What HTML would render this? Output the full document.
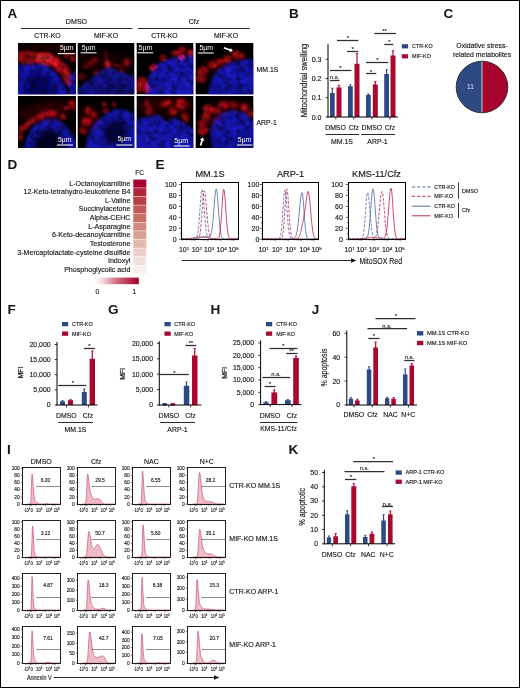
<!DOCTYPE html>
<html lang="en"><head><meta charset="utf-8"><title>Figure</title>
<style>html,body{margin:0;padding:0;background:#fff}svg{display:block}text{font-family:'Liberation Sans', sans-serif}.k{stroke:#161314;stroke-width:.13px}</style>
</head><body>
<svg width="520" height="688" viewBox="0 0 520 688" fill="#161314">
<defs>
<filter id="b1" x="-50%" y="-50%" width="200%" height="200%"><feGaussianBlur stdDeviation="1.0"/></filter>
<filter id="b2" x="-50%" y="-50%" width="200%" height="200%"><feGaussianBlur stdDeviation="1.7"/></filter>
<filter id="b3" x="-50%" y="-50%" width="200%" height="200%"><feGaussianBlur stdDeviation="3.2"/></filter>
<filter id="noise0" x="0" y="0" width="100%" height="100%"><feTurbulence type="fractalNoise" baseFrequency="0.17" numOctaves="2" seed="4"/><feColorMatrix type="matrix" values="0 0 0 0 0  0 0 0 0 0  0 0 0 0 0  0 0 0 1.0 -0.3"/></filter>
<filter id="noise1" x="0" y="0" width="100%" height="100%"><feTurbulence type="fractalNoise" baseFrequency="0.17" numOctaves="2" seed="11"/><feColorMatrix type="matrix" values="0 0 0 0 0  0 0 0 0 0  0 0 0 0 0  0 0 0 1.0 -0.3"/></filter>
</defs>
<rect x="0" y="0" width="520" height="688" fill="#fff"/>
<text transform="translate(7.4 18.1) scale(1.13 1)" x="0" y="0" font-size="12" font-weight="bold">A</text>
<text x="76.5" y="23.54" font-size="7.1" text-anchor="middle" class="k">DMSO</text>
<text x="194" y="23.54" font-size="7.1" text-anchor="middle" class="k">Cfz</text>
<line x1="21" y1="28.5" x2="132.5" y2="28.5" stroke="#2a2a2a" stroke-width="1"/>
<line x1="138" y1="28.5" x2="249.5" y2="28.5" stroke="#2a2a2a" stroke-width="1"/>
<text x="47.5" y="37.67" font-size="6.9" text-anchor="middle" class="k">CTR-KO</text>
<text x="106" y="37.67" font-size="6.9" text-anchor="middle" class="k">MIF-KO</text>
<text x="164.5" y="37.67" font-size="6.9" text-anchor="middle" class="k">CTR-KO</text>
<text x="226" y="37.67" font-size="6.9" text-anchor="middle" class="k">MIF-KO</text>
<text x="256.5" y="71.97" font-size="6.9" class="k">MM.1S</text>
<text x="256.5" y="124.97" font-size="6.9" class="k">ARP-1</text>
<g transform="translate(18 43)" clip-path="url(#clip1)">
<clipPath id="clip1"><rect x="0" y="0" width="58" height="51.5"/></clipPath>
<rect x="0" y="0" width="58" height="51.5" fill="#000"/>
<path d="M-3 22.5 C8 20.5 20 20 28 22 C36 25.5 43.5 36 48.5 47 L52 58 L-3 58Z" fill="#1515ba" opacity="1" filter="url(#b2)"/>
<path d="M50 35 C53 30 57 28 62 27 L62 56 L52 56 C52 48 49 41 50 35Z" fill="#1515ba" opacity="0.9" filter="url(#b2)"/>
<path d="M8 34 C14 27 24 27 31 33 C36 40 38 48 38 58 L6 58Z" fill="#06065a" opacity="0.75" filter="url(#b3)"/>
<ellipse cx="10" cy="14.5" rx="14" ry="6.6" transform="rotate(3 10 14.5)" fill="#c80c18" opacity="0.8" filter="url(#b2)" style="mix-blend-mode:screen"/>
<ellipse cx="30" cy="16.5" rx="13" ry="6.6" transform="rotate(12 30 16.5)" fill="#c80c18" opacity="0.95" filter="url(#b2)" style="mix-blend-mode:screen"/>
<ellipse cx="43.5" cy="25" rx="11" ry="5.6" transform="rotate(40 43.5 25)" fill="#c80c18" opacity="0.9" filter="url(#b2)" style="mix-blend-mode:screen"/>
<ellipse cx="49" cy="35" rx="8.25" ry="4.11" transform="rotate(64 49 35)" fill="#c80c18" opacity="0.8" filter="url(#b2)" style="mix-blend-mode:screen"/>
<ellipse cx="27" cy="14.5" rx="8.25" ry="4.11" transform="rotate(10 27 14.5)" fill="#ff2222" opacity="0.9" filter="url(#b1)" style="mix-blend-mode:screen"/>
<ellipse cx="53" cy="14" rx="8.25" ry="4.11" transform="rotate(20 53 14)" fill="#c80c18" opacity="0.6" filter="url(#b2)" style="mix-blend-mode:screen"/>
<ellipse cx="29" cy="5.5" rx="30" ry="3" transform="rotate(0 29 5.5)" fill="#900" opacity="0.3" filter="url(#b3)" style="mix-blend-mode:screen"/>
<rect x="0" y="0" width="58" height="51.5" filter="url(#noise1)"/>

<line x1="39.9" y1="10.6" x2="56.9" y2="10.6" stroke="#f2f2f2" stroke-width="1.1"/>
<text x="48.7" y="7.03" font-size="6.5" text-anchor="middle" textLength="13.6" lengthAdjust="spacingAndGlyphs" fill="#fff">5µm</text>
</g>
<g transform="translate(77.5 43)" clip-path="url(#clip2)">
<clipPath id="clip2"><rect x="0" y="0" width="57" height="51.5"/></clipPath>
<rect x="0" y="0" width="57" height="51.5" fill="#000"/>
<path d="M-3 47 C8 41 18 30 30 23.5 C40 27 50 32 60 33 L60 58 L-3 58Z" fill="#1212a4" opacity="0.9" filter="url(#b2)"/>
<path d="M16 58 C22 47 30 42 40 42 C50 44 56 48 60 53 L60 58Z" fill="#08085c" opacity="0.5" filter="url(#b3)"/>
<ellipse cx="16.5" cy="18" rx="5.26" ry="2.73" transform="rotate(-30 16.5 18)" fill="#c80c18" opacity="0.6" filter="url(#b2)" style="mix-blend-mode:screen"/>
<ellipse cx="30" cy="21.2" rx="3.19" ry="2.96" transform="rotate(0 30 21.2)" fill="#f01c1c" opacity="0.95" filter="url(#b1)" style="mix-blend-mode:screen"/>
<ellipse cx="28.4" cy="13.5" rx="1.58" ry="6.52" transform="rotate(-8 28.4 13.5)" fill="#c80c18" opacity="0.55" filter="url(#b1)" style="mix-blend-mode:screen"/>
<ellipse cx="40" cy="22.5" rx="9" ry="1.2" transform="rotate(6 40 22.5)" fill="#c80c18" opacity="0.55" filter="url(#b1)" style="mix-blend-mode:screen"/>
<ellipse cx="49.5" cy="19.5" rx="3.42" ry="3.65" transform="rotate(0 49.5 19.5)" fill="#c80c18" opacity="0.65" filter="url(#b2)" style="mix-blend-mode:screen"/>
<ellipse cx="45" cy="27" rx="4.11" ry="2.04" transform="rotate(0 45 27)" fill="#c80c18" opacity="0.55" filter="url(#b2)" style="mix-blend-mode:screen"/>
<ellipse cx="4" cy="33.5" rx="5.26" ry="3.42" transform="rotate(0 4 33.5)" fill="#c80c18" opacity="0.5" filter="url(#b2)" style="mix-blend-mode:screen"/>
<ellipse cx="18.5" cy="29.5" rx="4.11" ry="2.27" transform="rotate(0 18.5 29.5)" fill="#c80c18" opacity="0.5" filter="url(#b2)" style="mix-blend-mode:screen"/>
<ellipse cx="10" cy="23" rx="4.8" ry="2.5" transform="rotate(-20 10 23)" fill="#c80c18" opacity="0.4" filter="url(#b2)" style="mix-blend-mode:screen"/>
<ellipse cx="28" cy="19" rx="34" ry="7" transform="rotate(0 28 19)" fill="#a00" opacity="0.2" filter="url(#b3)" style="mix-blend-mode:screen"/>
<rect x="0" y="0" width="57" height="51.5" filter="url(#noise0)"/>

<line x1="3.1" y1="9.8" x2="19" y2="9.8" stroke="#f2f2f2" stroke-width="1.1"/>
<text x="11.1" y="7.03" font-size="6.5" text-anchor="middle" textLength="13.6" lengthAdjust="spacingAndGlyphs" fill="#fff">5µm</text>
</g>
<g transform="translate(136.5 43)" clip-path="url(#clip3)">
<clipPath id="clip3"><rect x="0" y="0" width="57" height="51.5"/></clipPath>
<rect x="0" y="0" width="57" height="51.5" fill="#000"/>
<path d="M11 58 C8 45 10 33 19 23 C26 17 36 14 47 13 L62 11 L62 58Z" fill="#1515ba" opacity="1" filter="url(#b2)"/>
<path d="M24 58 C22 46 28 32 40 28 C50 26 56 30 62 32 L62 58Z" fill="#2020f0" opacity="0.35" filter="url(#b3)"/>
<ellipse cx="39" cy="10" rx="4.34" ry="2.96" transform="rotate(0 39 10)" fill="#c80c18" opacity="0.95" filter="url(#b1)" style="mix-blend-mode:screen"/>
<ellipse cx="46" cy="7.6" rx="4.11" ry="3.65" transform="rotate(30 46 7.6)" fill="#c80c18" opacity="0.95" filter="url(#b1)" style="mix-blend-mode:screen"/>
<ellipse cx="54.6" cy="10" rx="3.65" ry="3.65" transform="rotate(0 54.6 10)" fill="#c80c18" opacity="0.9" filter="url(#b1)" style="mix-blend-mode:screen"/>
<ellipse cx="45" cy="14.2" rx="4.11" ry="2.96" transform="rotate(0 45 14.2)" fill="#c80c18" opacity="0.95" filter="url(#b1)" style="mix-blend-mode:screen"/>
<ellipse cx="26.6" cy="15" rx="3.65" ry="3.19" transform="rotate(0 26.6 15)" fill="#c80c18" opacity="0.9" filter="url(#b1)" style="mix-blend-mode:screen"/>
<ellipse cx="16.6" cy="24.5" rx="4.34" ry="3.19" transform="rotate(-35 16.6 24.5)" fill="#c80c18" opacity="0.95" filter="url(#b1)" style="mix-blend-mode:screen"/>
<ellipse cx="5.5" cy="39" rx="6.52" ry="4.8" transform="rotate(20 5.5 39)" fill="#c80c18" opacity="0.9" filter="url(#b2)" style="mix-blend-mode:screen"/>
<ellipse cx="10" cy="46" rx="4.22" ry="4.22" transform="rotate(0 10 46)" fill="#c80c18" opacity="0.9" filter="url(#b2)" style="mix-blend-mode:screen"/>
<ellipse cx="3" cy="45" rx="3.65" ry="3.65" transform="rotate(0 3 45)" fill="#c80c18" opacity="0.8" filter="url(#b2)" style="mix-blend-mode:screen"/>
<rect x="0" y="0" width="57" height="51.5" filter="url(#noise1)"/>

<line x1="0.9" y1="9.8" x2="16.7" y2="9.8" stroke="#f2f2f2" stroke-width="1.1"/>
<text x="8.9" y="7.03" font-size="6.5" text-anchor="middle" textLength="13.6" lengthAdjust="spacingAndGlyphs" fill="#fff">5µm</text>
</g>
<g transform="translate(195.5 43)" clip-path="url(#clip4)">
<clipPath id="clip4"><rect x="0" y="0" width="58" height="51.5"/></clipPath>
<rect x="0" y="0" width="58" height="51.5" fill="#000"/>
<path d="M13 58 C12 45 15 33.5 24 25.5 C31 19.5 41 16.5 62 15.5 L62 58Z" fill="#1515ba" opacity="0.95" filter="url(#b2)"/>
<path d="M26 30 C30 24 38 24 40 30 C40 36 30 38 26 30Z" fill="#2020f0" opacity="0.55" filter="url(#b2)"/>
<path d="M44 36 C46 30 54 28 57 33 C58 40 48 44 44 36Z" fill="#2020f0" opacity="0.55" filter="url(#b2)"/>
<ellipse cx="42.5" cy="12" rx="6.41" ry="4.34" transform="rotate(20 42.5 12)" fill="#c80c18" opacity="0.95" filter="url(#b2)" style="mix-blend-mode:screen"/>
<ellipse cx="31.8" cy="16" rx="4.34" ry="3.65" transform="rotate(0 31.8 16)" fill="#c80c18" opacity="0.85" filter="url(#b1)" style="mix-blend-mode:screen"/>
<ellipse cx="24.4" cy="18.8" rx="4.11" ry="3.42" transform="rotate(0 24.4 18.8)" fill="#c80c18" opacity="0.85" filter="url(#b1)" style="mix-blend-mode:screen"/>
<ellipse cx="17.6" cy="21.6" rx="4.34" ry="3.65" transform="rotate(0 17.6 21.6)" fill="#c80c18" opacity="0.85" filter="url(#b1)" style="mix-blend-mode:screen"/>
<ellipse cx="7" cy="28.4" rx="5.95" ry="4.34" transform="rotate(-20 7 28.4)" fill="#c80c18" opacity="0.8" filter="url(#b2)" style="mix-blend-mode:screen"/>
<ellipse cx="5.6" cy="35.4" rx="5.49" ry="4.34" transform="rotate(0 5.6 35.4)" fill="#c80c18" opacity="0.8" filter="url(#b2)" style="mix-blend-mode:screen"/>
<ellipse cx="20" cy="22" rx="18" ry="5" transform="rotate(-22 20 22)" fill="#c00" opacity="0.3" filter="url(#b3)" style="mix-blend-mode:screen"/>
<rect x="0" y="0" width="58" height="51.5" filter="url(#noise0)"/>
<g transform="translate(28.4 4.8) rotate(20)"><path d="M0 -0.8 L6.5 -0.8 L6.5 -2.2 L9.6 0 L6.5 2.2 L6.5 0.8 L0 0.8Z" fill="#fff"/></g>
<line x1="2.3" y1="10" x2="18.2" y2="10" stroke="#f2f2f2" stroke-width="1.1"/>
<text x="10.8" y="7.03" font-size="6.5" text-anchor="middle" textLength="13.6" lengthAdjust="spacingAndGlyphs" fill="#fff">5µm</text>
</g>
<g transform="translate(18 96)" clip-path="url(#clip5)">
<clipPath id="clip5"><rect x="0" y="0" width="58" height="52"/></clipPath>
<rect x="0" y="0" width="58" height="52" fill="#000"/>
<path d="M6 58 C7 43 12 31 22 25.5 C30 21 38 22 45 27 C52 33 56 41 60 49 L60 58Z" fill="#1515ba" opacity="1" filter="url(#b2)"/>
<path d="M13 64 C15 45 22 33.5 31 32.5 C41 33.5 48 45 50 64Z" fill="#00001c" opacity="0.92" filter="url(#b3)"/>
<ellipse cx="31" cy="17" rx="8.82" ry="3.42" transform="rotate(0 31 17)" fill="#c80c18" opacity="0.9" filter="url(#b2)" style="mix-blend-mode:screen"/>
<ellipse cx="14" cy="25" rx="5.38" ry="2.96" transform="rotate(-35 14 25)" fill="#c80c18" opacity="0.85" filter="url(#b2)" style="mix-blend-mode:screen"/>
<ellipse cx="8" cy="30" rx="4.11" ry="2.96" transform="rotate(-40 8 30)" fill="#c80c18" opacity="0.8" filter="url(#b2)" style="mix-blend-mode:screen"/>
<ellipse cx="2.6" cy="33.5" rx="3.19" ry="4.11" transform="rotate(0 2.6 33.5)" fill="#c80c18" opacity="0.8" filter="url(#b2)" style="mix-blend-mode:screen"/>
<ellipse cx="2" cy="41" rx="2.96" ry="4.11" transform="rotate(0 2 41)" fill="#c80c18" opacity="0.7" filter="url(#b2)" style="mix-blend-mode:screen"/>
<ellipse cx="54.6" cy="6.8" rx="4.8" ry="2.5" transform="rotate(10 54.6 6.8)" fill="#c80c18" opacity="0.8" filter="url(#b1)" style="mix-blend-mode:screen"/>
<ellipse cx="49" cy="11.4" rx="3.19" ry="2.27" transform="rotate(0 49 11.4)" fill="#c80c18" opacity="0.8" filter="url(#b1)" style="mix-blend-mode:screen"/>
<ellipse cx="55.6" cy="11.4" rx="3.19" ry="2.04" transform="rotate(0 55.6 11.4)" fill="#c80c18" opacity="0.7" filter="url(#b1)" style="mix-blend-mode:screen"/>
<ellipse cx="44.6" cy="21" rx="3.65" ry="2.96" transform="rotate(30 44.6 21)" fill="#c80c18" opacity="0.75" filter="url(#b2)" style="mix-blend-mode:screen"/>
<ellipse cx="22" cy="21" rx="4.8" ry="2.96" transform="rotate(-20 22 21)" fill="#c80c18" opacity="0.8" filter="url(#b2)" style="mix-blend-mode:screen"/>
<ellipse cx="28" cy="15" rx="30" ry="9" transform="rotate(-8 28 15)" fill="#a00" opacity="0.3" filter="url(#b3)" style="mix-blend-mode:screen"/>
<rect x="0" y="0" width="58" height="52" filter="url(#noise1)"/>

<line x1="38.8" y1="49" x2="54.9" y2="49" stroke="#f2f2f2" stroke-width="1.1"/>
<text x="46.8" y="46.43" font-size="6.5" text-anchor="middle" textLength="13.6" lengthAdjust="spacingAndGlyphs" fill="#fff">5µm</text>
</g>
<g transform="translate(77.5 96)" clip-path="url(#clip6)">
<clipPath id="clip6"><rect x="0" y="0" width="57" height="52"/></clipPath>
<rect x="0" y="0" width="57" height="52" fill="#000"/>
<path d="M7 58 C9 43 12 33 18 26.6 C24 21 30 17 38 13.3 C44 12 52 15 60 20 L60 58Z" fill="#1515ba" opacity="1" filter="url(#b2)"/>
<path d="M26 41 C26 28 35 21.5 43 24 C52 28 52 40 45 46.5 C36 51 28 48 26 41Z" fill="#00002a" opacity="0.85" filter="url(#b3)"/>
<ellipse cx="11" cy="14.5" rx="2.96" ry="3.65" transform="rotate(0 11 14.5)" fill="#c80c18" opacity="0.8" filter="url(#b1)" style="mix-blend-mode:screen"/>
<ellipse cx="16.7" cy="19" rx="3.19" ry="3.19" transform="rotate(0 16.7 19)" fill="#c80c18" opacity="0.8" filter="url(#b1)" style="mix-blend-mode:screen"/>
<ellipse cx="9" cy="25.6" rx="5.26" ry="4.34" transform="rotate(0 9 25.6)" fill="#c80c18" opacity="0.9" filter="url(#b2)" style="mix-blend-mode:screen"/>
<ellipse cx="5.6" cy="34.6" rx="4.34" ry="3.19" transform="rotate(30 5.6 34.6)" fill="#c80c18" opacity="0.85" filter="url(#b2)" style="mix-blend-mode:screen"/>
<ellipse cx="26.8" cy="8.4" rx="2.5" ry="2.5" transform="rotate(0 26.8 8.4)" fill="#c80c18" opacity="0.8" filter="url(#b1)" style="mix-blend-mode:screen"/>
<ellipse cx="28" cy="14.5" rx="3.19" ry="2.5" transform="rotate(0 28 14.5)" fill="#c80c18" opacity="0.85" filter="url(#b1)" style="mix-blend-mode:screen"/>
<ellipse cx="36.2" cy="8.4" rx="2.5" ry="2.5" transform="rotate(0 36.2 8.4)" fill="#c80c18" opacity="0.75" filter="url(#b1)" style="mix-blend-mode:screen"/>
<ellipse cx="12" cy="22" rx="10" ry="12" transform="rotate(0 12 22)" fill="#a00" opacity="0.3" filter="url(#b3)" style="mix-blend-mode:screen"/>
<rect x="0" y="0" width="57" height="52" filter="url(#noise0)"/>

<line x1="38.8" y1="49" x2="54.9" y2="49" stroke="#f2f2f2" stroke-width="1.1"/>
<text x="46.8" y="45.03" font-size="6.5" text-anchor="middle" textLength="13.6" lengthAdjust="spacingAndGlyphs" fill="#fff">5µm</text>
</g>
<g transform="translate(136.5 96)" clip-path="url(#clip7)">
<clipPath id="clip7"><rect x="0" y="0" width="57" height="52"/></clipPath>
<rect x="0" y="0" width="57" height="52" fill="#000"/>
<path d="M-3 25 C4 22 14 20 22 19 C25 21 27 24 29 25 C33 24 36 22 39 22.5 C44 24 52 30 61 35 L61 58 L-3 58Z" fill="#1515ba" opacity="1" filter="url(#b2)"/>
<path d="M4 42 C10 34 20 32 30 36 C40 38 50 42 58 48 L58 58 L4 58Z" fill="#2020f0" opacity="0.3" filter="url(#b3)"/>
<ellipse cx="10.6" cy="7.2" rx="3.19" ry="3.65" transform="rotate(0 10.6 7.2)" fill="#c80c18" opacity="0.6" filter="url(#b2)" style="mix-blend-mode:screen"/>
<ellipse cx="12.3" cy="15" rx="4.11" ry="3.65" transform="rotate(0 12.3 15)" fill="#c80c18" opacity="0.85" filter="url(#b2)" style="mix-blend-mode:screen"/>
<ellipse cx="29.5" cy="7.2" rx="5.95" ry="2.96" transform="rotate(-15 29.5 7.2)" fill="#c80c18" opacity="0.85" filter="url(#b2)" style="mix-blend-mode:screen"/>
<ellipse cx="44.6" cy="7.8" rx="5.95" ry="5.26" transform="rotate(0 44.6 7.8)" fill="#c80c18" opacity="0.9" filter="url(#b2)" style="mix-blend-mode:screen"/>
<ellipse cx="36.8" cy="15" rx="4.34" ry="4.34" transform="rotate(0 36.8 15)" fill="#c80c18" opacity="0.85" filter="url(#b2)" style="mix-blend-mode:screen"/>
<ellipse cx="49" cy="21" rx="3.19" ry="5.49" transform="rotate(-15 49 21)" fill="#c80c18" opacity="0.8" filter="url(#b2)" style="mix-blend-mode:screen"/>
<ellipse cx="30" cy="10" rx="30" ry="9" transform="rotate(0 30 10)" fill="#a00" opacity="0.28" filter="url(#b3)" style="mix-blend-mode:screen"/>
<rect x="0" y="0" width="57" height="52" filter="url(#noise1)"/>

<line x1="37.3" y1="50" x2="53" y2="50" stroke="#f2f2f2" stroke-width="1.1"/>
<text x="44.6" y="46.63" font-size="6.5" text-anchor="middle" textLength="13.6" lengthAdjust="spacingAndGlyphs" fill="#fff">5µm</text>
</g>
<g transform="translate(195.5 96)" clip-path="url(#clip8)">
<clipPath id="clip8"><rect x="0" y="0" width="58" height="52"/></clipPath>
<rect x="0" y="0" width="58" height="52" fill="#000"/>
<path d="M37.5 14.6 C51 14.6 62 25 62 39 C62 53 51 63 37.5 63 C24 63 14.5 53 14.5 39 C14.5 25 24 14.6 37.5 14.6Z" fill="#1515ba" opacity="0.95" filter="url(#b2)"/>
<path d="M30 30 C34 24 44 24 46 32 C46 40 34 42 30 30Z" fill="#2020f0" opacity="0.45" filter="url(#b3)"/>
<ellipse cx="13" cy="13" rx="5.26" ry="4.8" transform="rotate(0 13 13)" fill="#c80c18" opacity="0.95" filter="url(#b2)" style="mix-blend-mode:screen"/>
<ellipse cx="21" cy="14.8" rx="3.65" ry="3.19" transform="rotate(0 21 14.8)" fill="#c80c18" opacity="0.85" filter="url(#b2)" style="mix-blend-mode:screen"/>
<ellipse cx="28.4" cy="9" rx="5.49" ry="3.65" transform="rotate(-10 28.4 9)" fill="#c80c18" opacity="0.85" filter="url(#b2)" style="mix-blend-mode:screen"/>
<ellipse cx="37.5" cy="8.5" rx="5.49" ry="2.96" transform="rotate(0 37.5 8.5)" fill="#c80c18" opacity="0.7" filter="url(#b2)" style="mix-blend-mode:screen"/>
<ellipse cx="48.8" cy="11.4" rx="4.34" ry="3.65" transform="rotate(20 48.8 11.4)" fill="#c80c18" opacity="0.85" filter="url(#b2)" style="mix-blend-mode:screen"/>
<ellipse cx="55.6" cy="17" rx="3.65" ry="4.34" transform="rotate(30 55.6 17)" fill="#c80c18" opacity="0.8" filter="url(#b2)" style="mix-blend-mode:screen"/>
<ellipse cx="10.2" cy="20.4" rx="4.34" ry="3.65" transform="rotate(0 10.2 20.4)" fill="#c80c18" opacity="0.8" filter="url(#b2)" style="mix-blend-mode:screen"/>
<ellipse cx="6.8" cy="27.4" rx="4.34" ry="3.65" transform="rotate(0 6.8 27.4)" fill="#c80c18" opacity="0.8" filter="url(#b2)" style="mix-blend-mode:screen"/>
<ellipse cx="7.4" cy="34.6" rx="5.49" ry="4.34" transform="rotate(0 7.4 34.6)" fill="#c80c18" opacity="1" filter="url(#b2)" style="mix-blend-mode:screen"/>
<ellipse cx="20" cy="20" rx="16" ry="6" transform="rotate(-45 20 20)" fill="#c00" opacity="0.3" filter="url(#b3)" style="mix-blend-mode:screen"/>
<ellipse cx="40" cy="10" rx="18" ry="4" transform="rotate(8 40 10)" fill="#c00" opacity="0.3" filter="url(#b3)" style="mix-blend-mode:screen"/>
<rect x="0" y="0" width="58" height="52" filter="url(#noise0)"/>
<g transform="translate(5.1 49.6) rotate(-74)"><path d="M0 -0.9 L5.5 -0.9 L5.5 -2.4 L8.6 0 L5.5 2.4 L5.5 0.9 L0 0.9Z" fill="#fff"/></g>
<line x1="41.4" y1="49" x2="56.8" y2="49" stroke="#f2f2f2" stroke-width="1.1"/>
<text x="49" y="45.73" font-size="6.5" text-anchor="middle" textLength="13.6" lengthAdjust="spacingAndGlyphs" fill="#fff">5µm</text>
</g>
<text transform="translate(288.9 18.1) scale(1.13 1)" x="0" y="0" font-size="12" font-weight="bold">B</text>
<line x1="332.35" y1="88" x2="332.35" y2="93.5" stroke="#2c4b86" stroke-width="1.2"/>
<line x1="331.15" y1="88.2" x2="333.55" y2="88.2" stroke="#2c4b86" stroke-width="0.8"/>
<rect x="330" y="93" width="4.7" height="24" fill="#2c4b86"/>
<line x1="339" y1="85" x2="339" y2="88" stroke="#a9092f" stroke-width="1.2"/>
<line x1="337.8" y1="85.2" x2="340.2" y2="85.2" stroke="#a9092f" stroke-width="0.8"/>
<rect x="336.5" y="87.5" width="5" height="29.5" fill="#a9092f"/>
<line x1="350.4" y1="84.5" x2="350.4" y2="86.7" stroke="#2c4b86" stroke-width="1.2"/>
<line x1="349.2" y1="84.7" x2="351.6" y2="84.7" stroke="#2c4b86" stroke-width="0.8"/>
<rect x="348" y="86.2" width="4.8" height="30.8" fill="#2c4b86"/>
<line x1="357" y1="53.2" x2="357" y2="64.3" stroke="#a9092f" stroke-width="1.2"/>
<line x1="355.8" y1="53.4" x2="358.2" y2="53.4" stroke="#a9092f" stroke-width="0.8"/>
<rect x="354.5" y="63.8" width="5" height="53.2" fill="#a9092f"/>
<line x1="368.4" y1="93.8" x2="368.4" y2="95.5" stroke="#2c4b86" stroke-width="1.2"/>
<line x1="367.2" y1="94" x2="369.6" y2="94" stroke="#2c4b86" stroke-width="0.8"/>
<rect x="366" y="95" width="4.8" height="22" fill="#2c4b86"/>
<line x1="375.3" y1="81.2" x2="375.3" y2="85" stroke="#a9092f" stroke-width="1.2"/>
<line x1="374.1" y1="81.4" x2="376.5" y2="81.4" stroke="#a9092f" stroke-width="0.8"/>
<rect x="372.8" y="84.5" width="5" height="32.5" fill="#a9092f"/>
<line x1="386.6" y1="69.5" x2="386.6" y2="74.5" stroke="#2c4b86" stroke-width="1.2"/>
<line x1="385.4" y1="69.7" x2="387.8" y2="69.7" stroke="#2c4b86" stroke-width="0.8"/>
<rect x="384.2" y="74" width="4.8" height="43" fill="#2c4b86"/>
<line x1="393" y1="50.5" x2="393" y2="56" stroke="#a9092f" stroke-width="1.2"/>
<line x1="391.8" y1="50.7" x2="394.2" y2="50.7" stroke="#a9092f" stroke-width="0.8"/>
<rect x="390.5" y="55.5" width="5" height="61.5" fill="#a9092f"/>
<line x1="328" y1="43.8" x2="328" y2="117.5" stroke="#000" stroke-width="1"/>
<line x1="327.5" y1="117" x2="398" y2="117" stroke="#000" stroke-width="1"/>
<line x1="325.7" y1="117" x2="328" y2="117" stroke="#000" stroke-width="0.8"/>
<text x="321.5" y="119.54" font-size="7.1" text-anchor="end" class="k">0.0</text>
<line x1="325.7" y1="97.75" x2="328" y2="97.75" stroke="#000" stroke-width="0.8"/>
<text x="321.5" y="100.29" font-size="7.1" text-anchor="end" class="k">0.1</text>
<line x1="325.7" y1="78.5" x2="328" y2="78.5" stroke="#000" stroke-width="0.8"/>
<text x="321.5" y="81.04" font-size="7.1" text-anchor="end" class="k">0.2</text>
<line x1="325.7" y1="59.25" x2="328" y2="59.25" stroke="#000" stroke-width="0.8"/>
<text x="321.5" y="61.79" font-size="7.1" text-anchor="end" class="k">0.3</text>
<line x1="335.8" y1="117" x2="335.8" y2="119.4" stroke="#000" stroke-width="0.8"/>
<line x1="353.8" y1="117" x2="353.8" y2="119.4" stroke="#000" stroke-width="0.8"/>
<line x1="371.9" y1="117" x2="371.9" y2="119.4" stroke="#000" stroke-width="0.8"/>
<line x1="389.9" y1="117" x2="389.9" y2="119.4" stroke="#000" stroke-width="0.8"/>
<text transform="translate(303.3 80.5) rotate(-90)" x="0" y="3.22" font-size="9" text-anchor="middle" class="k" textLength="73.5" lengthAdjust="spacingAndGlyphs">Mitochondrial swelling</text>
<text x="335.5" y="129.97" font-size="6.9" text-anchor="middle" class="k">DMSO</text>
<text x="353.8" y="129.97" font-size="6.9" text-anchor="middle" class="k">Cfz</text>
<text x="371.8" y="129.97" font-size="6.9" text-anchor="middle" class="k">DMSO</text>
<text x="390" y="129.97" font-size="6.9" text-anchor="middle" class="k">Cfz</text>
<line x1="325.5" y1="134.5" x2="359.3" y2="134.5" stroke="#2a2a2a" stroke-width="1"/>
<line x1="361.3" y1="134.5" x2="395" y2="134.5" stroke="#2a2a2a" stroke-width="1"/>
<text x="342" y="143.97" font-size="6.9" text-anchor="middle" class="k">MM.1S</text>
<text x="377.5" y="143.97" font-size="6.9" text-anchor="middle" class="k">ARP-1</text>
<line x1="330" y1="80.5" x2="339.5" y2="80.5" stroke="#2e2e2e" stroke-width="1.25"/>
<text x="334.6" y="79.28" font-size="5.8" text-anchor="middle" class="k">n.s.</text>
<line x1="330" y1="70.5" x2="351.3" y2="70.5" stroke="#2e2e2e" stroke-width="1.25"/>
<text x="340.5" y="69.88" font-size="5.8" text-anchor="middle" stroke="#161314" stroke-width="0.12">*</text>
<line x1="347" y1="51.5" x2="358.3" y2="51.5" stroke="#2e2e2e" stroke-width="1.25"/>
<text x="352.6" y="51.08" font-size="5.8" text-anchor="middle" stroke="#161314" stroke-width="0.12">*</text>
<line x1="337" y1="40.5" x2="358.3" y2="40.5" stroke="#2e2e2e" stroke-width="1.25"/>
<text x="348" y="40.08" font-size="5.8" text-anchor="middle" stroke="#161314" stroke-width="0.12">*</text>
<line x1="366" y1="73.5" x2="376.3" y2="73.5" stroke="#2e2e2e" stroke-width="1.25"/>
<text x="371" y="73.68" font-size="5.8" text-anchor="middle" stroke="#161314" stroke-width="0.12">*</text>
<line x1="366" y1="62.5" x2="388.3" y2="62.5" stroke="#2e2e2e" stroke-width="1.25"/>
<text x="377.5" y="62.48" font-size="5.8" text-anchor="middle" stroke="#161314" stroke-width="0.12">*</text>
<line x1="374.3" y1="33.5" x2="396" y2="33.5" stroke="#2e2e2e" stroke-width="1.25"/>
<text x="384.6" y="32.88" font-size="5.8" text-anchor="middle" stroke="#161314" stroke-width="0.12">**</text>
<line x1="384.2" y1="44.5" x2="393.3" y2="44.5" stroke="#2e2e2e" stroke-width="1.25"/>
<text x="389.5" y="44.28" font-size="5.8" text-anchor="middle" stroke="#161314" stroke-width="0.12">*</text>
<rect x="401.8" y="44.2" width="6.2" height="4.2" fill="#2c4b86"/>
<rect x="401.8" y="54.2" width="6.2" height="4.2" fill="#a9092f"/>
<text x="412" y="48.23" font-size="5.4" class="k">CTR-KO</text>
<text x="412" y="58.23" font-size="5.4" class="k">MIF-KO</text>
<text transform="translate(443.4 18.1) scale(1.13 1)" x="0" y="0" font-size="12" font-weight="bold">C</text>
<text x="482" y="48.27" font-size="6.9" text-anchor="middle" class="k">Oxidative stress-</text>
<text x="482" y="56.67" font-size="6.9" text-anchor="middle" class="k">related metabolites</text>
<path d="M482 61.2 A25.8 25.8 0 0 0 482 112.8 Z" fill="#2d4a82"/>
<path d="M482 61.2 A25.8 25.8 0 0 1 482 112.8 Z" fill="#a6032d"/>
<line x1="482" y1="61.2" x2="482" y2="112.8" stroke="#d9d9e0" stroke-width="0.9"/>
<circle cx="482" cy="87" r="25.8" fill="none" stroke="#1a1a1a" stroke-width="0.8"/>
<text x="470.4" y="89.29" font-size="6.4" text-anchor="middle" fill="#e8e8f0">11</text>
<text x="493" y="89.29" font-size="6.4" text-anchor="middle" fill="#86223a">11</text>
<text transform="translate(7.4 169.1) scale(1.13 1)" x="0" y="0" font-size="12" font-weight="bold">D</text>
<rect x="133.3" y="179.55" width="13" height="8.1" fill="#a7032e"/>
<text x="130.4" y="185.54" font-size="7.1" text-anchor="end" class="k">L-Octanoylcarnitine</text>
<rect x="133.3" y="188.15" width="13" height="8.1" fill="#b1243a"/>
<text x="130.4" y="194.17" font-size="7.1" text-anchor="end" class="k">12-Keto-tetrahydro-leukotriene B4</text>
<rect x="133.3" y="196.75" width="13" height="8.1" fill="#b83f44"/>
<text x="130.4" y="202.79" font-size="7.1" text-anchor="end" class="k">L-Valine</text>
<rect x="133.3" y="205.35" width="13" height="8.1" fill="#c15a58"/>
<text x="130.4" y="211.42" font-size="7.1" text-anchor="end" class="k">Succinylacetone</text>
<rect x="133.3" y="213.95" width="13" height="8.1" fill="#c87068"/>
<text x="130.4" y="220.04" font-size="7.1" text-anchor="end" class="k">Alpha-CEHC</text>
<rect x="133.3" y="222.55" width="13" height="8.1" fill="#d08a80"/>
<text x="130.4" y="228.67" font-size="7.1" text-anchor="end" class="k">L-Asparagine</text>
<rect x="133.3" y="231.15" width="13" height="8.1" fill="#d8a196"/>
<text x="130.4" y="237.29" font-size="7.1" text-anchor="end" class="k">6-Keto-decanoylcarnitine</text>
<rect x="133.3" y="239.75" width="13" height="8.1" fill="#e1b9b0"/>
<text x="130.4" y="245.92" font-size="7.1" text-anchor="end" class="k">Testosterone</text>
<rect x="133.3" y="248.35" width="13" height="8.1" fill="#ead0c9"/>
<text x="130.4" y="254.54" font-size="7.1" text-anchor="end" class="k">3-Mercaptolactate-cysteine disulfide</text>
<rect x="133.3" y="256.95" width="13" height="8.1" fill="#f1e2de"/>
<text x="130.4" y="263.17" font-size="7.1" text-anchor="end" class="k">Indoxyl</text>
<rect x="133.3" y="265.55" width="13" height="8.1" fill="#f7efec"/>
<text x="130.4" y="271.79" font-size="7.1" text-anchor="end" class="k">Phosphoglycolic acid</text>
<text x="139.6" y="174.53" font-size="6.5" text-anchor="middle" class="k">FC</text>
<linearGradient id="gfc" x1="0" x2="1" y1="0" y2="0"><stop offset="0" stop-color="#fffafa"/><stop offset="0.15" stop-color="#f6e3e6"/><stop offset="0.5" stop-color="#cf6d83"/><stop offset="1" stop-color="#a3002c"/></linearGradient>
<rect x="94.6" y="277.6" width="44.2" height="6.6" fill="url(#gfc)"/>
<text x="97.5" y="293.63" font-size="6.8" text-anchor="middle" class="k">0</text>
<text x="134.3" y="293.63" font-size="6.8" text-anchor="middle" class="k">1</text>
<text transform="translate(155.6 169.1) scale(1.13 1)" x="0" y="0" font-size="12" font-weight="bold">E</text>
<text x="210" y="176.89" font-size="9.2" text-anchor="middle" class="k">MM.1S</text>
<g clip-path="url(#cE181)"><clipPath id="cE181"><rect x="181.5" y="182.5" width="57" height="57"/></clipPath>
<path d="M181.5 238.81 L181.9 239.14 L182.3 239.14 L182.7 239.14 L183.1 239.14 L183.5 238.81 L183.9 239.14 L184.3 239.14 L184.7 239.14 L185.1 239.14 L185.5 238.81 L185.9 239.14 L186.3 239.14 L186.7 239.14 L187.1 239.14 L187.5 238.81 L187.9 239.14 L188.3 239.14 L188.7 239.14 L189.1 239.14 L189.5 238.81 L189.9 239.14 L190.3 239.14 L190.7 239.14 L191.1 239.14 L191.5 238.81 L191.9 239.14 L192.3 239.14 L192.7 239.14 L193.1 239.14 L193.5 238.81 L193.9 239.13 L194.3 239.11 L194.7 239.08 L195.1 239.01 L195.5 238.56 L195.9 238.66 L196.3 238.28 L196.7 237.65 L197.1 236.66 L197.5 234.85 L197.9 233.05 L198.3 230.14 L198.7 226.37 L199.1 221.73 L199.5 216 L199.9 210.43 L200.3 204.42 L200.7 198.81 L201.1 194.12 L201.5 190.52 L201.9 189.38 L202.3 189.78 L202.7 191.78 L203.1 195.17 L203.5 199.32 L203.9 204.83 L204.3 210.29 L204.7 215.68 L205.1 220.68 L205.5 224.76 L205.9 228.79 L206.3 231.76 L206.7 234.05 L207.1 235.75 L207.5 236.62 L207.9 237.77 L208.3 238.31 L208.7 238.66 L209.1 238.87 L209.5 238.66 L209.9 239.06 L210.3 239.1 L210.7 239.12 L211.1 239.13 L211.5 238.81 L211.9 239.14 L212.3 239.14 L212.7 239.14 L213.1 239.14 L213.5 238.81 L213.9 239.14 L214.3 239.14 L214.7 239.14 L215.1 239.14 L215.5 238.81 L215.9 239.14 L216.3 239.14 L216.7 239.14 L217.1 239.14 L217.5 238.81 L217.9 239.14 L218.3 239.14 L218.7 239.14 L219.1 239.14 L219.5 238.81 L219.9 239.14 L220.3 239.14 L220.7 239.14 L221.1 239.14 L221.5 238.81 L221.9 239.14 L222.3 239.14 L222.7 239.14 L223.1 239.14 L223.5 238.81 L223.9 239.14 L224.3 239.14 L224.7 239.14 L225.1 239.14 L225.5 238.81 L225.9 239.14 L226.3 239.14 L226.7 239.14 L227.1 239.14 L227.5 238.81 L227.9 239.14 L228.3 239.14 L228.7 239.14 L229.1 239.14 L229.5 238.81 L229.9 239.14 L230.3 239.14 L230.7 239.14 L231.1 239.14 L231.5 238.81 L231.9 239.14 L232.3 239.14 L232.7 239.14 L233.1 239.14 L233.5 238.81 L233.9 239.14 L234.3 239.14 L234.7 239.14 L235.1 239.14 L235.5 238.81 L235.9 239.14 L236.3 239.14 L236.7 239.14 L237.1 239.14 L237.5 238.81 L237.9 239.14 L238.3 239.14" fill="none" stroke="#3f5f9c" stroke-width="0.75" stroke-dasharray="2.9 1.5"/>
<path d="M181.5 238.81 L181.9 239.14 L182.3 239.14 L182.7 239.14 L183.1 239.14 L183.5 238.81 L183.9 239.14 L184.3 239.14 L184.7 239.14 L185.1 239.14 L185.5 238.81 L185.9 239.14 L186.3 239.14 L186.7 239.14 L187.1 239.14 L187.5 238.81 L187.9 239.14 L188.3 239.14 L188.7 239.14 L189.1 239.14 L189.5 238.81 L189.9 239.14 L190.3 239.14 L190.7 239.14 L191.1 239.14 L191.5 238.81 L191.9 239.14 L192.3 239.14 L192.7 239.14 L193.1 239.14 L193.5 238.81 L193.9 239.14 L194.3 239.14 L194.7 239.14 L195.1 239.14 L195.5 238.81 L195.9 239.13 L196.3 239.12 L196.7 239.1 L197.1 239.05 L197.5 238.64 L197.9 238.8 L198.3 238.52 L198.7 238.04 L199.1 237.27 L199.5 235.77 L199.9 234.36 L200.3 231.94 L200.7 228.72 L201.1 224.65 L201.5 219.44 L201.9 214.27 L202.3 208.46 L202.7 202.77 L203.1 197.72 L203.5 193.49 L203.9 191.5 L204.3 191 L204.7 191.99 L205.1 194.23 L205.5 197.21 L205.9 201.65 L206.3 206.28 L206.7 211.13 L207.1 215.92 L207.5 220.09 L207.9 224.46 L208.3 227.94 L208.7 230.83 L209.1 233.15 L209.5 234.61 L209.9 236.27 L210.3 237.23 L210.7 237.91 L211.1 238.37 L211.5 238.34 L211.9 238.86 L212.3 238.98 L212.7 239.05 L213.1 239.09 L213.5 238.79 L213.9 239.13 L214.3 239.13 L214.7 239.14 L215.1 239.14 L215.5 238.81 L215.9 239.14 L216.3 239.14 L216.7 239.14 L217.1 239.14 L217.5 238.81 L217.9 239.14 L218.3 239.14 L218.7 239.14 L219.1 239.14 L219.5 238.81 L219.9 239.14 L220.3 239.14 L220.7 239.14 L221.1 239.14 L221.5 238.81 L221.9 239.14 L222.3 239.14 L222.7 239.14 L223.1 239.14 L223.5 238.81 L223.9 239.14 L224.3 239.14 L224.7 239.14 L225.1 239.14 L225.5 238.81 L225.9 239.14 L226.3 239.14 L226.7 239.14 L227.1 239.14 L227.5 238.81 L227.9 239.14 L228.3 239.14 L228.7 239.14 L229.1 239.14 L229.5 238.81 L229.9 239.14 L230.3 239.14 L230.7 239.14 L231.1 239.14 L231.5 238.81 L231.9 239.14 L232.3 239.14 L232.7 239.14 L233.1 239.14 L233.5 238.81 L233.9 239.14 L234.3 239.14 L234.7 239.14 L235.1 239.14 L235.5 238.81 L235.9 239.14 L236.3 239.14 L236.7 239.14 L237.1 239.14 L237.5 238.81 L237.9 239.14 L238.3 239.14" fill="none" stroke="#b5123a" stroke-width="0.75" stroke-dasharray="2.9 1.5"/>
<path d="M181.5 238.81 L181.9 239.14 L182.3 239.14 L182.7 239.14 L183.1 239.14 L183.5 238.81 L183.9 239.14 L184.3 239.14 L184.7 239.14 L185.1 239.14 L185.5 238.81 L185.9 239.13 L186.3 239.13 L186.7 239.13 L187.1 239.13 L187.5 238.79 L187.9 239.12 L188.3 239.11 L188.7 239.11 L189.1 239.1 L189.5 238.76 L189.9 239.08 L190.3 239.07 L190.7 239.06 L191.1 239.04 L191.5 238.69 L191.9 239 L192.3 238.98 L192.7 238.95 L193.1 238.92 L193.5 238.56 L193.9 238.85 L194.3 238.81 L194.7 238.77 L195.1 238.72 L195.5 238.34 L195.9 238.61 L196.3 238.55 L196.7 238.48 L197.1 238.41 L197.5 238.01 L197.9 238.26 L198.3 238.18 L198.7 238.1 L199.1 238.01 L199.5 237.59 L199.9 237.83 L200.3 237.75 L200.7 237.66 L201.1 237.57 L201.5 237.16 L201.9 237.41 L202.3 237.33 L202.7 237.26 L203.1 237.19 L203.5 236.8 L203.9 237.08 L204.3 237.04 L204.7 237 L205.1 236.97 L205.5 236.63 L205.9 236.95 L206.3 236.95 L206.7 236.96 L207.1 236.97 L207.5 236.66 L207.9 236.99 L208.3 236.99 L208.7 236.95 L209.1 236.85 L209.5 236.33 L209.9 236.33 L210.3 235.79 L210.7 234.96 L211.1 233.75 L211.5 231.73 L211.9 229.8 L212.3 226.9 L212.7 223.33 L213.1 219.13 L213.5 214.06 L213.9 209.31 L214.3 204.16 L214.7 199.26 L215.1 194.96 L215.5 191.29 L215.9 189.5 L216.3 188.82 L216.7 189.77 L217.1 192.41 L217.5 196.15 L217.9 201.56 L218.3 207.22 L218.7 212.98 L219.1 218.46 L219.5 223.03 L219.9 227.53 L220.3 230.89 L220.7 233.48 L221.1 235.39 L221.5 236.41 L221.9 237.65 L222.3 238.24 L222.7 238.62 L223.1 238.84 L223.5 238.64 L223.9 239.04 L224.3 239.08 L224.7 239.11 L225.1 239.12 L225.5 238.8 L225.9 239.13 L226.3 239.13 L226.7 239.13 L227.1 239.14 L227.5 238.81 L227.9 239.14 L228.3 239.14 L228.7 239.14 L229.1 239.14 L229.5 238.81 L229.9 239.14 L230.3 239.14 L230.7 239.14 L231.1 239.14 L231.5 238.81 L231.9 239.14 L232.3 239.14 L232.7 239.14 L233.1 239.14 L233.5 238.81 L233.9 239.14 L234.3 239.14 L234.7 239.14 L235.1 239.14 L235.5 238.81 L235.9 239.14 L236.3 239.14 L236.7 239.14 L237.1 239.14 L237.5 238.81 L237.9 239.14 L238.3 239.14" fill="none" stroke="#3f5f9c" stroke-width="0.75"/>
<path d="M181.5 238.79 L181.9 239.12 L182.3 239.11 L182.7 239.11 L183.1 239.1 L183.5 238.76 L183.9 239.08 L184.3 239.07 L184.7 239.06 L185.1 239.04 L185.5 238.69 L185.9 239 L186.3 238.98 L186.7 238.95 L187.1 238.92 L187.5 238.56 L187.9 238.85 L188.3 238.81 L188.7 238.77 L189.1 238.72 L189.5 238.34 L189.9 238.61 L190.3 238.55 L190.7 238.48 L191.1 238.41 L191.5 238.01 L191.9 238.26 L192.3 238.18 L192.7 238.1 L193.1 238.01 L193.5 237.59 L193.9 237.83 L194.3 237.75 L194.7 237.66 L195.1 237.57 L195.5 237.16 L195.9 237.41 L196.3 237.33 L196.7 237.26 L197.1 237.19 L197.5 236.8 L197.9 237.08 L198.3 237.04 L198.7 237 L199.1 236.97 L199.5 236.63 L199.9 236.95 L200.3 236.95 L200.7 236.96 L201.1 236.97 L201.5 236.66 L201.9 237.01 L202.3 237.04 L202.7 237.07 L203.1 237.11 L203.5 236.82 L203.9 237.2 L204.3 237.25 L204.7 237.3 L205.1 237.35 L205.5 237.08 L205.9 237.47 L206.3 237.53 L206.7 237.6 L207.1 237.66 L207.5 237.4 L207.9 237.8 L208.3 237.86 L208.7 237.93 L209.1 237.99 L209.5 237.73 L209.9 238.12 L210.3 238.18 L210.7 238.25 L211.1 238.3 L211.5 238.03 L211.9 238.42 L212.3 238.47 L212.7 238.52 L213.1 238.57 L213.5 238.28 L213.9 238.66 L214.3 238.7 L214.7 238.74 L215.1 238.77 L215.5 238.47 L215.9 238.83 L216.3 238.85 L216.7 238.85 L217.1 238.82 L217.5 238.41 L217.9 238.56 L218.3 238.23 L218.7 237.64 L219.1 236.68 L219.5 234.85 L219.9 232.98 L220.3 229.92 L220.7 225.9 L221.1 220.92 L221.5 214.81 L221.9 208.87 L222.3 202.61 L222.7 196.97 L223.1 192.55 L223.5 189.58 L223.9 189.35 L224.3 190.83 L224.7 194.1 L225.1 198.79 L225.5 204.08 L225.9 210.42 L226.3 216.32 L226.7 221.72 L227.1 226.36 L227.5 229.81 L227.9 233.04 L228.3 235.17 L228.7 236.66 L229.1 237.65 L229.5 237.95 L229.9 238.66 L230.3 238.89 L230.7 239.01 L231.1 239.08 L231.5 238.78 L231.9 239.13 L232.3 239.13 L232.7 239.14 L233.1 239.14 L233.5 238.81 L233.9 239.14 L234.3 239.14 L234.7 239.14 L235.1 239.14 L235.5 238.81 L235.9 239.14 L236.3 239.14 L236.7 239.14 L237.1 239.14 L237.5 238.81 L237.9 239.14 L238.3 239.14" fill="none" stroke="#b5123a" stroke-width="0.75"/>
</g>
<rect x="181.5" y="182.5" width="57" height="57" fill="none" stroke="#000" stroke-width="1"/>
<line x1="178.9" y1="239.25" x2="181.5" y2="239.25" stroke="#111" stroke-width="0.7"/>
<text x="176.6" y="241.76" font-size="7" text-anchor="end" class="k">0</text>
<line x1="178.9" y1="228.3" x2="181.5" y2="228.3" stroke="#111" stroke-width="0.7"/>
<text x="176.6" y="230.81" font-size="7" text-anchor="end" class="k">20</text>
<line x1="178.9" y1="217.35" x2="181.5" y2="217.35" stroke="#111" stroke-width="0.7"/>
<text x="176.6" y="219.86" font-size="7" text-anchor="end" class="k">40</text>
<line x1="178.9" y1="206.4" x2="181.5" y2="206.4" stroke="#111" stroke-width="0.7"/>
<text x="176.6" y="208.91" font-size="7" text-anchor="end" class="k">60</text>
<line x1="178.9" y1="195.45" x2="181.5" y2="195.45" stroke="#111" stroke-width="0.7"/>
<text x="176.6" y="197.96" font-size="7" text-anchor="end" class="k">80</text>
<line x1="178.9" y1="184.5" x2="181.5" y2="184.5" stroke="#111" stroke-width="0.7"/>
<text x="176.6" y="187.01" font-size="7" text-anchor="end" class="k">100</text>
<line x1="179.9" y1="233.78" x2="181.5" y2="233.78" stroke="#111" stroke-width="0.6"/>
<line x1="179.9" y1="222.82" x2="181.5" y2="222.82" stroke="#111" stroke-width="0.6"/>
<line x1="179.9" y1="211.88" x2="181.5" y2="211.88" stroke="#111" stroke-width="0.6"/>
<line x1="179.9" y1="200.93" x2="181.5" y2="200.93" stroke="#111" stroke-width="0.6"/>
<line x1="179.9" y1="189.97" x2="181.5" y2="189.97" stroke="#111" stroke-width="0.6"/>
<line x1="180.4" y1="236.51" x2="181.5" y2="236.51" stroke="#111" stroke-width="0.35"/>
<line x1="180.4" y1="231.04" x2="181.5" y2="231.04" stroke="#111" stroke-width="0.35"/>
<line x1="180.4" y1="225.56" x2="181.5" y2="225.56" stroke="#111" stroke-width="0.35"/>
<line x1="180.4" y1="220.09" x2="181.5" y2="220.09" stroke="#111" stroke-width="0.35"/>
<line x1="180.4" y1="214.61" x2="181.5" y2="214.61" stroke="#111" stroke-width="0.35"/>
<line x1="180.4" y1="209.14" x2="181.5" y2="209.14" stroke="#111" stroke-width="0.35"/>
<line x1="180.4" y1="203.66" x2="181.5" y2="203.66" stroke="#111" stroke-width="0.35"/>
<line x1="180.4" y1="198.19" x2="181.5" y2="198.19" stroke="#111" stroke-width="0.35"/>
<line x1="180.4" y1="192.71" x2="181.5" y2="192.71" stroke="#111" stroke-width="0.35"/>
<line x1="180.4" y1="187.24" x2="181.5" y2="187.24" stroke="#111" stroke-width="0.35"/>
<text x="184" y="252.11" font-size="7" text-anchor="middle" class="k">10<tspan font-size="4.4" dy="-2.6">1</tspan></text>
<text x="196.8" y="252.11" font-size="7" text-anchor="middle" class="k">10<tspan font-size="4.4" dy="-2.6">2</tspan></text>
<text x="209" y="252.11" font-size="7" text-anchor="middle" class="k">10<tspan font-size="4.4" dy="-2.6">3</tspan></text>
<text x="221.5" y="252.11" font-size="7" text-anchor="middle" class="k">10<tspan font-size="4.4" dy="-2.6">4</tspan></text>
<text x="233.3" y="252.11" font-size="7" text-anchor="middle" class="k">10<tspan font-size="4.4" dy="-2.6">5</tspan></text>
<line x1="182" y1="239.5" x2="182" y2="241.3" stroke="#161314" stroke-width="0.35"/>
<line x1="185.92" y1="239.5" x2="185.92" y2="240.5" stroke="#161314" stroke-width="0.35"/>
<line x1="188.21" y1="239.5" x2="188.21" y2="240.5" stroke="#161314" stroke-width="0.35"/>
<line x1="189.84" y1="239.5" x2="189.84" y2="240.5" stroke="#161314" stroke-width="0.35"/>
<line x1="191.1" y1="239.5" x2="191.1" y2="240.5" stroke="#161314" stroke-width="0.35"/>
<line x1="192.13" y1="239.5" x2="192.13" y2="240.5" stroke="#161314" stroke-width="0.35"/>
<line x1="193.01" y1="239.5" x2="193.01" y2="240.5" stroke="#161314" stroke-width="0.35"/>
<line x1="193.76" y1="239.5" x2="193.76" y2="240.5" stroke="#161314" stroke-width="0.35"/>
<line x1="194.43" y1="239.5" x2="194.43" y2="240.5" stroke="#161314" stroke-width="0.35"/>
<line x1="195.02" y1="239.5" x2="195.02" y2="241.3" stroke="#161314" stroke-width="0.35"/>
<line x1="198.94" y1="239.5" x2="198.94" y2="240.5" stroke="#161314" stroke-width="0.35"/>
<line x1="201.24" y1="239.5" x2="201.24" y2="240.5" stroke="#161314" stroke-width="0.35"/>
<line x1="202.86" y1="239.5" x2="202.86" y2="240.5" stroke="#161314" stroke-width="0.35"/>
<line x1="204.13" y1="239.5" x2="204.13" y2="240.5" stroke="#161314" stroke-width="0.35"/>
<line x1="205.16" y1="239.5" x2="205.16" y2="240.5" stroke="#161314" stroke-width="0.35"/>
<line x1="206.03" y1="239.5" x2="206.03" y2="240.5" stroke="#161314" stroke-width="0.35"/>
<line x1="206.78" y1="239.5" x2="206.78" y2="240.5" stroke="#161314" stroke-width="0.35"/>
<line x1="207.45" y1="239.5" x2="207.45" y2="240.5" stroke="#161314" stroke-width="0.35"/>
<line x1="208.05" y1="239.5" x2="208.05" y2="241.3" stroke="#161314" stroke-width="0.35"/>
<line x1="211.97" y1="239.5" x2="211.97" y2="240.5" stroke="#161314" stroke-width="0.35"/>
<line x1="214.26" y1="239.5" x2="214.26" y2="240.5" stroke="#161314" stroke-width="0.35"/>
<line x1="215.89" y1="239.5" x2="215.89" y2="240.5" stroke="#161314" stroke-width="0.35"/>
<line x1="217.15" y1="239.5" x2="217.15" y2="240.5" stroke="#161314" stroke-width="0.35"/>
<line x1="218.18" y1="239.5" x2="218.18" y2="240.5" stroke="#161314" stroke-width="0.35"/>
<line x1="219.05" y1="239.5" x2="219.05" y2="240.5" stroke="#161314" stroke-width="0.35"/>
<line x1="219.81" y1="239.5" x2="219.81" y2="240.5" stroke="#161314" stroke-width="0.35"/>
<line x1="220.47" y1="239.5" x2="220.47" y2="240.5" stroke="#161314" stroke-width="0.35"/>
<line x1="221.07" y1="239.5" x2="221.07" y2="241.3" stroke="#161314" stroke-width="0.35"/>
<line x1="224.99" y1="239.5" x2="224.99" y2="240.5" stroke="#161314" stroke-width="0.35"/>
<line x1="227.28" y1="239.5" x2="227.28" y2="240.5" stroke="#161314" stroke-width="0.35"/>
<line x1="228.91" y1="239.5" x2="228.91" y2="240.5" stroke="#161314" stroke-width="0.35"/>
<line x1="230.17" y1="239.5" x2="230.17" y2="240.5" stroke="#161314" stroke-width="0.35"/>
<line x1="231.2" y1="239.5" x2="231.2" y2="240.5" stroke="#161314" stroke-width="0.35"/>
<line x1="232.08" y1="239.5" x2="232.08" y2="240.5" stroke="#161314" stroke-width="0.35"/>
<line x1="232.83" y1="239.5" x2="232.83" y2="240.5" stroke="#161314" stroke-width="0.35"/>
<line x1="233.5" y1="239.5" x2="233.5" y2="240.5" stroke="#161314" stroke-width="0.35"/>
<line x1="234.09" y1="239.5" x2="234.09" y2="241.3" stroke="#161314" stroke-width="0.35"/>
<line x1="238.01" y1="239.5" x2="238.01" y2="240.5" stroke="#161314" stroke-width="0.35"/>
<text x="290.5" y="176.89" font-size="9.2" text-anchor="middle" class="k">ARP-1</text>
<g clip-path="url(#cE262)"><clipPath id="cE262"><rect x="262.5" y="182.5" width="56" height="57"/></clipPath>
<path d="M262.5 238.81 L262.9 239.14 L263.3 239.14 L263.7 239.14 L264.1 239.14 L264.5 238.81 L264.9 239.14 L265.3 239.14 L265.7 239.14 L266.1 239.14 L266.5 238.81 L266.9 239.14 L267.3 239.14 L267.7 239.14 L268.1 239.14 L268.5 238.81 L268.9 239.14 L269.3 239.14 L269.7 239.14 L270.1 239.14 L270.5 238.81 L270.9 239.14 L271.3 239.14 L271.7 239.14 L272.1 239.14 L272.5 238.81 L272.9 239.14 L273.3 239.14 L273.7 239.14 L274.1 239.14 L274.5 238.81 L274.9 239.14 L275.3 239.14 L275.7 239.14 L276.1 239.14 L276.5 238.81 L276.9 239.13 L277.3 239.11 L277.7 239.08 L278.1 239.01 L278.5 238.56 L278.9 238.67 L279.3 238.29 L279.7 237.67 L280.1 236.69 L280.5 234.89 L280.9 233.11 L281.3 230.24 L281.7 226.51 L282.1 221.92 L282.5 216.25 L282.9 210.75 L283.3 204.81 L283.7 199.25 L284.1 194.61 L284.5 191.05 L284.9 189.93 L285.3 190.42 L285.7 192.79 L286.1 196.78 L286.5 201.62 L286.9 207.76 L287.3 213.7 L287.7 219.33 L288.1 224.32 L288.5 228.16 L288.9 231.78 L289.3 234.26 L289.7 236.03 L290.1 237.23 L290.5 237.69 L290.9 238.51 L291.3 238.8 L291.7 238.96 L292.1 239.05 L292.5 238.77 L292.9 239.12 L293.3 239.13 L293.7 239.14 L294.1 239.14 L294.5 238.81 L294.9 239.14 L295.3 239.14 L295.7 239.14 L296.1 239.14 L296.5 238.81 L296.9 239.14 L297.3 239.14 L297.7 239.14 L298.1 239.14 L298.5 238.81 L298.9 239.14 L299.3 239.14 L299.7 239.14 L300.1 239.14 L300.5 238.81 L300.9 239.14 L301.3 239.14 L301.7 239.14 L302.1 239.14 L302.5 238.81 L302.9 239.14 L303.3 239.14 L303.7 239.14 L304.1 239.14 L304.5 238.81 L304.9 239.14 L305.3 239.14 L305.7 239.14 L306.1 239.14 L306.5 238.81 L306.9 239.14 L307.3 239.14 L307.7 239.14 L308.1 239.14 L308.5 238.81 L308.9 239.14 L309.3 239.14 L309.7 239.14 L310.1 239.14 L310.5 238.81 L310.9 239.14 L311.3 239.14 L311.7 239.14 L312.1 239.14 L312.5 238.81 L312.9 239.14 L313.3 239.14 L313.7 239.14 L314.1 239.14 L314.5 238.81 L314.9 239.14 L315.3 239.14 L315.7 239.14 L316.1 239.14 L316.5 238.81 L316.9 239.14 L317.3 239.14 L317.7 239.14 L318.1 239.14 L318.5 238.81" fill="none" stroke="#3f5f9c" stroke-width="0.75" stroke-dasharray="2.9 1.5"/>
<path d="M262.5 238.81 L262.9 239.14 L263.3 239.14 L263.7 239.14 L264.1 239.14 L264.5 238.81 L264.9 239.14 L265.3 239.14 L265.7 239.14 L266.1 239.14 L266.5 238.81 L266.9 239.14 L267.3 239.14 L267.7 239.14 L268.1 239.14 L268.5 238.81 L268.9 239.14 L269.3 239.14 L269.7 239.14 L270.1 239.14 L270.5 238.81 L270.9 239.14 L271.3 239.14 L271.7 239.14 L272.1 239.14 L272.5 238.81 L272.9 239.14 L273.3 239.14 L273.7 239.14 L274.1 239.14 L274.5 238.81 L274.9 239.14 L275.3 239.14 L275.7 239.14 L276.1 239.14 L276.5 238.81 L276.9 239.14 L277.3 239.14 L277.7 239.14 L278.1 239.14 L278.5 238.81 L278.9 239.13 L279.3 239.12 L279.7 239.09 L280.1 239.04 L280.5 238.61 L280.9 238.73 L281.3 238.38 L281.7 237.77 L282.1 236.78 L282.5 234.92 L282.9 233.01 L283.3 229.91 L283.7 225.83 L284.1 220.79 L284.5 214.6 L284.9 208.59 L285.3 202.26 L285.7 196.54 L286.1 192.08 L286.5 189.07 L286.9 188.83 L287.3 190.32 L287.7 193.62 L288.1 198.36 L288.5 203.71 L288.9 210.12 L289.3 216.08 L289.7 221.54 L290.1 226.23 L290.5 229.71 L290.9 232.98 L291.3 235.13 L291.7 236.64 L292.1 237.64 L292.5 237.94 L292.9 238.66 L293.3 238.88 L293.7 239.01 L294.1 239.08 L294.5 238.78 L294.9 239.13 L295.3 239.13 L295.7 239.14 L296.1 239.14 L296.5 238.81 L296.9 239.14 L297.3 239.14 L297.7 239.14 L298.1 239.14 L298.5 238.81 L298.9 239.14 L299.3 239.14 L299.7 239.14 L300.1 239.14 L300.5 238.81 L300.9 239.14 L301.3 239.14 L301.7 239.14 L302.1 239.14 L302.5 238.81 L302.9 239.14 L303.3 239.14 L303.7 239.14 L304.1 239.14 L304.5 238.81 L304.9 239.14 L305.3 239.14 L305.7 239.14 L306.1 239.14 L306.5 238.81 L306.9 239.14 L307.3 239.14 L307.7 239.14 L308.1 239.14 L308.5 238.81 L308.9 239.14 L309.3 239.14 L309.7 239.14 L310.1 239.14 L310.5 238.81 L310.9 239.14 L311.3 239.14 L311.7 239.14 L312.1 239.14 L312.5 238.81 L312.9 239.14 L313.3 239.14 L313.7 239.14 L314.1 239.14 L314.5 238.81 L314.9 239.14 L315.3 239.14 L315.7 239.14 L316.1 239.14 L316.5 238.81 L316.9 239.14 L317.3 239.14 L317.7 239.14 L318.1 239.14 L318.5 238.81" fill="none" stroke="#b5123a" stroke-width="0.75" stroke-dasharray="2.9 1.5"/>
<path d="M262.5 238.81 L262.9 239.14 L263.3 239.14 L263.7 239.14 L264.1 239.14 L264.5 238.81 L264.9 239.14 L265.3 239.14 L265.7 239.14 L266.1 239.14 L266.5 238.81 L266.9 239.14 L267.3 239.14 L267.7 239.14 L268.1 239.14 L268.5 238.81 L268.9 239.14 L269.3 239.14 L269.7 239.14 L270.1 239.14 L270.5 238.81 L270.9 239.14 L271.3 239.14 L271.7 239.14 L272.1 239.14 L272.5 238.81 L272.9 239.14 L273.3 239.14 L273.7 239.14 L274.1 239.14 L274.5 238.81 L274.9 239.14 L275.3 239.14 L275.7 239.14 L276.1 239.14 L276.5 238.81 L276.9 239.14 L277.3 239.14 L277.7 239.14 L278.1 239.14 L278.5 238.81 L278.9 239.14 L279.3 239.14 L279.7 239.14 L280.1 239.14 L280.5 238.81 L280.9 239.14 L281.3 239.14 L281.7 239.14 L282.1 239.14 L282.5 238.81 L282.9 239.14 L283.3 239.14 L283.7 239.14 L284.1 239.14 L284.5 238.81 L284.9 239.14 L285.3 239.14 L285.7 239.14 L286.1 239.14 L286.5 238.81 L286.9 239.14 L287.3 239.14 L287.7 239.14 L288.1 239.14 L288.5 238.81 L288.9 239.14 L289.3 239.14 L289.7 239.14 L290.1 239.14 L290.5 238.81 L290.9 239.14 L291.3 239.13 L291.7 239.12 L292.1 239.11 L292.5 238.75 L292.9 239.04 L293.3 238.97 L293.7 238.86 L294.1 238.68 L294.5 238.09 L294.9 238.02 L295.3 237.46 L295.7 236.67 L296.1 235.6 L296.5 233.84 L296.9 232.34 L297.3 230.06 L297.7 227.29 L298.1 224.03 L298.5 220.01 L298.9 216.28 L299.3 212 L299.7 207.67 L300.1 203.51 L300.5 199.41 L300.9 196.59 L301.3 194.26 L301.7 192.91 L302.1 192.66 L302.5 193.71 L302.9 197.08 L303.3 201.47 L303.7 206.71 L304.1 212.32 L304.5 217.51 L304.9 222.88 L305.3 227.21 L305.7 230.73 L306.1 233.45 L306.5 235.11 L306.9 236.83 L307.3 237.75 L307.7 238.34 L308.1 238.7 L308.5 238.58 L308.9 239.02 L309.3 239.08 L309.7 239.11 L310.1 239.13 L310.5 238.81 L310.9 239.14 L311.3 239.14 L311.7 239.14 L312.1 239.14 L312.5 238.81 L312.9 239.14 L313.3 239.14 L313.7 239.14 L314.1 239.14 L314.5 238.81 L314.9 239.14 L315.3 239.14 L315.7 239.14 L316.1 239.14 L316.5 238.81 L316.9 239.14 L317.3 239.14 L317.7 239.14 L318.1 239.14 L318.5 238.81" fill="none" stroke="#3f5f9c" stroke-width="0.75"/>
<path d="M262.5 238.81 L262.9 239.14 L263.3 239.14 L263.7 239.14 L264.1 239.14 L264.5 238.81 L264.9 239.14 L265.3 239.14 L265.7 239.14 L266.1 239.14 L266.5 238.81 L266.9 239.14 L267.3 239.14 L267.7 239.14 L268.1 239.14 L268.5 238.81 L268.9 239.14 L269.3 239.14 L269.7 239.14 L270.1 239.14 L270.5 238.81 L270.9 239.14 L271.3 239.14 L271.7 239.14 L272.1 239.14 L272.5 238.81 L272.9 239.14 L273.3 239.14 L273.7 239.14 L274.1 239.14 L274.5 238.81 L274.9 239.14 L275.3 239.14 L275.7 239.14 L276.1 239.14 L276.5 238.81 L276.9 239.14 L277.3 239.14 L277.7 239.14 L278.1 239.14 L278.5 238.81 L278.9 239.14 L279.3 239.14 L279.7 239.14 L280.1 239.14 L280.5 238.81 L280.9 239.14 L281.3 239.14 L281.7 239.14 L282.1 239.14 L282.5 238.81 L282.9 239.14 L283.3 239.14 L283.7 239.14 L284.1 239.14 L284.5 238.81 L284.9 239.14 L285.3 239.14 L285.7 239.14 L286.1 239.14 L286.5 238.81 L286.9 239.14 L287.3 239.14 L287.7 239.14 L288.1 239.14 L288.5 238.81 L288.9 239.14 L289.3 239.14 L289.7 239.14 L290.1 239.14 L290.5 238.81 L290.9 239.14 L291.3 239.14 L291.7 239.14 L292.1 239.14 L292.5 238.81 L292.9 239.14 L293.3 239.14 L293.7 239.14 L294.1 239.13 L294.5 238.8 L294.9 239.12 L295.3 239.1 L295.7 239.07 L296.1 239.03 L296.5 238.63 L296.9 238.85 L297.3 238.69 L297.7 238.45 L298.1 238.13 L298.5 237.35 L298.9 237.09 L299.3 236.32 L299.7 235.38 L300.1 234.23 L300.5 232.56 L300.9 231.37 L301.3 229.68 L301.7 227.87 L302.1 225.97 L302.5 223.67 L302.9 221.97 L303.3 219.87 L303.7 217.67 L304.1 215.3 L304.5 212.55 L304.9 210.36 L305.3 207.69 L305.7 204.82 L306.1 201.78 L306.5 198.38 L306.9 195.84 L307.3 193.45 L307.7 191.86 L308.1 191.33 L308.5 191.67 L308.9 193.75 L309.3 196.48 L309.7 200.06 L310.1 204.27 L310.5 208.52 L310.9 213.52 L311.3 218.06 L311.7 222.27 L312.1 226.01 L312.5 228.86 L312.9 231.81 L313.3 233.89 L313.7 235.48 L314.1 236.66 L314.5 237.18 L314.9 238.09 L315.3 238.49 L315.7 238.74 L316.1 238.91 L316.5 238.68 L316.9 239.07 L317.3 239.1 L317.7 239.12 L318.1 239.13 L318.5 238.81" fill="none" stroke="#b5123a" stroke-width="0.75"/>
</g>
<rect x="262.5" y="182.5" width="56" height="57" fill="none" stroke="#000" stroke-width="1"/>
<line x1="259.9" y1="239.25" x2="262.5" y2="239.25" stroke="#111" stroke-width="0.7"/>
<text x="259.3" y="241.76" font-size="7" text-anchor="end" class="k">0</text>
<line x1="259.9" y1="228.3" x2="262.5" y2="228.3" stroke="#111" stroke-width="0.7"/>
<text x="259.3" y="230.81" font-size="7" text-anchor="end" class="k">20</text>
<line x1="259.9" y1="217.35" x2="262.5" y2="217.35" stroke="#111" stroke-width="0.7"/>
<text x="259.3" y="219.86" font-size="7" text-anchor="end" class="k">40</text>
<line x1="259.9" y1="206.4" x2="262.5" y2="206.4" stroke="#111" stroke-width="0.7"/>
<text x="259.3" y="208.91" font-size="7" text-anchor="end" class="k">60</text>
<line x1="259.9" y1="195.45" x2="262.5" y2="195.45" stroke="#111" stroke-width="0.7"/>
<text x="259.3" y="197.96" font-size="7" text-anchor="end" class="k">80</text>
<line x1="259.9" y1="184.5" x2="262.5" y2="184.5" stroke="#111" stroke-width="0.7"/>
<text x="259.3" y="187.01" font-size="7" text-anchor="end" class="k">100</text>
<line x1="260.9" y1="233.78" x2="262.5" y2="233.78" stroke="#111" stroke-width="0.6"/>
<line x1="260.9" y1="222.82" x2="262.5" y2="222.82" stroke="#111" stroke-width="0.6"/>
<line x1="260.9" y1="211.88" x2="262.5" y2="211.88" stroke="#111" stroke-width="0.6"/>
<line x1="260.9" y1="200.93" x2="262.5" y2="200.93" stroke="#111" stroke-width="0.6"/>
<line x1="260.9" y1="189.97" x2="262.5" y2="189.97" stroke="#111" stroke-width="0.6"/>
<line x1="261.4" y1="236.51" x2="262.5" y2="236.51" stroke="#111" stroke-width="0.35"/>
<line x1="261.4" y1="231.04" x2="262.5" y2="231.04" stroke="#111" stroke-width="0.35"/>
<line x1="261.4" y1="225.56" x2="262.5" y2="225.56" stroke="#111" stroke-width="0.35"/>
<line x1="261.4" y1="220.09" x2="262.5" y2="220.09" stroke="#111" stroke-width="0.35"/>
<line x1="261.4" y1="214.61" x2="262.5" y2="214.61" stroke="#111" stroke-width="0.35"/>
<line x1="261.4" y1="209.14" x2="262.5" y2="209.14" stroke="#111" stroke-width="0.35"/>
<line x1="261.4" y1="203.66" x2="262.5" y2="203.66" stroke="#111" stroke-width="0.35"/>
<line x1="261.4" y1="198.19" x2="262.5" y2="198.19" stroke="#111" stroke-width="0.35"/>
<line x1="261.4" y1="192.71" x2="262.5" y2="192.71" stroke="#111" stroke-width="0.35"/>
<line x1="261.4" y1="187.24" x2="262.5" y2="187.24" stroke="#111" stroke-width="0.35"/>
<text x="263.5" y="252.11" font-size="7" text-anchor="middle" class="k">10<tspan font-size="4.4" dy="-2.6">1</tspan></text>
<text x="277" y="252.11" font-size="7" text-anchor="middle" class="k">10<tspan font-size="4.4" dy="-2.6">2</tspan></text>
<text x="290.5" y="252.11" font-size="7" text-anchor="middle" class="k">10<tspan font-size="4.4" dy="-2.6">3</tspan></text>
<text x="304.5" y="252.11" font-size="7" text-anchor="middle" class="k">10<tspan font-size="4.4" dy="-2.6">4</tspan></text>
<text x="316.5" y="252.11" font-size="7" text-anchor="middle" class="k">10<tspan font-size="4.4" dy="-2.6">5</tspan></text>
<line x1="263" y1="239.5" x2="263" y2="241.3" stroke="#161314" stroke-width="0.35"/>
<line x1="266.85" y1="239.5" x2="266.85" y2="240.5" stroke="#161314" stroke-width="0.35"/>
<line x1="269.1" y1="239.5" x2="269.1" y2="240.5" stroke="#161314" stroke-width="0.35"/>
<line x1="270.7" y1="239.5" x2="270.7" y2="240.5" stroke="#161314" stroke-width="0.35"/>
<line x1="271.94" y1="239.5" x2="271.94" y2="240.5" stroke="#161314" stroke-width="0.35"/>
<line x1="272.95" y1="239.5" x2="272.95" y2="240.5" stroke="#161314" stroke-width="0.35"/>
<line x1="273.81" y1="239.5" x2="273.81" y2="240.5" stroke="#161314" stroke-width="0.35"/>
<line x1="274.55" y1="239.5" x2="274.55" y2="240.5" stroke="#161314" stroke-width="0.35"/>
<line x1="275.21" y1="239.5" x2="275.21" y2="240.5" stroke="#161314" stroke-width="0.35"/>
<line x1="275.79" y1="239.5" x2="275.79" y2="241.3" stroke="#161314" stroke-width="0.35"/>
<line x1="279.64" y1="239.5" x2="279.64" y2="240.5" stroke="#161314" stroke-width="0.35"/>
<line x1="281.89" y1="239.5" x2="281.89" y2="240.5" stroke="#161314" stroke-width="0.35"/>
<line x1="283.49" y1="239.5" x2="283.49" y2="240.5" stroke="#161314" stroke-width="0.35"/>
<line x1="284.73" y1="239.5" x2="284.73" y2="240.5" stroke="#161314" stroke-width="0.35"/>
<line x1="285.74" y1="239.5" x2="285.74" y2="240.5" stroke="#161314" stroke-width="0.35"/>
<line x1="286.6" y1="239.5" x2="286.6" y2="240.5" stroke="#161314" stroke-width="0.35"/>
<line x1="287.34" y1="239.5" x2="287.34" y2="240.5" stroke="#161314" stroke-width="0.35"/>
<line x1="288" y1="239.5" x2="288" y2="240.5" stroke="#161314" stroke-width="0.35"/>
<line x1="288.58" y1="239.5" x2="288.58" y2="241.3" stroke="#161314" stroke-width="0.35"/>
<line x1="292.43" y1="239.5" x2="292.43" y2="240.5" stroke="#161314" stroke-width="0.35"/>
<line x1="294.68" y1="239.5" x2="294.68" y2="240.5" stroke="#161314" stroke-width="0.35"/>
<line x1="296.28" y1="239.5" x2="296.28" y2="240.5" stroke="#161314" stroke-width="0.35"/>
<line x1="297.52" y1="239.5" x2="297.52" y2="240.5" stroke="#161314" stroke-width="0.35"/>
<line x1="298.53" y1="239.5" x2="298.53" y2="240.5" stroke="#161314" stroke-width="0.35"/>
<line x1="299.39" y1="239.5" x2="299.39" y2="240.5" stroke="#161314" stroke-width="0.35"/>
<line x1="300.13" y1="239.5" x2="300.13" y2="240.5" stroke="#161314" stroke-width="0.35"/>
<line x1="300.79" y1="239.5" x2="300.79" y2="240.5" stroke="#161314" stroke-width="0.35"/>
<line x1="301.37" y1="239.5" x2="301.37" y2="241.3" stroke="#161314" stroke-width="0.35"/>
<line x1="305.22" y1="239.5" x2="305.22" y2="240.5" stroke="#161314" stroke-width="0.35"/>
<line x1="307.47" y1="239.5" x2="307.47" y2="240.5" stroke="#161314" stroke-width="0.35"/>
<line x1="309.07" y1="239.5" x2="309.07" y2="240.5" stroke="#161314" stroke-width="0.35"/>
<line x1="310.31" y1="239.5" x2="310.31" y2="240.5" stroke="#161314" stroke-width="0.35"/>
<line x1="311.33" y1="239.5" x2="311.33" y2="240.5" stroke="#161314" stroke-width="0.35"/>
<line x1="312.18" y1="239.5" x2="312.18" y2="240.5" stroke="#161314" stroke-width="0.35"/>
<line x1="312.92" y1="239.5" x2="312.92" y2="240.5" stroke="#161314" stroke-width="0.35"/>
<line x1="313.58" y1="239.5" x2="313.58" y2="240.5" stroke="#161314" stroke-width="0.35"/>
<line x1="314.16" y1="239.5" x2="314.16" y2="241.3" stroke="#161314" stroke-width="0.35"/>
<line x1="318.01" y1="239.5" x2="318.01" y2="240.5" stroke="#161314" stroke-width="0.35"/>
<text x="376.5" y="176.89" font-size="9.2" text-anchor="middle" class="k">KMS-11/Cfz</text>
<g clip-path="url(#cE348)"><clipPath id="cE348"><rect x="348.5" y="182.5" width="57" height="57"/></clipPath>
<path d="M348.5 238.81 L348.9 239.14 L349.3 239.14 L349.7 239.14 L350.1 239.14 L350.5 238.81 L350.9 239.14 L351.3 239.14 L351.7 239.14 L352.1 239.14 L352.5 238.81 L352.9 239.14 L353.3 239.14 L353.7 239.14 L354.1 239.14 L354.5 238.81 L354.9 239.14 L355.3 239.14 L355.7 239.14 L356.1 239.14 L356.5 238.81 L356.9 239.14 L357.3 239.14 L357.7 239.14 L358.1 239.14 L358.5 238.81 L358.9 239.14 L359.3 239.13 L359.7 239.12 L360.1 239.1 L360.5 238.73 L360.9 238.97 L361.3 238.81 L361.7 238.54 L362.1 238.08 L362.5 237.01 L362.9 236.2 L363.3 234.53 L363.7 232.19 L364.1 229.08 L364.5 224.81 L364.9 220.43 L365.3 215.12 L365.7 209.5 L366.1 204.01 L366.5 198.81 L366.9 195.37 L367.3 193.12 L367.7 192.65 L368.1 193.69 L368.5 195.7 L368.9 199.47 L369.3 203.73 L369.7 208.47 L370.1 213.36 L370.5 217.79 L370.9 222.51 L371.3 226.38 L371.7 229.64 L372.1 232.28 L372.5 234 L372.9 235.87 L373.3 236.98 L373.7 237.76 L374.1 238.28 L374.5 238.3 L374.9 238.84 L375.3 238.97 L375.7 239.05 L376.1 239.09 L376.5 238.79 L376.9 239.13 L377.3 239.13 L377.7 239.14 L378.1 239.14 L378.5 238.81 L378.9 239.14 L379.3 239.14 L379.7 239.14 L380.1 239.14 L380.5 238.81 L380.9 239.14 L381.3 239.14 L381.7 239.14 L382.1 239.14 L382.5 238.81 L382.9 239.14 L383.3 239.14 L383.7 239.14 L384.1 239.14 L384.5 238.81 L384.9 239.14 L385.3 239.14 L385.7 239.14 L386.1 239.14 L386.5 238.81 L386.9 239.14 L387.3 239.14 L387.7 239.14 L388.1 239.14 L388.5 238.81 L388.9 239.14 L389.3 239.14 L389.7 239.14 L390.1 239.14 L390.5 238.81 L390.9 239.14 L391.3 239.14 L391.7 239.14 L392.1 239.14 L392.5 238.81 L392.9 239.14 L393.3 239.14 L393.7 239.14 L394.1 239.14 L394.5 238.81 L394.9 239.14 L395.3 239.14 L395.7 239.14 L396.1 239.14 L396.5 238.81 L396.9 239.14 L397.3 239.14 L397.7 239.14 L398.1 239.14 L398.5 238.81 L398.9 239.14 L399.3 239.14 L399.7 239.14 L400.1 239.14 L400.5 238.81 L400.9 239.14 L401.3 239.14 L401.7 239.14 L402.1 239.14 L402.5 238.81 L402.9 239.14 L403.3 239.14 L403.7 239.14 L404.1 239.14 L404.5 238.81 L404.9 239.14 L405.3 239.14" fill="none" stroke="#3f5f9c" stroke-width="0.75" stroke-dasharray="2.9 1.5"/>
<path d="M348.5 238.81 L348.9 239.14 L349.3 239.14 L349.7 239.14 L350.1 239.14 L350.5 238.81 L350.9 239.14 L351.3 239.14 L351.7 239.14 L352.1 239.14 L352.5 238.81 L352.9 239.14 L353.3 239.14 L353.7 239.14 L354.1 239.14 L354.5 238.81 L354.9 239.14 L355.3 239.14 L355.7 239.14 L356.1 239.14 L356.5 238.81 L356.9 239.14 L357.3 239.14 L357.7 239.14 L358.1 239.14 L358.5 238.81 L358.9 239.14 L359.3 239.14 L359.7 239.14 L360.1 239.14 L360.5 238.81 L360.9 239.14 L361.3 239.14 L361.7 239.14 L362.1 239.14 L362.5 238.81 L362.9 239.14 L363.3 239.14 L363.7 239.14 L364.1 239.14 L364.5 238.81 L364.9 239.14 L365.3 239.14 L365.7 239.14 L366.1 239.14 L366.5 238.81 L366.9 239.14 L367.3 239.14 L367.7 239.14 L368.1 239.14 L368.5 238.81 L368.9 239.14 L369.3 239.14 L369.7 239.14 L370.1 239.14 L370.5 238.81 L370.9 239.14 L371.3 239.13 L371.7 239.12 L372.1 239.11 L372.5 238.75 L372.9 239.04 L373.3 238.96 L373.7 238.85 L374.1 238.67 L374.5 238.07 L374.9 238 L375.3 237.42 L375.7 236.61 L376.1 235.51 L376.5 233.73 L376.9 232.18 L377.3 229.84 L377.7 227.01 L378.1 223.68 L378.5 219.56 L378.9 215.74 L379.3 211.36 L379.7 206.93 L380.1 202.67 L380.5 198.48 L380.9 195.59 L381.3 193.2 L381.7 191.82 L382.1 191.55 L382.5 192.29 L382.9 195.02 L383.3 198.54 L383.7 202.89 L384.1 207.74 L384.5 212.43 L384.9 217.63 L385.3 222.12 L385.7 226.08 L386.1 229.42 L386.5 231.79 L386.9 234.22 L387.3 235.79 L387.7 236.93 L388.1 237.73 L388.5 237.93 L388.9 238.61 L389.3 238.83 L389.7 238.97 L390.1 239.04 L390.5 238.76 L390.9 239.11 L391.3 239.13 L391.7 239.13 L392.1 239.14 L392.5 238.81 L392.9 239.14 L393.3 239.14 L393.7 239.14 L394.1 239.14 L394.5 238.81 L394.9 239.14 L395.3 239.14 L395.7 239.14 L396.1 239.14 L396.5 238.81 L396.9 239.14 L397.3 239.14 L397.7 239.14 L398.1 239.14 L398.5 238.81 L398.9 239.14 L399.3 239.14 L399.7 239.14 L400.1 239.14 L400.5 238.81 L400.9 239.14 L401.3 239.14 L401.7 239.14 L402.1 239.14 L402.5 238.81 L402.9 239.14 L403.3 239.14 L403.7 239.14 L404.1 239.14 L404.5 238.81 L404.9 239.14 L405.3 239.14" fill="none" stroke="#b5123a" stroke-width="0.75" stroke-dasharray="2.9 1.5"/>
<path d="M348.5 238.81 L348.9 239.14 L349.3 239.14 L349.7 239.14 L350.1 239.14 L350.5 238.81 L350.9 239.14 L351.3 239.14 L351.7 239.14 L352.1 239.14 L352.5 238.81 L352.9 239.14 L353.3 239.14 L353.7 239.14 L354.1 239.14 L354.5 238.81 L354.9 239.14 L355.3 239.14 L355.7 239.14 L356.1 239.14 L356.5 238.81 L356.9 239.14 L357.3 239.14 L357.7 239.14 L358.1 239.14 L358.5 238.81 L358.9 239.14 L359.3 239.14 L359.7 239.14 L360.1 239.14 L360.5 238.81 L360.9 239.14 L361.3 239.14 L361.7 239.14 L362.1 239.14 L362.5 238.81 L362.9 239.14 L363.3 239.14 L363.7 239.13 L364.1 239.13 L364.5 238.78 L364.9 239.08 L365.3 239.03 L365.7 238.94 L366.1 238.77 L366.5 238.17 L366.9 238.06 L367.3 237.38 L367.7 236.37 L368.1 234.92 L368.5 232.59 L368.9 230.27 L369.3 226.9 L369.7 222.79 L370.1 218.01 L370.5 212.4 L370.9 207.2 L371.3 201.77 L371.7 196.84 L372.1 192.81 L372.5 189.73 L372.9 188.82 L373.3 189.24 L373.7 191.26 L374.1 194.69 L374.5 198.89 L374.9 204.45 L375.3 209.98 L375.7 215.42 L376.1 220.48 L376.5 224.6 L376.9 228.67 L377.3 231.68 L377.7 234 L378.1 235.71 L378.5 236.6 L378.9 237.76 L379.3 238.31 L379.7 238.65 L380.1 238.86 L380.5 238.66 L380.9 239.06 L381.3 239.1 L381.7 239.12 L382.1 239.13 L382.5 238.81 L382.9 239.14 L383.3 239.14 L383.7 239.14 L384.1 239.14 L384.5 238.81 L384.9 239.14 L385.3 239.14 L385.7 239.14 L386.1 239.14 L386.5 238.81 L386.9 239.14 L387.3 239.14 L387.7 239.14 L388.1 239.14 L388.5 238.81 L388.9 239.14 L389.3 239.14 L389.7 239.14 L390.1 239.14 L390.5 238.81 L390.9 239.14 L391.3 239.14 L391.7 239.14 L392.1 239.14 L392.5 238.81 L392.9 239.14 L393.3 239.14 L393.7 239.14 L394.1 239.14 L394.5 238.81 L394.9 239.14 L395.3 239.14 L395.7 239.14 L396.1 239.14 L396.5 238.81 L396.9 239.14 L397.3 239.14 L397.7 239.14 L398.1 239.14 L398.5 238.81 L398.9 239.14 L399.3 239.14 L399.7 239.14 L400.1 239.14 L400.5 238.81 L400.9 239.14 L401.3 239.14 L401.7 239.14 L402.1 239.14 L402.5 238.81 L402.9 239.14 L403.3 239.14 L403.7 239.14 L404.1 239.14 L404.5 238.81 L404.9 239.14 L405.3 239.14" fill="none" stroke="#3f5f9c" stroke-width="0.75"/>
<path d="M348.5 238.81 L348.9 239.14 L349.3 239.14 L349.7 239.14 L350.1 239.14 L350.5 238.81 L350.9 239.14 L351.3 239.14 L351.7 239.14 L352.1 239.13 L352.5 238.8 L352.9 239.13 L353.3 239.13 L353.7 239.12 L354.1 239.12 L354.5 238.79 L354.9 239.11 L355.3 239.11 L355.7 239.1 L356.1 239.09 L356.5 238.75 L356.9 239.07 L357.3 239.06 L357.7 239.04 L358.1 239.03 L358.5 238.68 L358.9 238.99 L359.3 238.97 L359.7 238.94 L360.1 238.91 L360.5 238.55 L360.9 238.84 L361.3 238.81 L361.7 238.76 L362.1 238.72 L362.5 238.34 L362.9 238.62 L363.3 238.57 L363.7 238.51 L364.1 238.45 L364.5 238.06 L364.9 238.32 L365.3 238.26 L365.7 238.19 L366.1 238.13 L366.5 237.73 L366.9 238 L367.3 237.93 L367.7 237.87 L368.1 237.81 L368.5 237.43 L368.9 237.7 L369.3 237.66 L369.7 237.61 L370.1 237.58 L370.5 237.22 L370.9 237.53 L371.3 237.51 L371.7 237.5 L372.1 237.5 L372.5 237.17 L372.9 237.51 L373.3 237.52 L373.7 237.53 L374.1 237.55 L374.5 237.25 L374.9 237.6 L375.3 237.63 L375.7 237.66 L376.1 237.7 L376.5 237.41 L376.9 237.78 L377.3 237.82 L377.7 237.87 L378.1 237.91 L378.5 237.63 L378.9 238.01 L379.3 238.06 L379.7 238.11 L380.1 238.16 L380.5 237.88 L380.9 238.25 L381.3 238.3 L381.7 238.34 L382.1 238.37 L382.5 238.06 L382.9 238.39 L383.3 238.35 L383.7 238.25 L384.1 238.05 L384.5 237.39 L384.9 237.18 L385.3 236.37 L385.7 235.18 L386.1 233.53 L386.5 230.98 L386.9 228.46 L387.3 224.92 L387.7 220.71 L388.1 215.93 L388.5 210.41 L388.9 205.4 L389.3 200.24 L389.7 195.6 L390.1 191.85 L390.5 188.97 L390.9 188.17 L391.3 188.7 L391.7 191.17 L392.1 195.3 L392.5 200.32 L392.9 206.66 L393.3 212.81 L393.7 218.63 L394.1 223.79 L394.5 227.77 L394.9 231.51 L395.3 234.07 L395.7 235.9 L396.1 237.15 L396.5 237.64 L396.9 238.47 L397.3 238.77 L397.7 238.94 L398.1 239.04 L398.5 238.76 L398.9 239.11 L399.3 239.13 L399.7 239.13 L400.1 239.14 L400.5 238.81 L400.9 239.14 L401.3 239.14 L401.7 239.14 L402.1 239.14 L402.5 238.81 L402.9 239.14 L403.3 239.14 L403.7 239.14 L404.1 239.14 L404.5 238.81 L404.9 239.14 L405.3 239.14" fill="none" stroke="#b5123a" stroke-width="0.75"/>
</g>
<rect x="348.5" y="182.5" width="57" height="57" fill="none" stroke="#000" stroke-width="1"/>
<line x1="345.9" y1="239.25" x2="348.5" y2="239.25" stroke="#111" stroke-width="0.7"/>
<text x="342.9" y="241.76" font-size="7" text-anchor="end" class="k">0</text>
<line x1="345.9" y1="228.3" x2="348.5" y2="228.3" stroke="#111" stroke-width="0.7"/>
<text x="342.9" y="230.81" font-size="7" text-anchor="end" class="k">20</text>
<line x1="345.9" y1="217.35" x2="348.5" y2="217.35" stroke="#111" stroke-width="0.7"/>
<text x="342.9" y="219.86" font-size="7" text-anchor="end" class="k">40</text>
<line x1="345.9" y1="206.4" x2="348.5" y2="206.4" stroke="#111" stroke-width="0.7"/>
<text x="342.9" y="208.91" font-size="7" text-anchor="end" class="k">60</text>
<line x1="345.9" y1="195.45" x2="348.5" y2="195.45" stroke="#111" stroke-width="0.7"/>
<text x="342.9" y="197.96" font-size="7" text-anchor="end" class="k">80</text>
<line x1="345.9" y1="184.5" x2="348.5" y2="184.5" stroke="#111" stroke-width="0.7"/>
<text x="342.9" y="187.01" font-size="7" text-anchor="end" class="k">100</text>
<line x1="346.9" y1="233.78" x2="348.5" y2="233.78" stroke="#111" stroke-width="0.6"/>
<line x1="346.9" y1="222.82" x2="348.5" y2="222.82" stroke="#111" stroke-width="0.6"/>
<line x1="346.9" y1="211.88" x2="348.5" y2="211.88" stroke="#111" stroke-width="0.6"/>
<line x1="346.9" y1="200.93" x2="348.5" y2="200.93" stroke="#111" stroke-width="0.6"/>
<line x1="346.9" y1="189.97" x2="348.5" y2="189.97" stroke="#111" stroke-width="0.6"/>
<line x1="347.4" y1="236.51" x2="348.5" y2="236.51" stroke="#111" stroke-width="0.35"/>
<line x1="347.4" y1="231.04" x2="348.5" y2="231.04" stroke="#111" stroke-width="0.35"/>
<line x1="347.4" y1="225.56" x2="348.5" y2="225.56" stroke="#111" stroke-width="0.35"/>
<line x1="347.4" y1="220.09" x2="348.5" y2="220.09" stroke="#111" stroke-width="0.35"/>
<line x1="347.4" y1="214.61" x2="348.5" y2="214.61" stroke="#111" stroke-width="0.35"/>
<line x1="347.4" y1="209.14" x2="348.5" y2="209.14" stroke="#111" stroke-width="0.35"/>
<line x1="347.4" y1="203.66" x2="348.5" y2="203.66" stroke="#111" stroke-width="0.35"/>
<line x1="347.4" y1="198.19" x2="348.5" y2="198.19" stroke="#111" stroke-width="0.35"/>
<line x1="347.4" y1="192.71" x2="348.5" y2="192.71" stroke="#111" stroke-width="0.35"/>
<line x1="347.4" y1="187.24" x2="348.5" y2="187.24" stroke="#111" stroke-width="0.35"/>
<text x="349.5" y="252.11" font-size="7" text-anchor="middle" class="k">10<tspan font-size="4.4" dy="-2.6">1</tspan></text>
<text x="361.5" y="252.11" font-size="7" text-anchor="middle" class="k">10<tspan font-size="4.4" dy="-2.6">2</tspan></text>
<text x="373.8" y="252.11" font-size="7" text-anchor="middle" class="k">10<tspan font-size="4.4" dy="-2.6">3</tspan></text>
<text x="387" y="252.11" font-size="7" text-anchor="middle" class="k">10<tspan font-size="4.4" dy="-2.6">4</tspan></text>
<text x="399.5" y="252.11" font-size="7" text-anchor="middle" class="k">10<tspan font-size="4.4" dy="-2.6">5</tspan></text>
<line x1="349" y1="239.5" x2="349" y2="241.3" stroke="#161314" stroke-width="0.35"/>
<line x1="352.92" y1="239.5" x2="352.92" y2="240.5" stroke="#161314" stroke-width="0.35"/>
<line x1="355.21" y1="239.5" x2="355.21" y2="240.5" stroke="#161314" stroke-width="0.35"/>
<line x1="356.84" y1="239.5" x2="356.84" y2="240.5" stroke="#161314" stroke-width="0.35"/>
<line x1="358.1" y1="239.5" x2="358.1" y2="240.5" stroke="#161314" stroke-width="0.35"/>
<line x1="359.13" y1="239.5" x2="359.13" y2="240.5" stroke="#161314" stroke-width="0.35"/>
<line x1="360.01" y1="239.5" x2="360.01" y2="240.5" stroke="#161314" stroke-width="0.35"/>
<line x1="360.76" y1="239.5" x2="360.76" y2="240.5" stroke="#161314" stroke-width="0.35"/>
<line x1="361.43" y1="239.5" x2="361.43" y2="240.5" stroke="#161314" stroke-width="0.35"/>
<line x1="362.02" y1="239.5" x2="362.02" y2="241.3" stroke="#161314" stroke-width="0.35"/>
<line x1="365.94" y1="239.5" x2="365.94" y2="240.5" stroke="#161314" stroke-width="0.35"/>
<line x1="368.24" y1="239.5" x2="368.24" y2="240.5" stroke="#161314" stroke-width="0.35"/>
<line x1="369.86" y1="239.5" x2="369.86" y2="240.5" stroke="#161314" stroke-width="0.35"/>
<line x1="371.13" y1="239.5" x2="371.13" y2="240.5" stroke="#161314" stroke-width="0.35"/>
<line x1="372.16" y1="239.5" x2="372.16" y2="240.5" stroke="#161314" stroke-width="0.35"/>
<line x1="373.03" y1="239.5" x2="373.03" y2="240.5" stroke="#161314" stroke-width="0.35"/>
<line x1="373.78" y1="239.5" x2="373.78" y2="240.5" stroke="#161314" stroke-width="0.35"/>
<line x1="374.45" y1="239.5" x2="374.45" y2="240.5" stroke="#161314" stroke-width="0.35"/>
<line x1="375.05" y1="239.5" x2="375.05" y2="241.3" stroke="#161314" stroke-width="0.35"/>
<line x1="378.97" y1="239.5" x2="378.97" y2="240.5" stroke="#161314" stroke-width="0.35"/>
<line x1="381.26" y1="239.5" x2="381.26" y2="240.5" stroke="#161314" stroke-width="0.35"/>
<line x1="382.89" y1="239.5" x2="382.89" y2="240.5" stroke="#161314" stroke-width="0.35"/>
<line x1="384.15" y1="239.5" x2="384.15" y2="240.5" stroke="#161314" stroke-width="0.35"/>
<line x1="385.18" y1="239.5" x2="385.18" y2="240.5" stroke="#161314" stroke-width="0.35"/>
<line x1="386.05" y1="239.5" x2="386.05" y2="240.5" stroke="#161314" stroke-width="0.35"/>
<line x1="386.81" y1="239.5" x2="386.81" y2="240.5" stroke="#161314" stroke-width="0.35"/>
<line x1="387.47" y1="239.5" x2="387.47" y2="240.5" stroke="#161314" stroke-width="0.35"/>
<line x1="388.07" y1="239.5" x2="388.07" y2="241.3" stroke="#161314" stroke-width="0.35"/>
<line x1="391.99" y1="239.5" x2="391.99" y2="240.5" stroke="#161314" stroke-width="0.35"/>
<line x1="394.28" y1="239.5" x2="394.28" y2="240.5" stroke="#161314" stroke-width="0.35"/>
<line x1="395.91" y1="239.5" x2="395.91" y2="240.5" stroke="#161314" stroke-width="0.35"/>
<line x1="397.17" y1="239.5" x2="397.17" y2="240.5" stroke="#161314" stroke-width="0.35"/>
<line x1="398.2" y1="239.5" x2="398.2" y2="240.5" stroke="#161314" stroke-width="0.35"/>
<line x1="399.08" y1="239.5" x2="399.08" y2="240.5" stroke="#161314" stroke-width="0.35"/>
<line x1="399.83" y1="239.5" x2="399.83" y2="240.5" stroke="#161314" stroke-width="0.35"/>
<line x1="400.5" y1="239.5" x2="400.5" y2="240.5" stroke="#161314" stroke-width="0.35"/>
<line x1="401.09" y1="239.5" x2="401.09" y2="241.3" stroke="#161314" stroke-width="0.35"/>
<line x1="405.01" y1="239.5" x2="405.01" y2="240.5" stroke="#161314" stroke-width="0.35"/>
<line x1="181.75" y1="260.5" x2="352" y2="260.5" stroke="#2a2a2a" stroke-width="1"/>
<path d="M351 258.3 L356.4 260.5 L351 262.7Z" fill="#161314"/>
<text x="359.5" y="264.27" font-size="9.4" textLength="42.5" lengthAdjust="spacingAndGlyphs" class="k">MitoSOX Red</text>
<line x1="412" y1="187" x2="430.5" y2="187" stroke="#3f5f9c" stroke-width="0.9" stroke-dasharray="3.2 1.9"/>
<text x="434.3" y="188.93" font-size="5.4" class="k">CTR-KO</text>
<line x1="412" y1="196.3" x2="430.5" y2="196.3" stroke="#b5123a" stroke-width="0.9" stroke-dasharray="3.2 1.9"/>
<text x="434.3" y="198.23" font-size="5.4" class="k">MIF-KO</text>
<line x1="412" y1="206.2" x2="430.5" y2="206.2" stroke="#3f5f9c" stroke-width="0.9"/>
<text x="434.3" y="208.13" font-size="5.4" class="k">CTR-KO</text>
<line x1="412" y1="215.8" x2="430.5" y2="215.8" stroke="#b5123a" stroke-width="0.9"/>
<text x="434.3" y="217.73" font-size="5.4" class="k">MIF-KO</text>
<line x1="458.5" y1="182.5" x2="458.5" y2="198.8" stroke="#222" stroke-width="0.9"/>
<line x1="458.5" y1="203" x2="458.5" y2="218" stroke="#222" stroke-width="0.9"/>
<text x="462" y="192.73" font-size="5.4" class="k">DMSO</text>
<text x="462" y="212.43" font-size="5.4" class="k">Cfz</text>
<text transform="translate(7.4 314.3) scale(1.13 1)" x="0" y="0" font-size="12" font-weight="bold">F</text>
<rect x="62" y="322" width="6.2" height="4.3" fill="#2c4b86"/>
<rect x="62" y="331.5" width="6.2" height="4.3" fill="#a9092f"/>
<text x="72" y="326.13" font-size="5.4" class="k">CTR-KO</text>
<text x="72" y="335.53" font-size="5.4" class="k">MIF-KO</text>
<line x1="62.5" y1="400.4" x2="62.5" y2="401.8" stroke="#2c4b86" stroke-width="1.2"/>
<line x1="61.3" y1="400.6" x2="63.7" y2="400.6" stroke="#2c4b86" stroke-width="0.8"/>
<rect x="60" y="401.3" width="5" height="3.7" fill="#2c4b86"/>
<line x1="70.5" y1="399.4" x2="70.5" y2="400.7" stroke="#a9092f" stroke-width="1.2"/>
<line x1="69.3" y1="399.6" x2="71.7" y2="399.6" stroke="#a9092f" stroke-width="0.8"/>
<rect x="68" y="400.2" width="5" height="4.8" fill="#a9092f"/>
<line x1="84.3" y1="388.8" x2="84.3" y2="392.5" stroke="#2c4b86" stroke-width="1.2"/>
<line x1="83.1" y1="389" x2="85.5" y2="389" stroke="#2c4b86" stroke-width="0.8"/>
<rect x="81.8" y="392" width="5" height="13" fill="#2c4b86"/>
<line x1="92.3" y1="350.8" x2="92.3" y2="359.3" stroke="#a9092f" stroke-width="1.2"/>
<line x1="91.1" y1="351" x2="93.5" y2="351" stroke="#a9092f" stroke-width="0.8"/>
<rect x="89.6" y="358.8" width="5.4" height="46.2" fill="#a9092f"/>
<line x1="57" y1="342" x2="57" y2="405.5" stroke="#000" stroke-width="1"/>
<line x1="56.5" y1="405" x2="97.5" y2="405" stroke="#000" stroke-width="1"/>
<line x1="54.7" y1="344.5" x2="57" y2="344.5" stroke="#000" stroke-width="0.8"/>
<text x="50.6" y="346.97" font-size="6.9" text-anchor="end" class="k">20,000</text>
<line x1="54.7" y1="359.6" x2="57" y2="359.6" stroke="#000" stroke-width="0.8"/>
<text x="50.6" y="362.07" font-size="6.9" text-anchor="end" class="k">15,000</text>
<line x1="54.7" y1="374.7" x2="57" y2="374.7" stroke="#000" stroke-width="0.8"/>
<text x="50.6" y="377.17" font-size="6.9" text-anchor="end" class="k">10,000</text>
<line x1="54.7" y1="389.8" x2="57" y2="389.8" stroke="#000" stroke-width="0.8"/>
<text x="50.6" y="392.27" font-size="6.9" text-anchor="end" class="k">5,000</text>
<line x1="54.7" y1="405" x2="57" y2="405" stroke="#000" stroke-width="0.8"/>
<text x="50.6" y="407.47" font-size="6.9" text-anchor="end" class="k">0</text>
<line x1="66.5" y1="405" x2="66.5" y2="407.4" stroke="#000" stroke-width="0.8"/>
<line x1="88.4" y1="405" x2="88.4" y2="407.4" stroke="#000" stroke-width="0.8"/>
<text transform="translate(20.6 372.5) rotate(-90)" x="0" y="2.47" font-size="6.9" text-anchor="middle" class="k">MFI</text>
<line x1="58.3" y1="385.5" x2="86.3" y2="385.5" stroke="#2e2e2e" stroke-width="1.25"/>
<text x="73" y="385.28" font-size="5.8" text-anchor="middle" stroke="#161314" stroke-width="0.12">*</text>
<line x1="83.8" y1="348.5" x2="95" y2="348.5" stroke="#2e2e2e" stroke-width="1.25"/>
<text x="89.3" y="348.08" font-size="5.8" text-anchor="middle" stroke="#161314" stroke-width="0.12">*</text>
<text x="66.3" y="417.97" font-size="6.9" text-anchor="middle" class="k">DMSO</text>
<text x="88" y="417.97" font-size="6.9" text-anchor="middle" class="k">Cfz</text>
<line x1="58.3" y1="422.5" x2="93" y2="422.5" stroke="#2a2a2a" stroke-width="1"/>
<text x="75.5" y="431.97" font-size="6.9" text-anchor="middle" class="k">MM.1S</text>
<text transform="translate(108 314.3) scale(1.13 1)" x="0" y="0" font-size="12" font-weight="bold">G</text>
<rect x="164.5" y="322" width="6.2" height="4.3" fill="#2c4b86"/>
<rect x="164.5" y="331.5" width="6.2" height="4.3" fill="#a9092f"/>
<text x="174.3" y="326.13" font-size="5.4" class="k">CTR-KO</text>
<text x="174.3" y="335.53" font-size="5.4" class="k">MIF-KO</text>
<line x1="186.55" y1="381.8" x2="186.55" y2="386.3" stroke="#2c4b86" stroke-width="1.2"/>
<line x1="185.35" y1="382" x2="187.75" y2="382" stroke="#2c4b86" stroke-width="0.8"/>
<rect x="183.8" y="385.8" width="5.5" height="19.2" fill="#2c4b86"/>
<line x1="194.75" y1="348.3" x2="194.75" y2="356" stroke="#a9092f" stroke-width="1.2"/>
<line x1="193.55" y1="348.5" x2="195.95" y2="348.5" stroke="#a9092f" stroke-width="0.8"/>
<rect x="192" y="355.5" width="5.5" height="49.5" fill="#a9092f"/>
<ellipse cx="164.8" cy="404.4" rx="2.7" ry="1.3" fill="#2c4b86"/>
<ellipse cx="172.8" cy="404.4" rx="2.7" ry="1.3" fill="#a9092f"/>
<line x1="159.3" y1="341.3" x2="159.3" y2="405.5" stroke="#000" stroke-width="1"/>
<line x1="158.8" y1="405" x2="201.3" y2="405" stroke="#000" stroke-width="1"/>
<line x1="157" y1="343.3" x2="159.3" y2="343.3" stroke="#000" stroke-width="0.8"/>
<text x="153" y="345.77" font-size="6.9" text-anchor="end" class="k">20,000</text>
<line x1="157" y1="358.8" x2="159.3" y2="358.8" stroke="#000" stroke-width="0.8"/>
<text x="153" y="361.27" font-size="6.9" text-anchor="end" class="k">15,000</text>
<line x1="157" y1="374.2" x2="159.3" y2="374.2" stroke="#000" stroke-width="0.8"/>
<text x="153" y="376.67" font-size="6.9" text-anchor="end" class="k">10,000</text>
<line x1="157" y1="389.6" x2="159.3" y2="389.6" stroke="#000" stroke-width="0.8"/>
<text x="153" y="392.07" font-size="6.9" text-anchor="end" class="k">5,000</text>
<line x1="157" y1="405" x2="159.3" y2="405" stroke="#000" stroke-width="0.8"/>
<text x="153" y="407.47" font-size="6.9" text-anchor="end" class="k">0</text>
<line x1="168.8" y1="405" x2="168.8" y2="407.4" stroke="#000" stroke-width="0.8"/>
<line x1="190.6" y1="405" x2="190.6" y2="407.4" stroke="#000" stroke-width="0.8"/>
<text transform="translate(123 373.8) rotate(-90)" x="0" y="2.47" font-size="6.9" text-anchor="middle" class="k">MFI</text>
<line x1="160" y1="374.5" x2="188.8" y2="374.5" stroke="#2e2e2e" stroke-width="1.25"/>
<text x="174.5" y="374.68" font-size="5.8" text-anchor="middle" stroke="#161314" stroke-width="0.12">*</text>
<line x1="185.5" y1="345.5" x2="196.3" y2="345.5" stroke="#2e2e2e" stroke-width="1.25"/>
<text x="190.8" y="345.08" font-size="5.8" text-anchor="middle" stroke="#161314" stroke-width="0.12">**</text>
<text x="168.8" y="417.97" font-size="6.9" text-anchor="middle" class="k">DMSO</text>
<text x="190.5" y="417.97" font-size="6.9" text-anchor="middle" class="k">Cfz</text>
<line x1="160" y1="422.5" x2="195" y2="422.5" stroke="#2a2a2a" stroke-width="1"/>
<text x="177.5" y="431.97" font-size="6.9" text-anchor="middle" class="k">ARP-1</text>
<text transform="translate(210.6 314.3) scale(1.13 1)" x="0" y="0" font-size="12" font-weight="bold">H</text>
<rect x="266" y="322" width="6.2" height="4.3" fill="#2c4b86"/>
<rect x="266" y="331.5" width="6.2" height="4.3" fill="#a9092f"/>
<text x="276.2" y="326.13" font-size="5.4" class="k">CTR-KO</text>
<text x="276.2" y="335.53" font-size="5.4" class="k">MIF-KO</text>
<line x1="266" y1="401.4" x2="266" y2="402.8" stroke="#2c4b86" stroke-width="1.2"/>
<line x1="264.8" y1="401.6" x2="267.2" y2="401.6" stroke="#2c4b86" stroke-width="0.8"/>
<rect x="263.3" y="402.3" width="5.4" height="2.3" fill="#2c4b86"/>
<line x1="274.3" y1="389.7" x2="274.3" y2="392.9" stroke="#a9092f" stroke-width="1.2"/>
<line x1="273.1" y1="389.9" x2="275.5" y2="389.9" stroke="#a9092f" stroke-width="0.8"/>
<rect x="271.4" y="392.4" width="5.8" height="12.2" fill="#a9092f"/>
<line x1="287.85" y1="399.3" x2="287.85" y2="400.7" stroke="#2c4b86" stroke-width="1.2"/>
<line x1="286.65" y1="399.5" x2="289.05" y2="399.5" stroke="#2c4b86" stroke-width="0.8"/>
<rect x="285" y="400.2" width="5.7" height="4.4" fill="#2c4b86"/>
<line x1="296" y1="355.7" x2="296" y2="358.4" stroke="#a9092f" stroke-width="1.2"/>
<line x1="294.8" y1="355.9" x2="297.2" y2="355.9" stroke="#a9092f" stroke-width="0.8"/>
<rect x="293.2" y="357.9" width="5.6" height="46.7" fill="#a9092f"/>
<line x1="260.6" y1="340.4" x2="260.6" y2="405.1" stroke="#000" stroke-width="1"/>
<line x1="260.1" y1="404.6" x2="301.5" y2="404.6" stroke="#000" stroke-width="1"/>
<line x1="258.3" y1="343" x2="260.6" y2="343" stroke="#000" stroke-width="0.8"/>
<text x="254" y="345.47" font-size="6.9" text-anchor="end" class="k">25,000</text>
<line x1="258.3" y1="355.4" x2="260.6" y2="355.4" stroke="#000" stroke-width="0.8"/>
<text x="254" y="357.87" font-size="6.9" text-anchor="end" class="k">20,000</text>
<line x1="258.3" y1="367.7" x2="260.6" y2="367.7" stroke="#000" stroke-width="0.8"/>
<text x="254" y="370.17" font-size="6.9" text-anchor="end" class="k">15,000</text>
<line x1="258.3" y1="380" x2="260.6" y2="380" stroke="#000" stroke-width="0.8"/>
<text x="254" y="382.47" font-size="6.9" text-anchor="end" class="k">10,000</text>
<line x1="258.3" y1="392.3" x2="260.6" y2="392.3" stroke="#000" stroke-width="0.8"/>
<text x="254" y="394.77" font-size="6.9" text-anchor="end" class="k">5,000</text>
<line x1="258.3" y1="404.6" x2="260.6" y2="404.6" stroke="#000" stroke-width="0.8"/>
<text x="254" y="407.07" font-size="6.9" text-anchor="end" class="k">0</text>
<line x1="270.2" y1="404.6" x2="270.2" y2="407" stroke="#000" stroke-width="0.8"/>
<line x1="292" y1="404.6" x2="292" y2="407" stroke="#000" stroke-width="0.8"/>
<text transform="translate(224.8 372.7) rotate(-90)" x="0" y="2.47" font-size="6.9" text-anchor="middle" class="k">MFI</text>
<line x1="264.6" y1="386.5" x2="275.4" y2="386.5" stroke="#2e2e2e" stroke-width="1.25"/>
<text x="270" y="386.18" font-size="5.8" text-anchor="middle" stroke="#161314" stroke-width="0.12">*</text>
<line x1="262.5" y1="377.5" x2="290.2" y2="377.5" stroke="#2e2e2e" stroke-width="1.25"/>
<text x="276" y="376.28" font-size="5.8" text-anchor="middle" class="k">n.s.</text>
<line x1="286.2" y1="353.5" x2="297.5" y2="353.5" stroke="#2e2e2e" stroke-width="1.25"/>
<text x="291.6" y="352.88" font-size="5.8" text-anchor="middle" stroke="#161314" stroke-width="0.12">**</text>
<line x1="269.5" y1="348.5" x2="297.5" y2="348.5" stroke="#2e2e2e" stroke-width="1.25"/>
<text x="283.5" y="347.88" font-size="5.8" text-anchor="middle" stroke="#161314" stroke-width="0.12">*</text>
<text x="270" y="417.77" font-size="6.9" text-anchor="middle" class="k">DMSO</text>
<text x="292" y="417.77" font-size="6.9" text-anchor="middle" class="k">Cfz</text>
<line x1="259.8" y1="422.5" x2="297.5" y2="422.5" stroke="#2a2a2a" stroke-width="1"/>
<text x="278.6" y="431.27" font-size="6.9" text-anchor="middle" class="k">KMS-11/Cfz</text>
<text transform="translate(311.7 314.3) scale(1.13 1)" x="0" y="0" font-size="12" font-weight="bold">J</text>
<line x1="350.95" y1="397.4" x2="350.95" y2="399.3" stroke="#2c4b86" stroke-width="1.2"/>
<line x1="349.75" y1="397.6" x2="352.15" y2="397.6" stroke="#2c4b86" stroke-width="0.8"/>
<rect x="348.8" y="398.8" width="4.3" height="6.2" fill="#2c4b86"/>
<line x1="357.3" y1="399" x2="357.3" y2="401" stroke="#a9092f" stroke-width="1.2"/>
<line x1="356.1" y1="399.2" x2="358.5" y2="399.2" stroke="#a9092f" stroke-width="0.8"/>
<rect x="355" y="400.5" width="4.6" height="4.5" fill="#a9092f"/>
<line x1="369.05" y1="366.5" x2="369.05" y2="370" stroke="#2c4b86" stroke-width="1.2"/>
<line x1="367.85" y1="366.7" x2="370.25" y2="366.7" stroke="#2c4b86" stroke-width="0.8"/>
<rect x="366.8" y="369.5" width="4.5" height="35.5" fill="#2c4b86"/>
<line x1="375.65" y1="341.8" x2="375.65" y2="348" stroke="#a9092f" stroke-width="1.2"/>
<line x1="374.45" y1="342" x2="376.85" y2="342" stroke="#a9092f" stroke-width="0.8"/>
<rect x="373.3" y="347.5" width="4.7" height="57.5" fill="#a9092f"/>
<line x1="387.15" y1="397" x2="387.15" y2="398.8" stroke="#2c4b86" stroke-width="1.2"/>
<line x1="385.95" y1="397.2" x2="388.35" y2="397.2" stroke="#2c4b86" stroke-width="0.8"/>
<rect x="385" y="398.3" width="4.3" height="6.7" fill="#2c4b86"/>
<line x1="393.55" y1="397.4" x2="393.55" y2="399.3" stroke="#a9092f" stroke-width="1.2"/>
<line x1="392.35" y1="397.6" x2="394.75" y2="397.6" stroke="#a9092f" stroke-width="0.8"/>
<rect x="391.3" y="398.8" width="4.5" height="6.2" fill="#a9092f"/>
<line x1="405.25" y1="368.8" x2="405.25" y2="375" stroke="#2c4b86" stroke-width="1.2"/>
<line x1="404.05" y1="369" x2="406.45" y2="369" stroke="#2c4b86" stroke-width="0.8"/>
<rect x="403" y="374.5" width="4.5" height="30.5" fill="#2c4b86"/>
<line x1="411.75" y1="363.3" x2="411.75" y2="366" stroke="#a9092f" stroke-width="1.2"/>
<line x1="410.55" y1="363.5" x2="412.95" y2="363.5" stroke="#a9092f" stroke-width="0.8"/>
<rect x="409.5" y="365.5" width="4.5" height="39.5" fill="#a9092f"/>
<line x1="346.8" y1="330.5" x2="346.8" y2="405.5" stroke="#000" stroke-width="1"/>
<line x1="346.3" y1="405" x2="417" y2="405" stroke="#000" stroke-width="1"/>
<line x1="344.5" y1="333.3" x2="346.8" y2="333.3" stroke="#000" stroke-width="0.8"/>
<text x="340.2" y="335.77" font-size="6.9" text-anchor="end" class="k">60</text>
<line x1="344.5" y1="357.2" x2="346.8" y2="357.2" stroke="#000" stroke-width="0.8"/>
<text x="340.2" y="359.67" font-size="6.9" text-anchor="end" class="k">40</text>
<line x1="344.5" y1="381.1" x2="346.8" y2="381.1" stroke="#000" stroke-width="0.8"/>
<text x="340.2" y="383.57" font-size="6.9" text-anchor="end" class="k">20</text>
<line x1="344.5" y1="405" x2="346.8" y2="405" stroke="#000" stroke-width="0.8"/>
<text x="340.2" y="407.47" font-size="6.9" text-anchor="end" class="k">0</text>
<line x1="354" y1="405" x2="354" y2="407.4" stroke="#000" stroke-width="0.8"/>
<line x1="372.3" y1="405" x2="372.3" y2="407.4" stroke="#000" stroke-width="0.8"/>
<line x1="390.4" y1="405" x2="390.4" y2="407.4" stroke="#000" stroke-width="0.8"/>
<line x1="408.5" y1="405" x2="408.5" y2="407.4" stroke="#000" stroke-width="0.8"/>
<text transform="translate(324 367.5) rotate(-90)" x="0" y="3.22" font-size="9" text-anchor="middle" class="k" textLength="38" lengthAdjust="spacingAndGlyphs">% apoptosis</text>
<line x1="368.3" y1="338.5" x2="379.5" y2="338.5" stroke="#2e2e2e" stroke-width="1.25"/>
<text x="373.8" y="337.88" font-size="5.8" text-anchor="middle" stroke="#161314" stroke-width="0.12">*</text>
<line x1="367.5" y1="328.5" x2="407" y2="328.5" stroke="#2e2e2e" stroke-width="1.25"/>
<text x="387" y="327.58" font-size="5.8" text-anchor="middle" class="k">n.s.</text>
<line x1="375.5" y1="318.5" x2="415.5" y2="318.5" stroke="#2e2e2e" stroke-width="1.25"/>
<text x="395.8" y="318.48" font-size="5.8" text-anchor="middle" stroke="#161314" stroke-width="0.12">*</text>
<line x1="404.3" y1="360.5" x2="414.5" y2="360.5" stroke="#2e2e2e" stroke-width="1.25"/>
<text x="409.3" y="359.28" font-size="5.8" text-anchor="middle" class="k">n.s.</text>
<text x="353.8" y="417.47" font-size="6.9" text-anchor="middle" class="k">DMSO</text>
<text x="372.5" y="417.47" font-size="6.9" text-anchor="middle" class="k">Cfz</text>
<text x="390.5" y="417.47" font-size="6.9" text-anchor="middle" class="k">NAC</text>
<text x="408.3" y="417.47" font-size="6.9" text-anchor="middle" class="k">N+C</text>
<rect x="417" y="331.1" width="6.3" height="4.4" fill="#2c4b86"/>
<rect x="417" y="340.8" width="6.3" height="4.4" fill="#a9092f"/>
<text x="427" y="335.28" font-size="5.8" class="k">MM.1S CTR-KO</text>
<text x="427" y="345.08" font-size="5.8" class="k">MM.1S MIF-KO</text>
<text transform="translate(288.4 454.1) scale(1.13 1)" x="0" y="0" font-size="12" font-weight="bold">K</text>
<line x1="328.95" y1="535.8" x2="328.95" y2="538" stroke="#2c4b86" stroke-width="1.2"/>
<line x1="327.75" y1="536" x2="330.15" y2="536" stroke="#2c4b86" stroke-width="0.8"/>
<rect x="326.8" y="537.5" width="4.3" height="6.3" fill="#2c4b86"/>
<line x1="335.65" y1="533.3" x2="335.65" y2="536.8" stroke="#a9092f" stroke-width="1.2"/>
<line x1="334.45" y1="533.5" x2="336.85" y2="533.5" stroke="#a9092f" stroke-width="0.8"/>
<rect x="333.3" y="536.3" width="4.7" height="7.5" fill="#a9092f"/>
<line x1="347.25" y1="510.5" x2="347.25" y2="514.8" stroke="#2c4b86" stroke-width="1.2"/>
<line x1="346.05" y1="510.7" x2="348.45" y2="510.7" stroke="#2c4b86" stroke-width="0.8"/>
<rect x="345" y="514.3" width="4.5" height="29.5" fill="#2c4b86"/>
<line x1="353.8" y1="483.3" x2="353.8" y2="486.8" stroke="#a9092f" stroke-width="1.2"/>
<line x1="352.6" y1="483.5" x2="355" y2="483.5" stroke="#a9092f" stroke-width="0.8"/>
<rect x="351.3" y="486.3" width="5" height="57.5" fill="#a9092f"/>
<line x1="365.25" y1="535" x2="365.25" y2="537.5" stroke="#2c4b86" stroke-width="1.2"/>
<line x1="364.05" y1="535.2" x2="366.45" y2="535.2" stroke="#2c4b86" stroke-width="0.8"/>
<rect x="363" y="537" width="4.5" height="6.8" fill="#2c4b86"/>
<line x1="371.9" y1="531.8" x2="371.9" y2="534.3" stroke="#a9092f" stroke-width="1.2"/>
<line x1="370.7" y1="532" x2="373.1" y2="532" stroke="#a9092f" stroke-width="0.8"/>
<rect x="369.5" y="533.8" width="4.8" height="10" fill="#a9092f"/>
<line x1="383.55" y1="514.5" x2="383.55" y2="521" stroke="#2c4b86" stroke-width="1.2"/>
<line x1="382.35" y1="514.7" x2="384.75" y2="514.7" stroke="#2c4b86" stroke-width="0.8"/>
<rect x="381.3" y="520.5" width="4.5" height="23.3" fill="#2c4b86"/>
<line x1="390.3" y1="510.8" x2="390.3" y2="514.8" stroke="#a9092f" stroke-width="1.2"/>
<line x1="389.1" y1="511" x2="391.5" y2="511" stroke="#a9092f" stroke-width="0.8"/>
<rect x="388" y="514.3" width="4.6" height="29.5" fill="#a9092f"/>
<line x1="324.3" y1="470" x2="324.3" y2="544.3" stroke="#000" stroke-width="1"/>
<line x1="323.8" y1="543.8" x2="395" y2="543.8" stroke="#000" stroke-width="1"/>
<line x1="322" y1="472.5" x2="324.3" y2="472.5" stroke="#000" stroke-width="0.8"/>
<text x="318" y="474.97" font-size="6.9" text-anchor="end" class="k">50</text>
<line x1="322" y1="486.8" x2="324.3" y2="486.8" stroke="#000" stroke-width="0.8"/>
<text x="318" y="489.27" font-size="6.9" text-anchor="end" class="k">40</text>
<line x1="322" y1="501" x2="324.3" y2="501" stroke="#000" stroke-width="0.8"/>
<text x="318" y="503.47" font-size="6.9" text-anchor="end" class="k">30</text>
<line x1="322" y1="515.3" x2="324.3" y2="515.3" stroke="#000" stroke-width="0.8"/>
<text x="318" y="517.77" font-size="6.9" text-anchor="end" class="k">20</text>
<line x1="322" y1="529.5" x2="324.3" y2="529.5" stroke="#000" stroke-width="0.8"/>
<text x="318" y="531.97" font-size="6.9" text-anchor="end" class="k">10</text>
<line x1="322" y1="543.8" x2="324.3" y2="543.8" stroke="#000" stroke-width="0.8"/>
<text x="318" y="546.27" font-size="6.9" text-anchor="end" class="k">0</text>
<line x1="332.3" y1="543.8" x2="332.3" y2="546.2" stroke="#000" stroke-width="0.8"/>
<line x1="350.6" y1="543.8" x2="350.6" y2="546.2" stroke="#000" stroke-width="0.8"/>
<line x1="368.6" y1="543.8" x2="368.6" y2="546.2" stroke="#000" stroke-width="0.8"/>
<line x1="386.9" y1="543.8" x2="386.9" y2="546.2" stroke="#000" stroke-width="0.8"/>
<text transform="translate(302 506.8) rotate(-90)" x="0" y="3.22" font-size="9" text-anchor="middle" class="k" textLength="38" lengthAdjust="spacingAndGlyphs">% apoptotic</text>
<line x1="345" y1="479.5" x2="356.3" y2="479.5" stroke="#2e2e2e" stroke-width="1.25"/>
<text x="350.8" y="479.18" font-size="5.8" text-anchor="middle" stroke="#161314" stroke-width="0.12">*</text>
<line x1="344.5" y1="471.5" x2="384.5" y2="471.5" stroke="#2e2e2e" stroke-width="1.25"/>
<text x="364.3" y="470.08" font-size="5.8" text-anchor="middle" class="k">n.s.</text>
<line x1="353.3" y1="461.5" x2="393" y2="461.5" stroke="#2e2e2e" stroke-width="1.25"/>
<text x="373.8" y="460.88" font-size="5.8" text-anchor="middle" stroke="#161314" stroke-width="0.12">*</text>
<line x1="382" y1="506.5" x2="393" y2="506.5" stroke="#2e2e2e" stroke-width="1.25"/>
<text x="387.5" y="505.58" font-size="5.8" text-anchor="middle" class="k">n.s.</text>
<text x="332" y="556.97" font-size="6.9" text-anchor="middle" class="k">DMSO</text>
<text x="350.5" y="556.97" font-size="6.9" text-anchor="middle" class="k">Cfz</text>
<text x="368.3" y="556.97" font-size="6.9" text-anchor="middle" class="k">NAC</text>
<text x="386.8" y="556.97" font-size="6.9" text-anchor="middle" class="k">N+C</text>
<rect x="395.6" y="470.4" width="6.2" height="4.3" fill="#2c4b86"/>
<rect x="395.6" y="479.6" width="6.2" height="4.3" fill="#a9092f"/>
<text x="405.6" y="474.37" font-size="5.5" class="k">ARP-1 CTR-KO</text>
<text x="405.6" y="483.77" font-size="5.5" class="k">ARP-1 MIF-KO</text>
<text transform="translate(7 453.5) scale(1.13 1)" x="0" y="0" font-size="12" font-weight="bold">I</text>
<text x="41.3" y="463.81" font-size="7" text-anchor="middle" class="k">DMSO</text>
<text x="96.3" y="463.81" font-size="7" text-anchor="middle" class="k">Cfz</text>
<text x="151.3" y="463.81" font-size="7" text-anchor="middle" class="k">NAC</text>
<text x="206.8" y="463.81" font-size="7" text-anchor="middle" class="k">N+C</text>
<text x="229.3" y="488.01" font-size="7" class="k">CTR-KO MM.1S</text>
<text x="229.3" y="541.31" font-size="7" class="k">MIF-KO MM.1S</text>
<text x="229.3" y="594.31" font-size="7" class="k">CTR-KO ARP-1</text>
<text x="229.3" y="646.81" font-size="7" class="k">MIF-KO ARP-1</text>
<path d="M27.5 504.2 L27.5 504.2 L27.8 504.2 L28.1 504.2 L28.4 504.2 L28.7 504.2 L29 504.2 L29.3 504.2 L29.6 504.2 L29.9 504.18 L30.2 504.06 L30.5 503.47 L30.8 501.43 L31.1 496.37 L31.4 487.71 L31.7 478.38 L32 474.04 L32.3 474.77 L32.6 477.29 L32.9 481.02 L33.2 485.24 L33.5 489.33 L33.8 492.92 L34.1 495.83 L34.4 497.94 L34.7 499.34 L35 500.26 L35.3 500.87 L35.6 501.32 L35.9 501.68 L36.2 502.01 L36.5 502.32 L36.8 502.61 L37.1 502.87 L37.4 503.12 L37.7 503.33 L38 503.52 L38.3 503.67 L38.6 503.8 L38.9 503.9 L39.2 503.98 L39.5 504.04 L39.8 504.09 L40.1 504.12 L40.4 504.15 L40.7 504.17 L41 504.18 L41.3 504.19 L41.6 504.19 L41.9 504.19 L42.2 504.2 L42.5 504.2 L42.8 504.2 L43.1 504.2 L43.4 504.19 L43.7 504.18 L44 504.17 L44.3 504.14 L44.6 504.1 L44.9 504.05 L45.2 503.97 L45.5 503.87 L45.8 503.77 L46.1 503.66 L46.4 503.57 L46.7 503.51 L47 503.48 L47.3 503.51 L47.6 503.57 L47.9 503.66 L48.2 503.77 L48.5 503.87 L48.8 503.97 L49.1 504.05 L49.4 504.1 L49.7 504.14 L50 504.17 L50.3 504.18 L50.6 504.19 L50.9 504.2 L51.2 504.2 L51.5 504.2 L51.8 504.2 L52.1 504.2 L52.4 504.2 L52.7 504.2 L53 504.2 L53.3 504.2 L53.6 504.2 L53.9 504.2 L54.2 504.2 L54.5 504.2 L54.8 504.2 L55.1 504.2 L55.4 504.2 L55.7 504.2 L56 504.2 L56.3 504.2 L56.6 504.2 L56.9 504.2 L57.2 504.2 L57.5 504.2 L57.8 504.2 L58.1 504.2 L58.4 504.2 L58.7 504.2 L59 504.2 L59.3 504.2 L59.5 504.2 Z" fill="#eebcc6" stroke="#c0405e" stroke-width="0.6" stroke-linejoin="round"/>
<rect x="22.5" y="467.5" width="38" height="37" fill="none" stroke="#0a0a0a" stroke-width="0.9"/>
<line x1="37" y1="486.5" x2="60.5" y2="486.5" stroke="#333" stroke-width="0.55"/>
<line x1="37" y1="485.6" x2="37" y2="487.4" stroke="#555" stroke-width="0.5"/>
<text x="45.5" y="482.05" font-size="4.9" text-anchor="middle" class="k">6.20</text>
<line x1="20.9" y1="504.05" x2="22.5" y2="504.05" stroke="#161314" stroke-width="0.5"/>
<text x="19.7" y="505.77" font-size="4.8" text-anchor="end" class="k">0</text>
<line x1="20.9" y1="496.9" x2="22.5" y2="496.9" stroke="#161314" stroke-width="0.5"/>
<text x="19.7" y="498.62" font-size="4.8" text-anchor="end" class="k">20</text>
<line x1="20.9" y1="489.75" x2="22.5" y2="489.75" stroke="#161314" stroke-width="0.5"/>
<text x="19.7" y="491.47" font-size="4.8" text-anchor="end" class="k">40</text>
<line x1="20.9" y1="482.6" x2="22.5" y2="482.6" stroke="#161314" stroke-width="0.5"/>
<text x="19.7" y="484.32" font-size="4.8" text-anchor="end" class="k">60</text>
<line x1="20.9" y1="475.45" x2="22.5" y2="475.45" stroke="#161314" stroke-width="0.5"/>
<text x="19.7" y="477.17" font-size="4.8" text-anchor="end" class="k">80</text>
<line x1="20.9" y1="468.3" x2="22.5" y2="468.3" stroke="#161314" stroke-width="0.5"/>
<text x="19.7" y="470.02" font-size="4.8" text-anchor="end" class="k">100</text>
<text x="26.9" y="512.16" font-size="5.2" text-anchor="middle" textLength="6.5" lengthAdjust="spacingAndGlyphs" class="k">-10<tspan font-size="3.4" dy="-1.7">3</tspan></text>
<text x="31.8" y="512.16" font-size="5.2" text-anchor="middle" textLength="2.4" lengthAdjust="spacingAndGlyphs" class="k">0</text>
<text x="39.3" y="512.16" font-size="5.2" text-anchor="middle" textLength="6.1" lengthAdjust="spacingAndGlyphs" class="k">10<tspan font-size="3.4" dy="-1.7">3</tspan></text>
<text x="48.9" y="512.16" font-size="5.2" text-anchor="middle" textLength="6.1" lengthAdjust="spacingAndGlyphs" class="k">10<tspan font-size="3.4" dy="-1.7">4</tspan></text>
<text x="56.8" y="512.16" font-size="5.2" text-anchor="middle" textLength="6.1" lengthAdjust="spacingAndGlyphs" class="k">10<tspan font-size="3.4" dy="-1.7">5</tspan></text>
<line x1="25.7" y1="504.5" x2="25.7" y2="506.1" stroke="#161314" stroke-width="0.45"/>
<line x1="30.9" y1="504.5" x2="30.9" y2="506.1" stroke="#161314" stroke-width="0.45"/>
<line x1="36.1" y1="504.5" x2="36.1" y2="506.1" stroke="#161314" stroke-width="0.45"/>
<line x1="45.7" y1="504.5" x2="45.7" y2="506.1" stroke="#161314" stroke-width="0.45"/>
<line x1="55.1" y1="504.5" x2="55.1" y2="506.1" stroke="#161314" stroke-width="0.45"/>
<line x1="27.1" y1="504.5" x2="27.1" y2="505.4" stroke="#161314" stroke-width="0.3"/>
<line x1="28.1" y1="504.5" x2="28.1" y2="505.4" stroke="#161314" stroke-width="0.3"/>
<line x1="28.8" y1="504.5" x2="28.8" y2="505.4" stroke="#161314" stroke-width="0.3"/>
<line x1="29.5" y1="504.5" x2="29.5" y2="505.4" stroke="#161314" stroke-width="0.3"/>
<line x1="32.3" y1="504.5" x2="32.3" y2="505.4" stroke="#161314" stroke-width="0.3"/>
<line x1="33.1" y1="504.5" x2="33.1" y2="505.4" stroke="#161314" stroke-width="0.3"/>
<line x1="33.9" y1="504.5" x2="33.9" y2="505.4" stroke="#161314" stroke-width="0.3"/>
<line x1="34.7" y1="504.5" x2="34.7" y2="505.4" stroke="#161314" stroke-width="0.3"/>
<line x1="39" y1="504.5" x2="39" y2="505.4" stroke="#161314" stroke-width="0.3"/>
<line x1="40.7" y1="504.5" x2="40.7" y2="505.4" stroke="#161314" stroke-width="0.3"/>
<line x1="41.9" y1="504.5" x2="41.9" y2="505.4" stroke="#161314" stroke-width="0.3"/>
<line x1="42.8" y1="504.5" x2="42.8" y2="505.4" stroke="#161314" stroke-width="0.3"/>
<line x1="43.6" y1="504.5" x2="43.6" y2="505.4" stroke="#161314" stroke-width="0.3"/>
<line x1="44.2" y1="504.5" x2="44.2" y2="505.4" stroke="#161314" stroke-width="0.3"/>
<line x1="44.8" y1="504.5" x2="44.8" y2="505.4" stroke="#161314" stroke-width="0.3"/>
<line x1="48.6" y1="504.5" x2="48.6" y2="505.4" stroke="#161314" stroke-width="0.3"/>
<line x1="50.3" y1="504.5" x2="50.3" y2="505.4" stroke="#161314" stroke-width="0.3"/>
<line x1="51.5" y1="504.5" x2="51.5" y2="505.4" stroke="#161314" stroke-width="0.3"/>
<line x1="52.4" y1="504.5" x2="52.4" y2="505.4" stroke="#161314" stroke-width="0.3"/>
<line x1="53.2" y1="504.5" x2="53.2" y2="505.4" stroke="#161314" stroke-width="0.3"/>
<line x1="53.8" y1="504.5" x2="53.8" y2="505.4" stroke="#161314" stroke-width="0.3"/>
<line x1="54.4" y1="504.5" x2="54.4" y2="505.4" stroke="#161314" stroke-width="0.3"/>
<line x1="57.9" y1="504.5" x2="57.9" y2="505.4" stroke="#161314" stroke-width="0.3"/>
<line x1="59.1" y1="504.5" x2="59.1" y2="505.4" stroke="#161314" stroke-width="0.3"/>
<rect x="29.8" y="504.3" width="1.6" height="1.1" fill="#111"/>
<path d="M82.5 504.2 L82.5 504.19 L82.8 504.19 L83.1 504.18 L83.4 504.17 L83.7 504.16 L84 504.14 L84.3 504.12 L84.6 504.08 L84.9 504 L85.2 503.82 L85.5 503.37 L85.8 502.26 L86.1 499.85 L86.4 495.45 L86.7 489.02 L87 481.8 L87.3 476.22 L87.6 474.31 L87.9 474.37 L88.2 475.57 L88.5 477.64 L88.8 480.26 L89.1 483.09 L89.4 485.87 L89.7 488.39 L90 490.45 L90.3 492.08 L90.6 493.33 L90.9 494.3 L91.2 495.08 L91.5 495.74 L91.8 496.32 L92.1 496.84 L92.4 497.31 L92.7 497.73 L93 498.09 L93.3 498.4 L93.6 498.65 L93.9 498.84 L94.2 498.97 L94.5 499.06 L94.8 499.11 L95.1 499.12 L95.4 499.1 L95.7 499.06 L96 499 L96.3 498.94 L96.6 498.87 L96.9 498.81 L97.2 498.75 L97.5 498.71 L97.8 498.68 L98.1 498.67 L98.4 498.68 L98.7 498.72 L99 498.8 L99.3 498.96 L99.6 499.2 L99.9 499.51 L100.2 499.87 L100.5 500.28 L100.8 500.72 L101.1 501.16 L101.4 501.59 L101.7 502 L102 502.38 L102.3 502.73 L102.6 503.03 L102.9 503.28 L103.2 503.49 L103.5 503.67 L103.8 503.81 L104.1 503.91 L104.4 504 L104.7 504.06 L105 504.1 L105.3 504.13 L105.6 504.16 L105.9 504.17 L106.2 504.18 L106.5 504.19 L106.8 504.19 L107.1 504.2 L107.4 504.2 L107.7 504.2 L108 504.2 L108.3 504.2 L108.6 504.2 L108.9 504.2 L109.2 504.2 L109.5 504.2 L109.8 504.2 L110.1 504.2 L110.4 504.2 L110.7 504.2 L111 504.2 L111.3 504.2 L111.6 504.2 L111.9 504.2 L112.2 504.2 L112.5 504.2 L112.8 504.2 L113.1 504.2 L113.4 504.2 L113.7 504.2 L114 504.2 L114.3 504.2 L114.5 504.2 Z" fill="#eebcc6" stroke="#c0405e" stroke-width="0.6" stroke-linejoin="round"/>
<rect x="77.5" y="467.5" width="38" height="37" fill="none" stroke="#0a0a0a" stroke-width="0.9"/>
<line x1="92" y1="486.5" x2="115.5" y2="486.5" stroke="#333" stroke-width="0.55"/>
<line x1="92" y1="485.6" x2="92" y2="487.4" stroke="#555" stroke-width="0.5"/>
<text x="100" y="482.05" font-size="4.9" text-anchor="middle" class="k">29.5</text>
<line x1="75.9" y1="504.05" x2="77.5" y2="504.05" stroke="#161314" stroke-width="0.5"/>
<text x="74.7" y="505.77" font-size="4.8" text-anchor="end" class="k">0</text>
<line x1="75.9" y1="496.9" x2="77.5" y2="496.9" stroke="#161314" stroke-width="0.5"/>
<text x="74.7" y="498.62" font-size="4.8" text-anchor="end" class="k">20</text>
<line x1="75.9" y1="489.75" x2="77.5" y2="489.75" stroke="#161314" stroke-width="0.5"/>
<text x="74.7" y="491.47" font-size="4.8" text-anchor="end" class="k">40</text>
<line x1="75.9" y1="482.6" x2="77.5" y2="482.6" stroke="#161314" stroke-width="0.5"/>
<text x="74.7" y="484.32" font-size="4.8" text-anchor="end" class="k">60</text>
<line x1="75.9" y1="475.45" x2="77.5" y2="475.45" stroke="#161314" stroke-width="0.5"/>
<text x="74.7" y="477.17" font-size="4.8" text-anchor="end" class="k">80</text>
<line x1="75.9" y1="468.3" x2="77.5" y2="468.3" stroke="#161314" stroke-width="0.5"/>
<text x="74.7" y="470.02" font-size="4.8" text-anchor="end" class="k">100</text>
<text x="81.9" y="512.16" font-size="5.2" text-anchor="middle" textLength="6.5" lengthAdjust="spacingAndGlyphs" class="k">-10<tspan font-size="3.4" dy="-1.7">3</tspan></text>
<text x="86.8" y="512.16" font-size="5.2" text-anchor="middle" textLength="2.4" lengthAdjust="spacingAndGlyphs" class="k">0</text>
<text x="94.3" y="512.16" font-size="5.2" text-anchor="middle" textLength="6.1" lengthAdjust="spacingAndGlyphs" class="k">10<tspan font-size="3.4" dy="-1.7">3</tspan></text>
<text x="103.9" y="512.16" font-size="5.2" text-anchor="middle" textLength="6.1" lengthAdjust="spacingAndGlyphs" class="k">10<tspan font-size="3.4" dy="-1.7">4</tspan></text>
<text x="111.8" y="512.16" font-size="5.2" text-anchor="middle" textLength="6.1" lengthAdjust="spacingAndGlyphs" class="k">10<tspan font-size="3.4" dy="-1.7">5</tspan></text>
<line x1="80.7" y1="504.5" x2="80.7" y2="506.1" stroke="#161314" stroke-width="0.45"/>
<line x1="85.9" y1="504.5" x2="85.9" y2="506.1" stroke="#161314" stroke-width="0.45"/>
<line x1="91.1" y1="504.5" x2="91.1" y2="506.1" stroke="#161314" stroke-width="0.45"/>
<line x1="100.7" y1="504.5" x2="100.7" y2="506.1" stroke="#161314" stroke-width="0.45"/>
<line x1="110.1" y1="504.5" x2="110.1" y2="506.1" stroke="#161314" stroke-width="0.45"/>
<line x1="82.1" y1="504.5" x2="82.1" y2="505.4" stroke="#161314" stroke-width="0.3"/>
<line x1="83.1" y1="504.5" x2="83.1" y2="505.4" stroke="#161314" stroke-width="0.3"/>
<line x1="83.8" y1="504.5" x2="83.8" y2="505.4" stroke="#161314" stroke-width="0.3"/>
<line x1="84.5" y1="504.5" x2="84.5" y2="505.4" stroke="#161314" stroke-width="0.3"/>
<line x1="87.3" y1="504.5" x2="87.3" y2="505.4" stroke="#161314" stroke-width="0.3"/>
<line x1="88.1" y1="504.5" x2="88.1" y2="505.4" stroke="#161314" stroke-width="0.3"/>
<line x1="88.9" y1="504.5" x2="88.9" y2="505.4" stroke="#161314" stroke-width="0.3"/>
<line x1="89.7" y1="504.5" x2="89.7" y2="505.4" stroke="#161314" stroke-width="0.3"/>
<line x1="94" y1="504.5" x2="94" y2="505.4" stroke="#161314" stroke-width="0.3"/>
<line x1="95.7" y1="504.5" x2="95.7" y2="505.4" stroke="#161314" stroke-width="0.3"/>
<line x1="96.9" y1="504.5" x2="96.9" y2="505.4" stroke="#161314" stroke-width="0.3"/>
<line x1="97.8" y1="504.5" x2="97.8" y2="505.4" stroke="#161314" stroke-width="0.3"/>
<line x1="98.6" y1="504.5" x2="98.6" y2="505.4" stroke="#161314" stroke-width="0.3"/>
<line x1="99.2" y1="504.5" x2="99.2" y2="505.4" stroke="#161314" stroke-width="0.3"/>
<line x1="99.8" y1="504.5" x2="99.8" y2="505.4" stroke="#161314" stroke-width="0.3"/>
<line x1="103.6" y1="504.5" x2="103.6" y2="505.4" stroke="#161314" stroke-width="0.3"/>
<line x1="105.3" y1="504.5" x2="105.3" y2="505.4" stroke="#161314" stroke-width="0.3"/>
<line x1="106.5" y1="504.5" x2="106.5" y2="505.4" stroke="#161314" stroke-width="0.3"/>
<line x1="107.4" y1="504.5" x2="107.4" y2="505.4" stroke="#161314" stroke-width="0.3"/>
<line x1="108.2" y1="504.5" x2="108.2" y2="505.4" stroke="#161314" stroke-width="0.3"/>
<line x1="108.8" y1="504.5" x2="108.8" y2="505.4" stroke="#161314" stroke-width="0.3"/>
<line x1="109.4" y1="504.5" x2="109.4" y2="505.4" stroke="#161314" stroke-width="0.3"/>
<line x1="112.9" y1="504.5" x2="112.9" y2="505.4" stroke="#161314" stroke-width="0.3"/>
<line x1="114.1" y1="504.5" x2="114.1" y2="505.4" stroke="#161314" stroke-width="0.3"/>
<rect x="84.8" y="504.3" width="1.6" height="1.1" fill="#111"/>
<path d="M137.5 504.2 L137.5 504.2 L137.8 504.2 L138.1 504.2 L138.4 504.2 L138.7 504.2 L139 504.2 L139.3 504.2 L139.6 504.2 L139.9 504.2 L140.2 504.19 L140.5 504.15 L140.8 503.91 L141.1 502.9 L141.4 499.75 L141.7 492.83 L142 482.52 L142.3 473.38 L142.6 471.02 L142.9 472.76 L143.2 476.63 L143.5 481.7 L143.8 486.96 L144.1 491.68 L144.4 495.37 L144.7 497.92 L145 499.56 L145.3 500.58 L145.6 501.24 L145.9 501.72 L146.2 502.11 L146.5 502.45 L146.8 502.76 L147.1 503.04 L147.4 503.28 L147.7 503.49 L148 503.67 L148.3 503.81 L148.6 503.92 L148.9 504 L149.2 504.06 L149.5 504.11 L149.8 504.14 L150.1 504.16 L150.4 504.17 L150.7 504.18 L151 504.19 L151.3 504.19 L151.6 504.2 L151.9 504.2 L152.2 504.2 L152.5 504.2 L152.8 504.2 L153.1 504.2 L153.4 504.2 L153.7 504.2 L154 504.2 L154.3 504.2 L154.6 504.2 L154.9 504.2 L155.2 504.2 L155.5 504.2 L155.8 504.2 L156.1 504.2 L156.4 504.2 L156.7 504.2 L157 504.2 L157.3 504.2 L157.6 504.2 L157.9 504.2 L158.2 504.2 L158.5 504.2 L158.8 504.2 L159.1 504.2 L159.4 504.2 L159.7 504.2 L160 504.2 L160.3 504.2 L160.6 504.2 L160.9 504.2 L161.2 504.2 L161.5 504.2 L161.8 504.2 L162.1 504.2 L162.4 504.2 L162.7 504.2 L163 504.2 L163.3 504.2 L163.6 504.2 L163.9 504.2 L164.2 504.2 L164.5 504.2 L164.8 504.2 L165.1 504.2 L165.4 504.2 L165.7 504.2 L166 504.2 L166.3 504.2 L166.6 504.2 L166.9 504.2 L167.2 504.2 L167.5 504.2 L167.8 504.2 L168.1 504.2 L168.4 504.2 L168.7 504.2 L169 504.2 L169.3 504.2 L169.5 504.2 Z" fill="#eebcc6" stroke="#c0405e" stroke-width="0.6" stroke-linejoin="round"/>
<rect x="132.5" y="467.5" width="38" height="37" fill="none" stroke="#0a0a0a" stroke-width="0.9"/>
<line x1="147" y1="486.5" x2="170.5" y2="486.5" stroke="#333" stroke-width="0.55"/>
<line x1="147" y1="485.6" x2="147" y2="487.4" stroke="#555" stroke-width="0.5"/>
<text x="155.7" y="482.05" font-size="4.9" text-anchor="middle" class="k">6.55</text>
<line x1="130.9" y1="504.05" x2="132.5" y2="504.05" stroke="#161314" stroke-width="0.5"/>
<text x="129.7" y="505.77" font-size="4.8" text-anchor="end" class="k">0</text>
<line x1="130.9" y1="496.9" x2="132.5" y2="496.9" stroke="#161314" stroke-width="0.5"/>
<text x="129.7" y="498.62" font-size="4.8" text-anchor="end" class="k">20</text>
<line x1="130.9" y1="489.75" x2="132.5" y2="489.75" stroke="#161314" stroke-width="0.5"/>
<text x="129.7" y="491.47" font-size="4.8" text-anchor="end" class="k">40</text>
<line x1="130.9" y1="482.6" x2="132.5" y2="482.6" stroke="#161314" stroke-width="0.5"/>
<text x="129.7" y="484.32" font-size="4.8" text-anchor="end" class="k">60</text>
<line x1="130.9" y1="475.45" x2="132.5" y2="475.45" stroke="#161314" stroke-width="0.5"/>
<text x="129.7" y="477.17" font-size="4.8" text-anchor="end" class="k">80</text>
<line x1="130.9" y1="468.3" x2="132.5" y2="468.3" stroke="#161314" stroke-width="0.5"/>
<text x="129.7" y="470.02" font-size="4.8" text-anchor="end" class="k">100</text>
<text x="136.9" y="512.16" font-size="5.2" text-anchor="middle" textLength="6.5" lengthAdjust="spacingAndGlyphs" class="k">-10<tspan font-size="3.4" dy="-1.7">3</tspan></text>
<text x="141.8" y="512.16" font-size="5.2" text-anchor="middle" textLength="2.4" lengthAdjust="spacingAndGlyphs" class="k">0</text>
<text x="149.3" y="512.16" font-size="5.2" text-anchor="middle" textLength="6.1" lengthAdjust="spacingAndGlyphs" class="k">10<tspan font-size="3.4" dy="-1.7">3</tspan></text>
<text x="158.9" y="512.16" font-size="5.2" text-anchor="middle" textLength="6.1" lengthAdjust="spacingAndGlyphs" class="k">10<tspan font-size="3.4" dy="-1.7">4</tspan></text>
<text x="166.8" y="512.16" font-size="5.2" text-anchor="middle" textLength="6.1" lengthAdjust="spacingAndGlyphs" class="k">10<tspan font-size="3.4" dy="-1.7">5</tspan></text>
<line x1="135.7" y1="504.5" x2="135.7" y2="506.1" stroke="#161314" stroke-width="0.45"/>
<line x1="140.9" y1="504.5" x2="140.9" y2="506.1" stroke="#161314" stroke-width="0.45"/>
<line x1="146.1" y1="504.5" x2="146.1" y2="506.1" stroke="#161314" stroke-width="0.45"/>
<line x1="155.7" y1="504.5" x2="155.7" y2="506.1" stroke="#161314" stroke-width="0.45"/>
<line x1="165.1" y1="504.5" x2="165.1" y2="506.1" stroke="#161314" stroke-width="0.45"/>
<line x1="137.1" y1="504.5" x2="137.1" y2="505.4" stroke="#161314" stroke-width="0.3"/>
<line x1="138.1" y1="504.5" x2="138.1" y2="505.4" stroke="#161314" stroke-width="0.3"/>
<line x1="138.8" y1="504.5" x2="138.8" y2="505.4" stroke="#161314" stroke-width="0.3"/>
<line x1="139.5" y1="504.5" x2="139.5" y2="505.4" stroke="#161314" stroke-width="0.3"/>
<line x1="142.3" y1="504.5" x2="142.3" y2="505.4" stroke="#161314" stroke-width="0.3"/>
<line x1="143.1" y1="504.5" x2="143.1" y2="505.4" stroke="#161314" stroke-width="0.3"/>
<line x1="143.9" y1="504.5" x2="143.9" y2="505.4" stroke="#161314" stroke-width="0.3"/>
<line x1="144.7" y1="504.5" x2="144.7" y2="505.4" stroke="#161314" stroke-width="0.3"/>
<line x1="149" y1="504.5" x2="149" y2="505.4" stroke="#161314" stroke-width="0.3"/>
<line x1="150.7" y1="504.5" x2="150.7" y2="505.4" stroke="#161314" stroke-width="0.3"/>
<line x1="151.9" y1="504.5" x2="151.9" y2="505.4" stroke="#161314" stroke-width="0.3"/>
<line x1="152.8" y1="504.5" x2="152.8" y2="505.4" stroke="#161314" stroke-width="0.3"/>
<line x1="153.6" y1="504.5" x2="153.6" y2="505.4" stroke="#161314" stroke-width="0.3"/>
<line x1="154.2" y1="504.5" x2="154.2" y2="505.4" stroke="#161314" stroke-width="0.3"/>
<line x1="154.8" y1="504.5" x2="154.8" y2="505.4" stroke="#161314" stroke-width="0.3"/>
<line x1="158.6" y1="504.5" x2="158.6" y2="505.4" stroke="#161314" stroke-width="0.3"/>
<line x1="160.3" y1="504.5" x2="160.3" y2="505.4" stroke="#161314" stroke-width="0.3"/>
<line x1="161.5" y1="504.5" x2="161.5" y2="505.4" stroke="#161314" stroke-width="0.3"/>
<line x1="162.4" y1="504.5" x2="162.4" y2="505.4" stroke="#161314" stroke-width="0.3"/>
<line x1="163.2" y1="504.5" x2="163.2" y2="505.4" stroke="#161314" stroke-width="0.3"/>
<line x1="163.8" y1="504.5" x2="163.8" y2="505.4" stroke="#161314" stroke-width="0.3"/>
<line x1="164.4" y1="504.5" x2="164.4" y2="505.4" stroke="#161314" stroke-width="0.3"/>
<line x1="167.9" y1="504.5" x2="167.9" y2="505.4" stroke="#161314" stroke-width="0.3"/>
<line x1="169.1" y1="504.5" x2="169.1" y2="505.4" stroke="#161314" stroke-width="0.3"/>
<rect x="139.8" y="504.3" width="1.6" height="1.1" fill="#111"/>
<path d="M192.5 504.2 L192.5 504.19 L192.8 504.19 L193.1 504.19 L193.4 504.18 L193.7 504.18 L194 504.18 L194.3 504.17 L194.6 504.17 L194.9 504.16 L195.2 504.15 L195.5 504.14 L195.8 504.11 L196.1 504.05 L196.4 503.9 L196.7 503.57 L197 502.84 L197.3 501.41 L197.6 498.89 L197.9 494.98 L198.2 489.71 L198.5 483.66 L198.8 477.96 L199.1 473.96 L199.4 472.58 L199.7 472.61 L200 473.55 L200.3 475.32 L200.6 477.74 L200.9 480.61 L201.2 483.69 L201.5 486.65 L201.8 489.36 L202.1 491.72 L202.4 493.7 L202.7 495.31 L203 496.6 L203.3 497.62 L203.6 498.42 L203.9 499.06 L204.2 499.57 L204.5 499.98 L204.8 500.31 L205.1 500.59 L205.4 500.81 L205.7 501 L206 501.14 L206.3 501.25 L206.6 501.34 L206.9 501.39 L207.2 501.43 L207.5 501.46 L207.8 501.47 L208.1 501.48 L208.4 501.48 L208.7 501.48 L209 501.48 L209.3 501.48 L209.6 501.49 L209.9 501.52 L210.2 501.56 L210.5 501.61 L210.8 501.68 L211.1 501.77 L211.4 501.87 L211.7 501.97 L212 502.09 L212.3 502.22 L212.6 502.35 L212.9 502.48 L213.2 502.62 L213.5 502.75 L213.8 502.89 L214.1 503.01 L214.4 503.14 L214.7 503.26 L215 503.37 L215.3 503.47 L215.6 503.56 L215.9 503.65 L216.2 503.73 L216.5 503.8 L216.8 503.86 L217.1 503.91 L217.4 503.96 L217.7 504 L218 504.03 L218.3 504.06 L218.6 504.09 L218.9 504.11 L219.2 504.13 L219.5 504.14 L219.8 504.16 L220.1 504.16 L220.4 504.17 L220.7 504.18 L221 504.18 L221.3 504.19 L221.6 504.19 L221.9 504.19 L222.2 504.19 L222.5 504.2 L222.8 504.2 L223.1 504.2 L223.4 504.2 L223.7 504.2 L224 504.2 L224.3 504.2 L224.5 504.2 Z" fill="#eebcc6" stroke="#c0405e" stroke-width="0.6" stroke-linejoin="round"/>
<rect x="187.5" y="467.5" width="38" height="37" fill="none" stroke="#0a0a0a" stroke-width="0.9"/>
<line x1="202" y1="486.5" x2="225.5" y2="486.5" stroke="#333" stroke-width="0.55"/>
<line x1="202" y1="485.6" x2="202" y2="487.4" stroke="#555" stroke-width="0.5"/>
<text x="210.5" y="482.05" font-size="4.9" text-anchor="middle" class="k">28.2</text>
<line x1="185.9" y1="504.05" x2="187.5" y2="504.05" stroke="#161314" stroke-width="0.5"/>
<text x="184.7" y="505.77" font-size="4.8" text-anchor="end" class="k">0</text>
<line x1="185.9" y1="496.9" x2="187.5" y2="496.9" stroke="#161314" stroke-width="0.5"/>
<text x="184.7" y="498.62" font-size="4.8" text-anchor="end" class="k">20</text>
<line x1="185.9" y1="489.75" x2="187.5" y2="489.75" stroke="#161314" stroke-width="0.5"/>
<text x="184.7" y="491.47" font-size="4.8" text-anchor="end" class="k">40</text>
<line x1="185.9" y1="482.6" x2="187.5" y2="482.6" stroke="#161314" stroke-width="0.5"/>
<text x="184.7" y="484.32" font-size="4.8" text-anchor="end" class="k">60</text>
<line x1="185.9" y1="475.45" x2="187.5" y2="475.45" stroke="#161314" stroke-width="0.5"/>
<text x="184.7" y="477.17" font-size="4.8" text-anchor="end" class="k">80</text>
<line x1="185.9" y1="468.3" x2="187.5" y2="468.3" stroke="#161314" stroke-width="0.5"/>
<text x="184.7" y="470.02" font-size="4.8" text-anchor="end" class="k">100</text>
<text x="191.9" y="512.16" font-size="5.2" text-anchor="middle" textLength="6.5" lengthAdjust="spacingAndGlyphs" class="k">-10<tspan font-size="3.4" dy="-1.7">3</tspan></text>
<text x="196.8" y="512.16" font-size="5.2" text-anchor="middle" textLength="2.4" lengthAdjust="spacingAndGlyphs" class="k">0</text>
<text x="204.3" y="512.16" font-size="5.2" text-anchor="middle" textLength="6.1" lengthAdjust="spacingAndGlyphs" class="k">10<tspan font-size="3.4" dy="-1.7">3</tspan></text>
<text x="213.9" y="512.16" font-size="5.2" text-anchor="middle" textLength="6.1" lengthAdjust="spacingAndGlyphs" class="k">10<tspan font-size="3.4" dy="-1.7">4</tspan></text>
<text x="221.8" y="512.16" font-size="5.2" text-anchor="middle" textLength="6.1" lengthAdjust="spacingAndGlyphs" class="k">10<tspan font-size="3.4" dy="-1.7">5</tspan></text>
<line x1="190.7" y1="504.5" x2="190.7" y2="506.1" stroke="#161314" stroke-width="0.45"/>
<line x1="195.9" y1="504.5" x2="195.9" y2="506.1" stroke="#161314" stroke-width="0.45"/>
<line x1="201.1" y1="504.5" x2="201.1" y2="506.1" stroke="#161314" stroke-width="0.45"/>
<line x1="210.7" y1="504.5" x2="210.7" y2="506.1" stroke="#161314" stroke-width="0.45"/>
<line x1="220.1" y1="504.5" x2="220.1" y2="506.1" stroke="#161314" stroke-width="0.45"/>
<line x1="192.1" y1="504.5" x2="192.1" y2="505.4" stroke="#161314" stroke-width="0.3"/>
<line x1="193.1" y1="504.5" x2="193.1" y2="505.4" stroke="#161314" stroke-width="0.3"/>
<line x1="193.8" y1="504.5" x2="193.8" y2="505.4" stroke="#161314" stroke-width="0.3"/>
<line x1="194.5" y1="504.5" x2="194.5" y2="505.4" stroke="#161314" stroke-width="0.3"/>
<line x1="197.3" y1="504.5" x2="197.3" y2="505.4" stroke="#161314" stroke-width="0.3"/>
<line x1="198.1" y1="504.5" x2="198.1" y2="505.4" stroke="#161314" stroke-width="0.3"/>
<line x1="198.9" y1="504.5" x2="198.9" y2="505.4" stroke="#161314" stroke-width="0.3"/>
<line x1="199.7" y1="504.5" x2="199.7" y2="505.4" stroke="#161314" stroke-width="0.3"/>
<line x1="204" y1="504.5" x2="204" y2="505.4" stroke="#161314" stroke-width="0.3"/>
<line x1="205.7" y1="504.5" x2="205.7" y2="505.4" stroke="#161314" stroke-width="0.3"/>
<line x1="206.9" y1="504.5" x2="206.9" y2="505.4" stroke="#161314" stroke-width="0.3"/>
<line x1="207.8" y1="504.5" x2="207.8" y2="505.4" stroke="#161314" stroke-width="0.3"/>
<line x1="208.6" y1="504.5" x2="208.6" y2="505.4" stroke="#161314" stroke-width="0.3"/>
<line x1="209.2" y1="504.5" x2="209.2" y2="505.4" stroke="#161314" stroke-width="0.3"/>
<line x1="209.8" y1="504.5" x2="209.8" y2="505.4" stroke="#161314" stroke-width="0.3"/>
<line x1="213.6" y1="504.5" x2="213.6" y2="505.4" stroke="#161314" stroke-width="0.3"/>
<line x1="215.3" y1="504.5" x2="215.3" y2="505.4" stroke="#161314" stroke-width="0.3"/>
<line x1="216.5" y1="504.5" x2="216.5" y2="505.4" stroke="#161314" stroke-width="0.3"/>
<line x1="217.4" y1="504.5" x2="217.4" y2="505.4" stroke="#161314" stroke-width="0.3"/>
<line x1="218.2" y1="504.5" x2="218.2" y2="505.4" stroke="#161314" stroke-width="0.3"/>
<line x1="218.8" y1="504.5" x2="218.8" y2="505.4" stroke="#161314" stroke-width="0.3"/>
<line x1="219.4" y1="504.5" x2="219.4" y2="505.4" stroke="#161314" stroke-width="0.3"/>
<line x1="222.9" y1="504.5" x2="222.9" y2="505.4" stroke="#161314" stroke-width="0.3"/>
<line x1="224.1" y1="504.5" x2="224.1" y2="505.4" stroke="#161314" stroke-width="0.3"/>
<rect x="194.8" y="504.3" width="1.6" height="1.1" fill="#111"/>
<path d="M27.5 557.2 L27.5 557.2 L27.8 557.2 L28.1 557.2 L28.4 557.2 L28.7 557.2 L29 557.2 L29.3 557.2 L29.6 557.2 L29.9 557.2 L30.2 557.2 L30.5 557.19 L30.8 557.1 L31.1 556.58 L31.4 554.45 L31.7 548.59 L32 538.4 L32.3 528.48 L32.6 525.98 L32.9 528.2 L33.2 532.77 L33.5 538.41 L33.8 543.88 L34.1 548.38 L34.4 551.48 L34.7 553.38 L35 554.47 L35.3 555.11 L35.6 555.52 L35.9 555.83 L36.2 556.09 L36.5 556.32 L36.8 556.52 L37.1 556.68 L37.4 556.82 L37.7 556.93 L38 557.01 L38.3 557.07 L38.6 557.12 L38.9 557.15 L39.2 557.17 L39.5 557.18 L39.8 557.19 L40.1 557.19 L40.4 557.2 L40.7 557.2 L41 557.2 L41.3 557.2 L41.6 557.2 L41.9 557.2 L42.2 557.2 L42.5 557.2 L42.8 557.2 L43.1 557.2 L43.4 557.2 L43.7 557.2 L44 557.2 L44.3 557.2 L44.6 557.2 L44.9 557.2 L45.2 557.2 L45.5 557.2 L45.8 557.2 L46.1 557.2 L46.4 557.2 L46.7 557.2 L47 557.2 L47.3 557.2 L47.6 557.2 L47.9 557.2 L48.2 557.2 L48.5 557.2 L48.8 557.2 L49.1 557.2 L49.4 557.2 L49.7 557.2 L50 557.2 L50.3 557.2 L50.6 557.2 L50.9 557.2 L51.2 557.2 L51.5 557.2 L51.8 557.2 L52.1 557.2 L52.4 557.2 L52.7 557.2 L53 557.2 L53.3 557.2 L53.6 557.2 L53.9 557.2 L54.2 557.2 L54.5 557.2 L54.8 557.2 L55.1 557.2 L55.4 557.2 L55.7 557.2 L56 557.2 L56.3 557.2 L56.6 557.2 L56.9 557.2 L57.2 557.2 L57.5 557.2 L57.8 557.2 L58.1 557.2 L58.4 557.2 L58.7 557.2 L59 557.2 L59.3 557.2 L59.5 557.2 Z" fill="#eebcc6" stroke="#c0405e" stroke-width="0.6" stroke-linejoin="round"/>
<rect x="22.5" y="520.5" width="38" height="37" fill="none" stroke="#0a0a0a" stroke-width="0.9"/>
<line x1="37" y1="539.5" x2="60.5" y2="539.5" stroke="#333" stroke-width="0.55"/>
<line x1="37" y1="538.6" x2="37" y2="540.4" stroke="#555" stroke-width="0.5"/>
<text x="45.5" y="535.05" font-size="4.9" text-anchor="middle" class="k">3.12</text>
<line x1="20.9" y1="557.55" x2="22.5" y2="557.55" stroke="#161314" stroke-width="0.5"/>
<text x="19.7" y="559.27" font-size="4.8" text-anchor="end" class="k">0</text>
<line x1="20.9" y1="550.4" x2="22.5" y2="550.4" stroke="#161314" stroke-width="0.5"/>
<text x="19.7" y="552.12" font-size="4.8" text-anchor="end" class="k">20</text>
<line x1="20.9" y1="543.25" x2="22.5" y2="543.25" stroke="#161314" stroke-width="0.5"/>
<text x="19.7" y="544.97" font-size="4.8" text-anchor="end" class="k">40</text>
<line x1="20.9" y1="536.1" x2="22.5" y2="536.1" stroke="#161314" stroke-width="0.5"/>
<text x="19.7" y="537.82" font-size="4.8" text-anchor="end" class="k">60</text>
<line x1="20.9" y1="528.95" x2="22.5" y2="528.95" stroke="#161314" stroke-width="0.5"/>
<text x="19.7" y="530.67" font-size="4.8" text-anchor="end" class="k">80</text>
<line x1="20.9" y1="521.8" x2="22.5" y2="521.8" stroke="#161314" stroke-width="0.5"/>
<text x="19.7" y="523.52" font-size="4.8" text-anchor="end" class="k">100</text>
<text x="26.9" y="565.16" font-size="5.2" text-anchor="middle" textLength="6.5" lengthAdjust="spacingAndGlyphs" class="k">-10<tspan font-size="3.4" dy="-1.7">3</tspan></text>
<text x="31.8" y="565.16" font-size="5.2" text-anchor="middle" textLength="2.4" lengthAdjust="spacingAndGlyphs" class="k">0</text>
<text x="39.3" y="565.16" font-size="5.2" text-anchor="middle" textLength="6.1" lengthAdjust="spacingAndGlyphs" class="k">10<tspan font-size="3.4" dy="-1.7">3</tspan></text>
<text x="48.9" y="565.16" font-size="5.2" text-anchor="middle" textLength="6.1" lengthAdjust="spacingAndGlyphs" class="k">10<tspan font-size="3.4" dy="-1.7">4</tspan></text>
<text x="56.8" y="565.16" font-size="5.2" text-anchor="middle" textLength="6.1" lengthAdjust="spacingAndGlyphs" class="k">10<tspan font-size="3.4" dy="-1.7">5</tspan></text>
<line x1="25.7" y1="557.5" x2="25.7" y2="559.1" stroke="#161314" stroke-width="0.45"/>
<line x1="30.9" y1="557.5" x2="30.9" y2="559.1" stroke="#161314" stroke-width="0.45"/>
<line x1="36.1" y1="557.5" x2="36.1" y2="559.1" stroke="#161314" stroke-width="0.45"/>
<line x1="45.7" y1="557.5" x2="45.7" y2="559.1" stroke="#161314" stroke-width="0.45"/>
<line x1="55.1" y1="557.5" x2="55.1" y2="559.1" stroke="#161314" stroke-width="0.45"/>
<line x1="27.1" y1="557.5" x2="27.1" y2="558.4" stroke="#161314" stroke-width="0.3"/>
<line x1="28.1" y1="557.5" x2="28.1" y2="558.4" stroke="#161314" stroke-width="0.3"/>
<line x1="28.8" y1="557.5" x2="28.8" y2="558.4" stroke="#161314" stroke-width="0.3"/>
<line x1="29.5" y1="557.5" x2="29.5" y2="558.4" stroke="#161314" stroke-width="0.3"/>
<line x1="32.3" y1="557.5" x2="32.3" y2="558.4" stroke="#161314" stroke-width="0.3"/>
<line x1="33.1" y1="557.5" x2="33.1" y2="558.4" stroke="#161314" stroke-width="0.3"/>
<line x1="33.9" y1="557.5" x2="33.9" y2="558.4" stroke="#161314" stroke-width="0.3"/>
<line x1="34.7" y1="557.5" x2="34.7" y2="558.4" stroke="#161314" stroke-width="0.3"/>
<line x1="39" y1="557.5" x2="39" y2="558.4" stroke="#161314" stroke-width="0.3"/>
<line x1="40.7" y1="557.5" x2="40.7" y2="558.4" stroke="#161314" stroke-width="0.3"/>
<line x1="41.9" y1="557.5" x2="41.9" y2="558.4" stroke="#161314" stroke-width="0.3"/>
<line x1="42.8" y1="557.5" x2="42.8" y2="558.4" stroke="#161314" stroke-width="0.3"/>
<line x1="43.6" y1="557.5" x2="43.6" y2="558.4" stroke="#161314" stroke-width="0.3"/>
<line x1="44.2" y1="557.5" x2="44.2" y2="558.4" stroke="#161314" stroke-width="0.3"/>
<line x1="44.8" y1="557.5" x2="44.8" y2="558.4" stroke="#161314" stroke-width="0.3"/>
<line x1="48.6" y1="557.5" x2="48.6" y2="558.4" stroke="#161314" stroke-width="0.3"/>
<line x1="50.3" y1="557.5" x2="50.3" y2="558.4" stroke="#161314" stroke-width="0.3"/>
<line x1="51.5" y1="557.5" x2="51.5" y2="558.4" stroke="#161314" stroke-width="0.3"/>
<line x1="52.4" y1="557.5" x2="52.4" y2="558.4" stroke="#161314" stroke-width="0.3"/>
<line x1="53.2" y1="557.5" x2="53.2" y2="558.4" stroke="#161314" stroke-width="0.3"/>
<line x1="53.8" y1="557.5" x2="53.8" y2="558.4" stroke="#161314" stroke-width="0.3"/>
<line x1="54.4" y1="557.5" x2="54.4" y2="558.4" stroke="#161314" stroke-width="0.3"/>
<line x1="57.9" y1="557.5" x2="57.9" y2="558.4" stroke="#161314" stroke-width="0.3"/>
<line x1="59.1" y1="557.5" x2="59.1" y2="558.4" stroke="#161314" stroke-width="0.3"/>
<rect x="29.8" y="557.3" width="1.6" height="1.1" fill="#111"/>
<path d="M82.5 557.2 L82.5 557.2 L82.8 557.2 L83.1 557.2 L83.4 557.19 L83.7 557.19 L84 557.18 L84.3 557.16 L84.6 557.13 L84.9 557.06 L85.2 556.94 L85.5 556.69 L85.8 556.25 L86.1 555.49 L86.4 554.24 L86.7 552.34 L87 549.71 L87.3 546.36 L87.6 542.52 L87.9 538.59 L88.2 535.14 L88.5 532.71 L88.8 531.63 L89.1 531.49 L89.4 532.1 L89.7 533.35 L90 535.04 L90.3 537.01 L90.6 539.08 L90.9 541.1 L91.2 542.96 L91.5 544.53 L91.8 545.8 L92.1 546.79 L92.4 547.55 L92.7 548.1 L93 548.5 L93.3 548.75 L93.6 548.88 L93.9 548.89 L94.2 548.78 L94.5 548.56 L94.8 548.23 L95.1 547.8 L95.4 547.3 L95.7 546.74 L96 546.17 L96.3 545.61 L96.6 545.12 L96.9 544.71 L97.2 544.43 L97.5 544.31 L97.8 544.34 L98.1 544.49 L98.4 544.75 L98.7 545.11 L99 545.55 L99.3 546.07 L99.6 546.65 L99.9 547.29 L100.2 547.95 L100.5 548.64 L100.8 549.34 L101.1 550.05 L101.4 550.75 L101.7 551.43 L102 552.08 L102.3 552.69 L102.6 553.25 L102.9 553.77 L103.2 554.24 L103.5 554.66 L103.8 555.04 L104.1 555.38 L104.4 555.68 L104.7 555.94 L105 556.17 L105.3 556.36 L105.6 556.52 L105.9 556.66 L106.2 556.78 L106.5 556.87 L106.8 556.95 L107.1 557.01 L107.4 557.06 L107.7 557.09 L108 557.12 L108.3 557.14 L108.6 557.16 L108.9 557.17 L109.2 557.18 L109.5 557.19 L109.8 557.19 L110.1 557.19 L110.4 557.2 L110.7 557.2 L111 557.2 L111.3 557.2 L111.6 557.2 L111.9 557.2 L112.2 557.2 L112.5 557.2 L112.8 557.2 L113.1 557.2 L113.4 557.2 L113.7 557.2 L114 557.2 L114.3 557.2 L114.5 557.2 Z" fill="#eebcc6" stroke="#c0405e" stroke-width="0.6" stroke-linejoin="round"/>
<rect x="77.5" y="520.5" width="38" height="37" fill="none" stroke="#0a0a0a" stroke-width="0.9"/>
<line x1="92" y1="539.5" x2="115.5" y2="539.5" stroke="#333" stroke-width="0.55"/>
<line x1="92" y1="538.6" x2="92" y2="540.4" stroke="#555" stroke-width="0.5"/>
<text x="100" y="535.05" font-size="4.9" text-anchor="middle" class="k">50.7</text>
<line x1="75.9" y1="557.55" x2="77.5" y2="557.55" stroke="#161314" stroke-width="0.5"/>
<text x="74.7" y="559.27" font-size="4.8" text-anchor="end" class="k">0</text>
<line x1="75.9" y1="550.4" x2="77.5" y2="550.4" stroke="#161314" stroke-width="0.5"/>
<text x="74.7" y="552.12" font-size="4.8" text-anchor="end" class="k">20</text>
<line x1="75.9" y1="543.25" x2="77.5" y2="543.25" stroke="#161314" stroke-width="0.5"/>
<text x="74.7" y="544.97" font-size="4.8" text-anchor="end" class="k">40</text>
<line x1="75.9" y1="536.1" x2="77.5" y2="536.1" stroke="#161314" stroke-width="0.5"/>
<text x="74.7" y="537.82" font-size="4.8" text-anchor="end" class="k">60</text>
<line x1="75.9" y1="528.95" x2="77.5" y2="528.95" stroke="#161314" stroke-width="0.5"/>
<text x="74.7" y="530.67" font-size="4.8" text-anchor="end" class="k">80</text>
<line x1="75.9" y1="521.8" x2="77.5" y2="521.8" stroke="#161314" stroke-width="0.5"/>
<text x="74.7" y="523.52" font-size="4.8" text-anchor="end" class="k">100</text>
<text x="81.9" y="565.16" font-size="5.2" text-anchor="middle" textLength="6.5" lengthAdjust="spacingAndGlyphs" class="k">-10<tspan font-size="3.4" dy="-1.7">3</tspan></text>
<text x="86.8" y="565.16" font-size="5.2" text-anchor="middle" textLength="2.4" lengthAdjust="spacingAndGlyphs" class="k">0</text>
<text x="94.3" y="565.16" font-size="5.2" text-anchor="middle" textLength="6.1" lengthAdjust="spacingAndGlyphs" class="k">10<tspan font-size="3.4" dy="-1.7">3</tspan></text>
<text x="103.9" y="565.16" font-size="5.2" text-anchor="middle" textLength="6.1" lengthAdjust="spacingAndGlyphs" class="k">10<tspan font-size="3.4" dy="-1.7">4</tspan></text>
<text x="111.8" y="565.16" font-size="5.2" text-anchor="middle" textLength="6.1" lengthAdjust="spacingAndGlyphs" class="k">10<tspan font-size="3.4" dy="-1.7">5</tspan></text>
<line x1="80.7" y1="557.5" x2="80.7" y2="559.1" stroke="#161314" stroke-width="0.45"/>
<line x1="85.9" y1="557.5" x2="85.9" y2="559.1" stroke="#161314" stroke-width="0.45"/>
<line x1="91.1" y1="557.5" x2="91.1" y2="559.1" stroke="#161314" stroke-width="0.45"/>
<line x1="100.7" y1="557.5" x2="100.7" y2="559.1" stroke="#161314" stroke-width="0.45"/>
<line x1="110.1" y1="557.5" x2="110.1" y2="559.1" stroke="#161314" stroke-width="0.45"/>
<line x1="82.1" y1="557.5" x2="82.1" y2="558.4" stroke="#161314" stroke-width="0.3"/>
<line x1="83.1" y1="557.5" x2="83.1" y2="558.4" stroke="#161314" stroke-width="0.3"/>
<line x1="83.8" y1="557.5" x2="83.8" y2="558.4" stroke="#161314" stroke-width="0.3"/>
<line x1="84.5" y1="557.5" x2="84.5" y2="558.4" stroke="#161314" stroke-width="0.3"/>
<line x1="87.3" y1="557.5" x2="87.3" y2="558.4" stroke="#161314" stroke-width="0.3"/>
<line x1="88.1" y1="557.5" x2="88.1" y2="558.4" stroke="#161314" stroke-width="0.3"/>
<line x1="88.9" y1="557.5" x2="88.9" y2="558.4" stroke="#161314" stroke-width="0.3"/>
<line x1="89.7" y1="557.5" x2="89.7" y2="558.4" stroke="#161314" stroke-width="0.3"/>
<line x1="94" y1="557.5" x2="94" y2="558.4" stroke="#161314" stroke-width="0.3"/>
<line x1="95.7" y1="557.5" x2="95.7" y2="558.4" stroke="#161314" stroke-width="0.3"/>
<line x1="96.9" y1="557.5" x2="96.9" y2="558.4" stroke="#161314" stroke-width="0.3"/>
<line x1="97.8" y1="557.5" x2="97.8" y2="558.4" stroke="#161314" stroke-width="0.3"/>
<line x1="98.6" y1="557.5" x2="98.6" y2="558.4" stroke="#161314" stroke-width="0.3"/>
<line x1="99.2" y1="557.5" x2="99.2" y2="558.4" stroke="#161314" stroke-width="0.3"/>
<line x1="99.8" y1="557.5" x2="99.8" y2="558.4" stroke="#161314" stroke-width="0.3"/>
<line x1="103.6" y1="557.5" x2="103.6" y2="558.4" stroke="#161314" stroke-width="0.3"/>
<line x1="105.3" y1="557.5" x2="105.3" y2="558.4" stroke="#161314" stroke-width="0.3"/>
<line x1="106.5" y1="557.5" x2="106.5" y2="558.4" stroke="#161314" stroke-width="0.3"/>
<line x1="107.4" y1="557.5" x2="107.4" y2="558.4" stroke="#161314" stroke-width="0.3"/>
<line x1="108.2" y1="557.5" x2="108.2" y2="558.4" stroke="#161314" stroke-width="0.3"/>
<line x1="108.8" y1="557.5" x2="108.8" y2="558.4" stroke="#161314" stroke-width="0.3"/>
<line x1="109.4" y1="557.5" x2="109.4" y2="558.4" stroke="#161314" stroke-width="0.3"/>
<line x1="112.9" y1="557.5" x2="112.9" y2="558.4" stroke="#161314" stroke-width="0.3"/>
<line x1="114.1" y1="557.5" x2="114.1" y2="558.4" stroke="#161314" stroke-width="0.3"/>
<rect x="84.8" y="557.3" width="1.6" height="1.1" fill="#111"/>
<path d="M137.5 557.2 L137.5 557.2 L137.8 557.2 L138.1 557.2 L138.4 557.2 L138.7 557.2 L139 557.2 L139.3 557.2 L139.6 557.2 L139.9 557.2 L140.2 557.2 L140.5 557.2 L140.8 557.19 L141.1 557.11 L141.4 556.72 L141.7 555.21 L142 551.03 L142.3 542.92 L142.6 532.52 L142.9 525.36 L143.2 524.98 L143.5 527.49 L143.8 531.84 L144.1 537.05 L144.4 542.19 L144.7 546.58 L145 549.82 L145.3 552 L145.6 553.36 L145.9 554.21 L146.2 554.77 L146.5 555.18 L146.8 555.52 L147.1 555.81 L147.4 556.07 L147.7 556.3 L148 556.5 L148.3 556.67 L148.6 556.81 L148.9 556.91 L149.2 557 L149.5 557.06 L149.8 557.1 L150.1 557.14 L150.4 557.16 L150.7 557.17 L151 557.18 L151.3 557.19 L151.6 557.19 L151.9 557.2 L152.2 557.2 L152.5 557.2 L152.8 557.2 L153.1 557.2 L153.4 557.2 L153.7 557.2 L154 557.2 L154.3 557.2 L154.6 557.2 L154.9 557.2 L155.2 557.2 L155.5 557.2 L155.8 557.2 L156.1 557.2 L156.4 557.2 L156.7 557.2 L157 557.2 L157.3 557.2 L157.6 557.2 L157.9 557.2 L158.2 557.2 L158.5 557.2 L158.8 557.2 L159.1 557.2 L159.4 557.2 L159.7 557.2 L160 557.2 L160.3 557.2 L160.6 557.2 L160.9 557.2 L161.2 557.2 L161.5 557.2 L161.8 557.2 L162.1 557.2 L162.4 557.2 L162.7 557.2 L163 557.2 L163.3 557.2 L163.6 557.2 L163.9 557.2 L164.2 557.2 L164.5 557.2 L164.8 557.2 L165.1 557.2 L165.4 557.2 L165.7 557.2 L166 557.2 L166.3 557.2 L166.6 557.2 L166.9 557.2 L167.2 557.2 L167.5 557.2 L167.8 557.2 L168.1 557.2 L168.4 557.2 L168.7 557.2 L169 557.2 L169.3 557.2 L169.5 557.2 Z" fill="#eebcc6" stroke="#c0405e" stroke-width="0.6" stroke-linejoin="round"/>
<rect x="132.5" y="520.5" width="38" height="37" fill="none" stroke="#0a0a0a" stroke-width="0.9"/>
<line x1="147" y1="539.5" x2="170.5" y2="539.5" stroke="#333" stroke-width="0.55"/>
<line x1="147" y1="538.6" x2="147" y2="540.4" stroke="#555" stroke-width="0.5"/>
<text x="155.7" y="535.05" font-size="4.9" text-anchor="middle" class="k">5.60</text>
<line x1="130.9" y1="557.55" x2="132.5" y2="557.55" stroke="#161314" stroke-width="0.5"/>
<text x="129.7" y="559.27" font-size="4.8" text-anchor="end" class="k">0</text>
<line x1="130.9" y1="550.4" x2="132.5" y2="550.4" stroke="#161314" stroke-width="0.5"/>
<text x="129.7" y="552.12" font-size="4.8" text-anchor="end" class="k">20</text>
<line x1="130.9" y1="543.25" x2="132.5" y2="543.25" stroke="#161314" stroke-width="0.5"/>
<text x="129.7" y="544.97" font-size="4.8" text-anchor="end" class="k">40</text>
<line x1="130.9" y1="536.1" x2="132.5" y2="536.1" stroke="#161314" stroke-width="0.5"/>
<text x="129.7" y="537.82" font-size="4.8" text-anchor="end" class="k">60</text>
<line x1="130.9" y1="528.95" x2="132.5" y2="528.95" stroke="#161314" stroke-width="0.5"/>
<text x="129.7" y="530.67" font-size="4.8" text-anchor="end" class="k">80</text>
<line x1="130.9" y1="521.8" x2="132.5" y2="521.8" stroke="#161314" stroke-width="0.5"/>
<text x="129.7" y="523.52" font-size="4.8" text-anchor="end" class="k">100</text>
<text x="136.9" y="565.16" font-size="5.2" text-anchor="middle" textLength="6.5" lengthAdjust="spacingAndGlyphs" class="k">-10<tspan font-size="3.4" dy="-1.7">3</tspan></text>
<text x="141.8" y="565.16" font-size="5.2" text-anchor="middle" textLength="2.4" lengthAdjust="spacingAndGlyphs" class="k">0</text>
<text x="149.3" y="565.16" font-size="5.2" text-anchor="middle" textLength="6.1" lengthAdjust="spacingAndGlyphs" class="k">10<tspan font-size="3.4" dy="-1.7">3</tspan></text>
<text x="158.9" y="565.16" font-size="5.2" text-anchor="middle" textLength="6.1" lengthAdjust="spacingAndGlyphs" class="k">10<tspan font-size="3.4" dy="-1.7">4</tspan></text>
<text x="166.8" y="565.16" font-size="5.2" text-anchor="middle" textLength="6.1" lengthAdjust="spacingAndGlyphs" class="k">10<tspan font-size="3.4" dy="-1.7">5</tspan></text>
<line x1="135.7" y1="557.5" x2="135.7" y2="559.1" stroke="#161314" stroke-width="0.45"/>
<line x1="140.9" y1="557.5" x2="140.9" y2="559.1" stroke="#161314" stroke-width="0.45"/>
<line x1="146.1" y1="557.5" x2="146.1" y2="559.1" stroke="#161314" stroke-width="0.45"/>
<line x1="155.7" y1="557.5" x2="155.7" y2="559.1" stroke="#161314" stroke-width="0.45"/>
<line x1="165.1" y1="557.5" x2="165.1" y2="559.1" stroke="#161314" stroke-width="0.45"/>
<line x1="137.1" y1="557.5" x2="137.1" y2="558.4" stroke="#161314" stroke-width="0.3"/>
<line x1="138.1" y1="557.5" x2="138.1" y2="558.4" stroke="#161314" stroke-width="0.3"/>
<line x1="138.8" y1="557.5" x2="138.8" y2="558.4" stroke="#161314" stroke-width="0.3"/>
<line x1="139.5" y1="557.5" x2="139.5" y2="558.4" stroke="#161314" stroke-width="0.3"/>
<line x1="142.3" y1="557.5" x2="142.3" y2="558.4" stroke="#161314" stroke-width="0.3"/>
<line x1="143.1" y1="557.5" x2="143.1" y2="558.4" stroke="#161314" stroke-width="0.3"/>
<line x1="143.9" y1="557.5" x2="143.9" y2="558.4" stroke="#161314" stroke-width="0.3"/>
<line x1="144.7" y1="557.5" x2="144.7" y2="558.4" stroke="#161314" stroke-width="0.3"/>
<line x1="149" y1="557.5" x2="149" y2="558.4" stroke="#161314" stroke-width="0.3"/>
<line x1="150.7" y1="557.5" x2="150.7" y2="558.4" stroke="#161314" stroke-width="0.3"/>
<line x1="151.9" y1="557.5" x2="151.9" y2="558.4" stroke="#161314" stroke-width="0.3"/>
<line x1="152.8" y1="557.5" x2="152.8" y2="558.4" stroke="#161314" stroke-width="0.3"/>
<line x1="153.6" y1="557.5" x2="153.6" y2="558.4" stroke="#161314" stroke-width="0.3"/>
<line x1="154.2" y1="557.5" x2="154.2" y2="558.4" stroke="#161314" stroke-width="0.3"/>
<line x1="154.8" y1="557.5" x2="154.8" y2="558.4" stroke="#161314" stroke-width="0.3"/>
<line x1="158.6" y1="557.5" x2="158.6" y2="558.4" stroke="#161314" stroke-width="0.3"/>
<line x1="160.3" y1="557.5" x2="160.3" y2="558.4" stroke="#161314" stroke-width="0.3"/>
<line x1="161.5" y1="557.5" x2="161.5" y2="558.4" stroke="#161314" stroke-width="0.3"/>
<line x1="162.4" y1="557.5" x2="162.4" y2="558.4" stroke="#161314" stroke-width="0.3"/>
<line x1="163.2" y1="557.5" x2="163.2" y2="558.4" stroke="#161314" stroke-width="0.3"/>
<line x1="163.8" y1="557.5" x2="163.8" y2="558.4" stroke="#161314" stroke-width="0.3"/>
<line x1="164.4" y1="557.5" x2="164.4" y2="558.4" stroke="#161314" stroke-width="0.3"/>
<line x1="167.9" y1="557.5" x2="167.9" y2="558.4" stroke="#161314" stroke-width="0.3"/>
<line x1="169.1" y1="557.5" x2="169.1" y2="558.4" stroke="#161314" stroke-width="0.3"/>
<rect x="139.8" y="557.3" width="1.6" height="1.1" fill="#111"/>
<path d="M192.5 557.2 L192.5 557.18 L192.8 557.18 L193.1 557.18 L193.4 557.17 L193.7 557.17 L194 557.16 L194.3 557.16 L194.6 557.15 L194.9 557.14 L195.2 557.12 L195.5 557.11 L195.8 557.08 L196.1 557.03 L196.4 556.94 L196.7 556.75 L197 556.34 L197.3 555.51 L197.6 553.98 L197.9 551.42 L198.2 547.66 L198.5 542.84 L198.8 537.62 L199.1 533.02 L199.4 530.13 L199.7 529.26 L200 529.35 L200.3 530.28 L200.6 531.9 L200.9 534.04 L201.2 536.5 L201.5 539.06 L201.8 541.45 L202.1 543.55 L202.4 545.33 L202.7 546.8 L203 548 L203.3 548.98 L203.6 549.79 L203.9 550.47 L204.2 551.05 L204.5 551.55 L204.8 551.99 L205.1 552.38 L205.4 552.71 L205.7 553 L206 553.23 L206.3 553.42 L206.6 553.57 L206.9 553.69 L207.2 553.76 L207.5 553.82 L207.8 553.84 L208.1 553.85 L208.4 553.85 L208.7 553.84 L209 553.83 L209.3 553.81 L209.6 553.8 L209.9 553.79 L210.2 553.79 L210.5 553.79 L210.8 553.81 L211.1 553.86 L211.4 553.93 L211.7 554.03 L212 554.16 L212.3 554.3 L212.6 554.46 L212.9 554.64 L213.2 554.82 L213.5 555.01 L213.8 555.2 L214.1 555.4 L214.4 555.58 L214.7 555.76 L215 555.94 L215.3 556.1 L215.6 556.25 L215.9 556.38 L216.2 556.5 L216.5 556.61 L216.8 556.71 L217.1 556.8 L217.4 556.87 L217.7 556.93 L218 556.98 L218.3 557.03 L218.6 557.06 L218.9 557.09 L219.2 557.12 L219.5 557.13 L219.8 557.15 L220.1 557.16 L220.4 557.17 L220.7 557.18 L221 557.18 L221.3 557.19 L221.6 557.19 L221.9 557.19 L222.2 557.2 L222.5 557.2 L222.8 557.2 L223.1 557.2 L223.4 557.2 L223.7 557.2 L224 557.2 L224.3 557.2 L224.5 557.2 Z" fill="#eebcc6" stroke="#c0405e" stroke-width="0.6" stroke-linejoin="round"/>
<rect x="187.5" y="520.5" width="38" height="37" fill="none" stroke="#0a0a0a" stroke-width="0.9"/>
<line x1="202" y1="539.5" x2="225.5" y2="539.5" stroke="#333" stroke-width="0.55"/>
<line x1="202" y1="538.6" x2="202" y2="540.4" stroke="#555" stroke-width="0.5"/>
<text x="210.5" y="535.05" font-size="4.9" text-anchor="middle" class="k">35.1</text>
<line x1="185.9" y1="557.55" x2="187.5" y2="557.55" stroke="#161314" stroke-width="0.5"/>
<text x="184.7" y="559.27" font-size="4.8" text-anchor="end" class="k">0</text>
<line x1="185.9" y1="550.4" x2="187.5" y2="550.4" stroke="#161314" stroke-width="0.5"/>
<text x="184.7" y="552.12" font-size="4.8" text-anchor="end" class="k">20</text>
<line x1="185.9" y1="543.25" x2="187.5" y2="543.25" stroke="#161314" stroke-width="0.5"/>
<text x="184.7" y="544.97" font-size="4.8" text-anchor="end" class="k">40</text>
<line x1="185.9" y1="536.1" x2="187.5" y2="536.1" stroke="#161314" stroke-width="0.5"/>
<text x="184.7" y="537.82" font-size="4.8" text-anchor="end" class="k">60</text>
<line x1="185.9" y1="528.95" x2="187.5" y2="528.95" stroke="#161314" stroke-width="0.5"/>
<text x="184.7" y="530.67" font-size="4.8" text-anchor="end" class="k">80</text>
<line x1="185.9" y1="521.8" x2="187.5" y2="521.8" stroke="#161314" stroke-width="0.5"/>
<text x="184.7" y="523.52" font-size="4.8" text-anchor="end" class="k">100</text>
<text x="191.9" y="565.16" font-size="5.2" text-anchor="middle" textLength="6.5" lengthAdjust="spacingAndGlyphs" class="k">-10<tspan font-size="3.4" dy="-1.7">3</tspan></text>
<text x="196.8" y="565.16" font-size="5.2" text-anchor="middle" textLength="2.4" lengthAdjust="spacingAndGlyphs" class="k">0</text>
<text x="204.3" y="565.16" font-size="5.2" text-anchor="middle" textLength="6.1" lengthAdjust="spacingAndGlyphs" class="k">10<tspan font-size="3.4" dy="-1.7">3</tspan></text>
<text x="213.9" y="565.16" font-size="5.2" text-anchor="middle" textLength="6.1" lengthAdjust="spacingAndGlyphs" class="k">10<tspan font-size="3.4" dy="-1.7">4</tspan></text>
<text x="221.8" y="565.16" font-size="5.2" text-anchor="middle" textLength="6.1" lengthAdjust="spacingAndGlyphs" class="k">10<tspan font-size="3.4" dy="-1.7">5</tspan></text>
<line x1="190.7" y1="557.5" x2="190.7" y2="559.1" stroke="#161314" stroke-width="0.45"/>
<line x1="195.9" y1="557.5" x2="195.9" y2="559.1" stroke="#161314" stroke-width="0.45"/>
<line x1="201.1" y1="557.5" x2="201.1" y2="559.1" stroke="#161314" stroke-width="0.45"/>
<line x1="210.7" y1="557.5" x2="210.7" y2="559.1" stroke="#161314" stroke-width="0.45"/>
<line x1="220.1" y1="557.5" x2="220.1" y2="559.1" stroke="#161314" stroke-width="0.45"/>
<line x1="192.1" y1="557.5" x2="192.1" y2="558.4" stroke="#161314" stroke-width="0.3"/>
<line x1="193.1" y1="557.5" x2="193.1" y2="558.4" stroke="#161314" stroke-width="0.3"/>
<line x1="193.8" y1="557.5" x2="193.8" y2="558.4" stroke="#161314" stroke-width="0.3"/>
<line x1="194.5" y1="557.5" x2="194.5" y2="558.4" stroke="#161314" stroke-width="0.3"/>
<line x1="197.3" y1="557.5" x2="197.3" y2="558.4" stroke="#161314" stroke-width="0.3"/>
<line x1="198.1" y1="557.5" x2="198.1" y2="558.4" stroke="#161314" stroke-width="0.3"/>
<line x1="198.9" y1="557.5" x2="198.9" y2="558.4" stroke="#161314" stroke-width="0.3"/>
<line x1="199.7" y1="557.5" x2="199.7" y2="558.4" stroke="#161314" stroke-width="0.3"/>
<line x1="204" y1="557.5" x2="204" y2="558.4" stroke="#161314" stroke-width="0.3"/>
<line x1="205.7" y1="557.5" x2="205.7" y2="558.4" stroke="#161314" stroke-width="0.3"/>
<line x1="206.9" y1="557.5" x2="206.9" y2="558.4" stroke="#161314" stroke-width="0.3"/>
<line x1="207.8" y1="557.5" x2="207.8" y2="558.4" stroke="#161314" stroke-width="0.3"/>
<line x1="208.6" y1="557.5" x2="208.6" y2="558.4" stroke="#161314" stroke-width="0.3"/>
<line x1="209.2" y1="557.5" x2="209.2" y2="558.4" stroke="#161314" stroke-width="0.3"/>
<line x1="209.8" y1="557.5" x2="209.8" y2="558.4" stroke="#161314" stroke-width="0.3"/>
<line x1="213.6" y1="557.5" x2="213.6" y2="558.4" stroke="#161314" stroke-width="0.3"/>
<line x1="215.3" y1="557.5" x2="215.3" y2="558.4" stroke="#161314" stroke-width="0.3"/>
<line x1="216.5" y1="557.5" x2="216.5" y2="558.4" stroke="#161314" stroke-width="0.3"/>
<line x1="217.4" y1="557.5" x2="217.4" y2="558.4" stroke="#161314" stroke-width="0.3"/>
<line x1="218.2" y1="557.5" x2="218.2" y2="558.4" stroke="#161314" stroke-width="0.3"/>
<line x1="218.8" y1="557.5" x2="218.8" y2="558.4" stroke="#161314" stroke-width="0.3"/>
<line x1="219.4" y1="557.5" x2="219.4" y2="558.4" stroke="#161314" stroke-width="0.3"/>
<line x1="222.9" y1="557.5" x2="222.9" y2="558.4" stroke="#161314" stroke-width="0.3"/>
<line x1="224.1" y1="557.5" x2="224.1" y2="558.4" stroke="#161314" stroke-width="0.3"/>
<rect x="194.8" y="557.3" width="1.6" height="1.1" fill="#111"/>
<path d="M27.5 610.2 L27.5 610.2 L27.8 610.2 L28.1 610.2 L28.4 610.2 L28.7 610.2 L29 610.2 L29.3 610.2 L29.6 610.2 L29.9 610.2 L30.2 610.19 L30.5 610.16 L30.8 609.79 L31.1 607.48 L31.4 599.34 L31.7 585.02 L32 576.53 L32.3 578.38 L32.6 584.13 L32.9 591.47 L33.2 598.17 L33.5 602.89 L33.8 605.65 L34.1 607.09 L34.4 607.85 L34.7 608.33 L35 608.71 L35.3 609.03 L35.6 609.31 L35.9 609.55 L36.2 609.74 L36.5 609.89 L36.8 609.99 L37.1 610.07 L37.4 610.12 L37.7 610.15 L38 610.17 L38.3 610.18 L38.6 610.19 L38.9 610.2 L39.2 610.2 L39.5 610.2 L39.8 610.2 L40.1 610.2 L40.4 610.2 L40.7 610.2 L41 610.2 L41.3 610.2 L41.6 610.2 L41.9 610.2 L42.2 610.2 L42.5 610.2 L42.8 610.2 L43.1 610.2 L43.4 610.2 L43.7 610.2 L44 610.2 L44.3 610.2 L44.6 610.2 L44.9 610.2 L45.2 610.2 L45.5 610.2 L45.8 610.2 L46.1 610.2 L46.4 610.2 L46.7 610.2 L47 610.2 L47.3 610.2 L47.6 610.2 L47.9 610.2 L48.2 610.2 L48.5 610.2 L48.8 610.2 L49.1 610.2 L49.4 610.2 L49.7 610.2 L50 610.2 L50.3 610.2 L50.6 610.2 L50.9 610.2 L51.2 610.2 L51.5 610.2 L51.8 610.2 L52.1 610.2 L52.4 610.2 L52.7 610.2 L53 610.2 L53.3 610.2 L53.6 610.2 L53.9 610.2 L54.2 610.2 L54.5 610.2 L54.8 610.2 L55.1 610.2 L55.4 610.2 L55.7 610.2 L56 610.2 L56.3 610.2 L56.6 610.2 L56.9 610.2 L57.2 610.2 L57.5 610.2 L57.8 610.2 L58.1 610.2 L58.4 610.2 L58.7 610.2 L59 610.2 L59.3 610.2 L59.5 610.2 Z" fill="#eebcc6" stroke="#c0405e" stroke-width="0.6" stroke-linejoin="round"/>
<rect x="22.5" y="573.5" width="38" height="37" fill="none" stroke="#0a0a0a" stroke-width="0.9"/>
<line x1="37" y1="597.5" x2="60.5" y2="597.5" stroke="#333" stroke-width="0.55"/>
<line x1="37" y1="596.6" x2="37" y2="598.4" stroke="#555" stroke-width="0.5"/>
<text x="48" y="587.25" font-size="4.9" text-anchor="middle" class="k">4.87</text>
<line x1="20.9" y1="610.3" x2="22.5" y2="610.3" stroke="#161314" stroke-width="0.5"/>
<text x="19.7" y="612.02" font-size="4.8" text-anchor="end" class="k">0</text>
<line x1="20.9" y1="602.3" x2="22.5" y2="602.3" stroke="#161314" stroke-width="0.5"/>
<text x="19.7" y="604.02" font-size="4.8" text-anchor="end" class="k">100</text>
<line x1="20.9" y1="594.3" x2="22.5" y2="594.3" stroke="#161314" stroke-width="0.5"/>
<text x="19.7" y="596.02" font-size="4.8" text-anchor="end" class="k">200</text>
<line x1="20.9" y1="586.3" x2="22.5" y2="586.3" stroke="#161314" stroke-width="0.5"/>
<text x="19.7" y="588.02" font-size="4.8" text-anchor="end" class="k">300</text>
<line x1="20.9" y1="578.3" x2="22.5" y2="578.3" stroke="#161314" stroke-width="0.5"/>
<text x="19.7" y="580.02" font-size="4.8" text-anchor="end" class="k">400</text>
<text x="26.9" y="618.16" font-size="5.2" text-anchor="middle" textLength="6.5" lengthAdjust="spacingAndGlyphs" class="k">-10<tspan font-size="3.4" dy="-1.7">3</tspan></text>
<text x="31.8" y="618.16" font-size="5.2" text-anchor="middle" textLength="2.4" lengthAdjust="spacingAndGlyphs" class="k">0</text>
<text x="39.3" y="618.16" font-size="5.2" text-anchor="middle" textLength="6.1" lengthAdjust="spacingAndGlyphs" class="k">10<tspan font-size="3.4" dy="-1.7">3</tspan></text>
<text x="48.9" y="618.16" font-size="5.2" text-anchor="middle" textLength="6.1" lengthAdjust="spacingAndGlyphs" class="k">10<tspan font-size="3.4" dy="-1.7">4</tspan></text>
<text x="56.8" y="618.16" font-size="5.2" text-anchor="middle" textLength="6.1" lengthAdjust="spacingAndGlyphs" class="k">10<tspan font-size="3.4" dy="-1.7">5</tspan></text>
<line x1="25.7" y1="610.5" x2="25.7" y2="612.1" stroke="#161314" stroke-width="0.45"/>
<line x1="30.9" y1="610.5" x2="30.9" y2="612.1" stroke="#161314" stroke-width="0.45"/>
<line x1="36.1" y1="610.5" x2="36.1" y2="612.1" stroke="#161314" stroke-width="0.45"/>
<line x1="45.7" y1="610.5" x2="45.7" y2="612.1" stroke="#161314" stroke-width="0.45"/>
<line x1="55.1" y1="610.5" x2="55.1" y2="612.1" stroke="#161314" stroke-width="0.45"/>
<line x1="27.1" y1="610.5" x2="27.1" y2="611.4" stroke="#161314" stroke-width="0.3"/>
<line x1="28.1" y1="610.5" x2="28.1" y2="611.4" stroke="#161314" stroke-width="0.3"/>
<line x1="28.8" y1="610.5" x2="28.8" y2="611.4" stroke="#161314" stroke-width="0.3"/>
<line x1="29.5" y1="610.5" x2="29.5" y2="611.4" stroke="#161314" stroke-width="0.3"/>
<line x1="32.3" y1="610.5" x2="32.3" y2="611.4" stroke="#161314" stroke-width="0.3"/>
<line x1="33.1" y1="610.5" x2="33.1" y2="611.4" stroke="#161314" stroke-width="0.3"/>
<line x1="33.9" y1="610.5" x2="33.9" y2="611.4" stroke="#161314" stroke-width="0.3"/>
<line x1="34.7" y1="610.5" x2="34.7" y2="611.4" stroke="#161314" stroke-width="0.3"/>
<line x1="39" y1="610.5" x2="39" y2="611.4" stroke="#161314" stroke-width="0.3"/>
<line x1="40.7" y1="610.5" x2="40.7" y2="611.4" stroke="#161314" stroke-width="0.3"/>
<line x1="41.9" y1="610.5" x2="41.9" y2="611.4" stroke="#161314" stroke-width="0.3"/>
<line x1="42.8" y1="610.5" x2="42.8" y2="611.4" stroke="#161314" stroke-width="0.3"/>
<line x1="43.6" y1="610.5" x2="43.6" y2="611.4" stroke="#161314" stroke-width="0.3"/>
<line x1="44.2" y1="610.5" x2="44.2" y2="611.4" stroke="#161314" stroke-width="0.3"/>
<line x1="44.8" y1="610.5" x2="44.8" y2="611.4" stroke="#161314" stroke-width="0.3"/>
<line x1="48.6" y1="610.5" x2="48.6" y2="611.4" stroke="#161314" stroke-width="0.3"/>
<line x1="50.3" y1="610.5" x2="50.3" y2="611.4" stroke="#161314" stroke-width="0.3"/>
<line x1="51.5" y1="610.5" x2="51.5" y2="611.4" stroke="#161314" stroke-width="0.3"/>
<line x1="52.4" y1="610.5" x2="52.4" y2="611.4" stroke="#161314" stroke-width="0.3"/>
<line x1="53.2" y1="610.5" x2="53.2" y2="611.4" stroke="#161314" stroke-width="0.3"/>
<line x1="53.8" y1="610.5" x2="53.8" y2="611.4" stroke="#161314" stroke-width="0.3"/>
<line x1="54.4" y1="610.5" x2="54.4" y2="611.4" stroke="#161314" stroke-width="0.3"/>
<line x1="57.9" y1="610.5" x2="57.9" y2="611.4" stroke="#161314" stroke-width="0.3"/>
<line x1="59.1" y1="610.5" x2="59.1" y2="611.4" stroke="#161314" stroke-width="0.3"/>
<rect x="29.8" y="610.3" width="1.6" height="1.1" fill="#111"/>
<path d="M82.5 610.2 L82.5 610.19 L82.8 610.19 L83.1 610.19 L83.4 610.19 L83.7 610.19 L84 610.18 L84.3 610.18 L84.6 610.17 L84.9 610.16 L85.2 610.14 L85.5 610.07 L85.8 609.88 L86.1 609.32 L86.4 607.88 L86.7 604.84 L87 599.61 L87.3 592.52 L87.6 585.36 L87.9 580.82 L88.2 579.99 L88.5 580.66 L88.8 582.5 L89.1 585.2 L89.4 588.44 L89.7 591.87 L90 595.09 L90.3 597.83 L90.6 600.02 L90.9 601.7 L91.2 602.99 L91.5 603.97 L91.8 604.74 L92.1 605.37 L92.4 605.92 L92.7 606.4 L93 606.84 L93.3 607.22 L93.6 607.57 L93.9 607.87 L94.2 608.13 L94.5 608.35 L94.8 608.53 L95.1 608.68 L95.4 608.81 L95.7 608.91 L96 608.99 L96.3 609.05 L96.6 609.1 L96.9 609.15 L97.2 609.18 L97.5 609.21 L97.8 609.22 L98.1 609.23 L98.4 609.23 L98.7 609.22 L99 609.2 L99.3 609.17 L99.6 609.13 L99.9 609.07 L100.2 609 L100.5 608.92 L100.8 608.83 L101.1 608.73 L101.4 608.64 L101.7 608.54 L102 608.45 L102.3 608.38 L102.6 608.32 L102.9 608.27 L103.2 608.26 L103.5 608.26 L103.8 608.31 L104.1 608.4 L104.4 608.53 L104.7 608.69 L105 608.87 L105.3 609.06 L105.6 609.25 L105.9 609.43 L106.2 609.59 L106.5 609.73 L106.8 609.85 L107.1 609.94 L107.4 610.02 L107.7 610.07 L108 610.11 L108.3 610.14 L108.6 610.16 L108.9 610.18 L109.2 610.19 L109.5 610.19 L109.8 610.19 L110.1 610.2 L110.4 610.2 L110.7 610.2 L111 610.2 L111.3 610.2 L111.6 610.2 L111.9 610.2 L112.2 610.2 L112.5 610.2 L112.8 610.2 L113.1 610.2 L113.4 610.2 L113.7 610.2 L114 610.2 L114.3 610.2 L114.5 610.2 Z" fill="#eebcc6" stroke="#c0405e" stroke-width="0.6" stroke-linejoin="round"/>
<rect x="77.5" y="573.5" width="38" height="37" fill="none" stroke="#0a0a0a" stroke-width="0.9"/>
<line x1="92" y1="597.5" x2="115.5" y2="597.5" stroke="#333" stroke-width="0.55"/>
<line x1="92" y1="596.6" x2="92" y2="598.4" stroke="#555" stroke-width="0.5"/>
<text x="103.7" y="587.25" font-size="4.9" text-anchor="middle" class="k">18.3</text>
<line x1="75.9" y1="610.3" x2="77.5" y2="610.3" stroke="#161314" stroke-width="0.5"/>
<text x="74.7" y="612.02" font-size="4.8" text-anchor="end" class="k">0</text>
<line x1="75.9" y1="600.3" x2="77.5" y2="600.3" stroke="#161314" stroke-width="0.5"/>
<text x="74.7" y="602.02" font-size="4.8" text-anchor="end" class="k">100</text>
<line x1="75.9" y1="590.3" x2="77.5" y2="590.3" stroke="#161314" stroke-width="0.5"/>
<text x="74.7" y="592.02" font-size="4.8" text-anchor="end" class="k">200</text>
<line x1="75.9" y1="580.3" x2="77.5" y2="580.3" stroke="#161314" stroke-width="0.5"/>
<text x="74.7" y="582.02" font-size="4.8" text-anchor="end" class="k">300</text>
<text x="81.9" y="618.16" font-size="5.2" text-anchor="middle" textLength="6.5" lengthAdjust="spacingAndGlyphs" class="k">-10<tspan font-size="3.4" dy="-1.7">3</tspan></text>
<text x="86.8" y="618.16" font-size="5.2" text-anchor="middle" textLength="2.4" lengthAdjust="spacingAndGlyphs" class="k">0</text>
<text x="94.3" y="618.16" font-size="5.2" text-anchor="middle" textLength="6.1" lengthAdjust="spacingAndGlyphs" class="k">10<tspan font-size="3.4" dy="-1.7">3</tspan></text>
<text x="103.9" y="618.16" font-size="5.2" text-anchor="middle" textLength="6.1" lengthAdjust="spacingAndGlyphs" class="k">10<tspan font-size="3.4" dy="-1.7">4</tspan></text>
<text x="111.8" y="618.16" font-size="5.2" text-anchor="middle" textLength="6.1" lengthAdjust="spacingAndGlyphs" class="k">10<tspan font-size="3.4" dy="-1.7">5</tspan></text>
<line x1="80.7" y1="610.5" x2="80.7" y2="612.1" stroke="#161314" stroke-width="0.45"/>
<line x1="85.9" y1="610.5" x2="85.9" y2="612.1" stroke="#161314" stroke-width="0.45"/>
<line x1="91.1" y1="610.5" x2="91.1" y2="612.1" stroke="#161314" stroke-width="0.45"/>
<line x1="100.7" y1="610.5" x2="100.7" y2="612.1" stroke="#161314" stroke-width="0.45"/>
<line x1="110.1" y1="610.5" x2="110.1" y2="612.1" stroke="#161314" stroke-width="0.45"/>
<line x1="82.1" y1="610.5" x2="82.1" y2="611.4" stroke="#161314" stroke-width="0.3"/>
<line x1="83.1" y1="610.5" x2="83.1" y2="611.4" stroke="#161314" stroke-width="0.3"/>
<line x1="83.8" y1="610.5" x2="83.8" y2="611.4" stroke="#161314" stroke-width="0.3"/>
<line x1="84.5" y1="610.5" x2="84.5" y2="611.4" stroke="#161314" stroke-width="0.3"/>
<line x1="87.3" y1="610.5" x2="87.3" y2="611.4" stroke="#161314" stroke-width="0.3"/>
<line x1="88.1" y1="610.5" x2="88.1" y2="611.4" stroke="#161314" stroke-width="0.3"/>
<line x1="88.9" y1="610.5" x2="88.9" y2="611.4" stroke="#161314" stroke-width="0.3"/>
<line x1="89.7" y1="610.5" x2="89.7" y2="611.4" stroke="#161314" stroke-width="0.3"/>
<line x1="94" y1="610.5" x2="94" y2="611.4" stroke="#161314" stroke-width="0.3"/>
<line x1="95.7" y1="610.5" x2="95.7" y2="611.4" stroke="#161314" stroke-width="0.3"/>
<line x1="96.9" y1="610.5" x2="96.9" y2="611.4" stroke="#161314" stroke-width="0.3"/>
<line x1="97.8" y1="610.5" x2="97.8" y2="611.4" stroke="#161314" stroke-width="0.3"/>
<line x1="98.6" y1="610.5" x2="98.6" y2="611.4" stroke="#161314" stroke-width="0.3"/>
<line x1="99.2" y1="610.5" x2="99.2" y2="611.4" stroke="#161314" stroke-width="0.3"/>
<line x1="99.8" y1="610.5" x2="99.8" y2="611.4" stroke="#161314" stroke-width="0.3"/>
<line x1="103.6" y1="610.5" x2="103.6" y2="611.4" stroke="#161314" stroke-width="0.3"/>
<line x1="105.3" y1="610.5" x2="105.3" y2="611.4" stroke="#161314" stroke-width="0.3"/>
<line x1="106.5" y1="610.5" x2="106.5" y2="611.4" stroke="#161314" stroke-width="0.3"/>
<line x1="107.4" y1="610.5" x2="107.4" y2="611.4" stroke="#161314" stroke-width="0.3"/>
<line x1="108.2" y1="610.5" x2="108.2" y2="611.4" stroke="#161314" stroke-width="0.3"/>
<line x1="108.8" y1="610.5" x2="108.8" y2="611.4" stroke="#161314" stroke-width="0.3"/>
<line x1="109.4" y1="610.5" x2="109.4" y2="611.4" stroke="#161314" stroke-width="0.3"/>
<line x1="112.9" y1="610.5" x2="112.9" y2="611.4" stroke="#161314" stroke-width="0.3"/>
<line x1="114.1" y1="610.5" x2="114.1" y2="611.4" stroke="#161314" stroke-width="0.3"/>
<rect x="84.8" y="610.3" width="1.6" height="1.1" fill="#111"/>
<path d="M137.5 610.2 L137.5 610.2 L137.8 610.2 L138.1 610.2 L138.4 610.2 L138.7 610.2 L139 610.2 L139.3 610.2 L139.6 610.2 L139.9 610.2 L140.2 610.19 L140.5 610.07 L140.8 609.26 L141.1 605.79 L141.4 596.84 L141.7 584.1 L142 577.27 L142.3 578.77 L142.6 583.66 L142.9 590.12 L143.2 596.34 L143.5 601.2 L143.8 604.29 L144.1 606.01 L144.4 606.94 L144.7 607.51 L145 607.93 L145.3 608.31 L145.6 608.65 L145.9 608.97 L146.2 609.24 L146.5 609.48 L146.8 609.67 L147.1 609.82 L147.4 609.94 L147.7 610.02 L148 610.08 L148.3 610.13 L148.6 610.15 L148.9 610.17 L149.2 610.18 L149.5 610.19 L149.8 610.19 L150.1 610.2 L150.4 610.2 L150.7 610.2 L151 610.2 L151.3 610.2 L151.6 610.2 L151.9 610.2 L152.2 610.2 L152.5 610.2 L152.8 610.2 L153.1 610.2 L153.4 610.2 L153.7 610.2 L154 610.2 L154.3 610.2 L154.6 610.2 L154.9 610.2 L155.2 610.2 L155.5 610.2 L155.8 610.2 L156.1 610.2 L156.4 610.2 L156.7 610.2 L157 610.2 L157.3 610.2 L157.6 610.2 L157.9 610.2 L158.2 610.2 L158.5 610.2 L158.8 610.2 L159.1 610.2 L159.4 610.2 L159.7 610.2 L160 610.2 L160.3 610.2 L160.6 610.2 L160.9 610.2 L161.2 610.2 L161.5 610.2 L161.8 610.2 L162.1 610.2 L162.4 610.2 L162.7 610.2 L163 610.2 L163.3 610.2 L163.6 610.2 L163.9 610.2 L164.2 610.2 L164.5 610.2 L164.8 610.2 L165.1 610.2 L165.4 610.2 L165.7 610.2 L166 610.2 L166.3 610.2 L166.6 610.2 L166.9 610.2 L167.2 610.2 L167.5 610.2 L167.8 610.2 L168.1 610.2 L168.4 610.2 L168.7 610.2 L169 610.2 L169.3 610.2 L169.5 610.2 Z" fill="#eebcc6" stroke="#c0405e" stroke-width="0.6" stroke-linejoin="round"/>
<rect x="132.5" y="573.5" width="38" height="37" fill="none" stroke="#0a0a0a" stroke-width="0.9"/>
<line x1="147" y1="597.5" x2="170.5" y2="597.5" stroke="#333" stroke-width="0.55"/>
<line x1="147" y1="596.6" x2="147" y2="598.4" stroke="#555" stroke-width="0.5"/>
<text x="157.5" y="587.25" font-size="4.9" text-anchor="middle" class="k">6.38</text>
<line x1="130.9" y1="610.3" x2="132.5" y2="610.3" stroke="#161314" stroke-width="0.5"/>
<text x="129.7" y="612.02" font-size="4.8" text-anchor="end" class="k">0</text>
<line x1="130.9" y1="602.3" x2="132.5" y2="602.3" stroke="#161314" stroke-width="0.5"/>
<text x="129.7" y="604.02" font-size="4.8" text-anchor="end" class="k">100</text>
<line x1="130.9" y1="594.3" x2="132.5" y2="594.3" stroke="#161314" stroke-width="0.5"/>
<text x="129.7" y="596.02" font-size="4.8" text-anchor="end" class="k">200</text>
<line x1="130.9" y1="586.3" x2="132.5" y2="586.3" stroke="#161314" stroke-width="0.5"/>
<text x="129.7" y="588.02" font-size="4.8" text-anchor="end" class="k">300</text>
<line x1="130.9" y1="578.3" x2="132.5" y2="578.3" stroke="#161314" stroke-width="0.5"/>
<text x="129.7" y="580.02" font-size="4.8" text-anchor="end" class="k">400</text>
<text x="136.9" y="618.16" font-size="5.2" text-anchor="middle" textLength="6.5" lengthAdjust="spacingAndGlyphs" class="k">-10<tspan font-size="3.4" dy="-1.7">3</tspan></text>
<text x="141.8" y="618.16" font-size="5.2" text-anchor="middle" textLength="2.4" lengthAdjust="spacingAndGlyphs" class="k">0</text>
<text x="149.3" y="618.16" font-size="5.2" text-anchor="middle" textLength="6.1" lengthAdjust="spacingAndGlyphs" class="k">10<tspan font-size="3.4" dy="-1.7">3</tspan></text>
<text x="158.9" y="618.16" font-size="5.2" text-anchor="middle" textLength="6.1" lengthAdjust="spacingAndGlyphs" class="k">10<tspan font-size="3.4" dy="-1.7">4</tspan></text>
<text x="166.8" y="618.16" font-size="5.2" text-anchor="middle" textLength="6.1" lengthAdjust="spacingAndGlyphs" class="k">10<tspan font-size="3.4" dy="-1.7">5</tspan></text>
<line x1="135.7" y1="610.5" x2="135.7" y2="612.1" stroke="#161314" stroke-width="0.45"/>
<line x1="140.9" y1="610.5" x2="140.9" y2="612.1" stroke="#161314" stroke-width="0.45"/>
<line x1="146.1" y1="610.5" x2="146.1" y2="612.1" stroke="#161314" stroke-width="0.45"/>
<line x1="155.7" y1="610.5" x2="155.7" y2="612.1" stroke="#161314" stroke-width="0.45"/>
<line x1="165.1" y1="610.5" x2="165.1" y2="612.1" stroke="#161314" stroke-width="0.45"/>
<line x1="137.1" y1="610.5" x2="137.1" y2="611.4" stroke="#161314" stroke-width="0.3"/>
<line x1="138.1" y1="610.5" x2="138.1" y2="611.4" stroke="#161314" stroke-width="0.3"/>
<line x1="138.8" y1="610.5" x2="138.8" y2="611.4" stroke="#161314" stroke-width="0.3"/>
<line x1="139.5" y1="610.5" x2="139.5" y2="611.4" stroke="#161314" stroke-width="0.3"/>
<line x1="142.3" y1="610.5" x2="142.3" y2="611.4" stroke="#161314" stroke-width="0.3"/>
<line x1="143.1" y1="610.5" x2="143.1" y2="611.4" stroke="#161314" stroke-width="0.3"/>
<line x1="143.9" y1="610.5" x2="143.9" y2="611.4" stroke="#161314" stroke-width="0.3"/>
<line x1="144.7" y1="610.5" x2="144.7" y2="611.4" stroke="#161314" stroke-width="0.3"/>
<line x1="149" y1="610.5" x2="149" y2="611.4" stroke="#161314" stroke-width="0.3"/>
<line x1="150.7" y1="610.5" x2="150.7" y2="611.4" stroke="#161314" stroke-width="0.3"/>
<line x1="151.9" y1="610.5" x2="151.9" y2="611.4" stroke="#161314" stroke-width="0.3"/>
<line x1="152.8" y1="610.5" x2="152.8" y2="611.4" stroke="#161314" stroke-width="0.3"/>
<line x1="153.6" y1="610.5" x2="153.6" y2="611.4" stroke="#161314" stroke-width="0.3"/>
<line x1="154.2" y1="610.5" x2="154.2" y2="611.4" stroke="#161314" stroke-width="0.3"/>
<line x1="154.8" y1="610.5" x2="154.8" y2="611.4" stroke="#161314" stroke-width="0.3"/>
<line x1="158.6" y1="610.5" x2="158.6" y2="611.4" stroke="#161314" stroke-width="0.3"/>
<line x1="160.3" y1="610.5" x2="160.3" y2="611.4" stroke="#161314" stroke-width="0.3"/>
<line x1="161.5" y1="610.5" x2="161.5" y2="611.4" stroke="#161314" stroke-width="0.3"/>
<line x1="162.4" y1="610.5" x2="162.4" y2="611.4" stroke="#161314" stroke-width="0.3"/>
<line x1="163.2" y1="610.5" x2="163.2" y2="611.4" stroke="#161314" stroke-width="0.3"/>
<line x1="163.8" y1="610.5" x2="163.8" y2="611.4" stroke="#161314" stroke-width="0.3"/>
<line x1="164.4" y1="610.5" x2="164.4" y2="611.4" stroke="#161314" stroke-width="0.3"/>
<line x1="167.9" y1="610.5" x2="167.9" y2="611.4" stroke="#161314" stroke-width="0.3"/>
<line x1="169.1" y1="610.5" x2="169.1" y2="611.4" stroke="#161314" stroke-width="0.3"/>
<rect x="139.8" y="610.3" width="1.6" height="1.1" fill="#111"/>
<path d="M192.5 610.2 L192.5 610.19 L192.8 610.18 L193.1 610.18 L193.4 610.18 L193.7 610.17 L194 610.16 L194.3 610.15 L194.6 610.12 L194.9 610.03 L195.2 609.71 L195.5 608.66 L195.8 605.9 L196.1 600.28 L196.4 591.93 L196.7 583.59 L197 579.55 L197.3 579.74 L197.6 581.75 L197.9 585.12 L198.2 589.21 L198.5 593.41 L198.8 597.13 L199.1 600.03 L199.4 602.11 L199.7 603.52 L200 604.47 L200.3 605.14 L200.6 605.64 L200.9 606.05 L201.2 606.43 L201.5 606.78 L201.8 607.11 L202.1 607.42 L202.4 607.7 L202.7 607.95 L203 608.17 L203.3 608.36 L203.6 608.51 L203.9 608.64 L204.2 608.74 L204.5 608.81 L204.8 608.87 L205.1 608.91 L205.4 608.94 L205.7 608.96 L206 608.97 L206.3 608.97 L206.6 608.98 L206.9 608.98 L207.2 608.98 L207.5 608.99 L207.8 608.99 L208.1 609.01 L208.4 609.03 L208.7 609.05 L209 609.08 L209.3 609.11 L209.6 609.15 L209.9 609.2 L210.2 609.24 L210.5 609.29 L210.8 609.35 L211.1 609.4 L211.4 609.45 L211.7 609.51 L212 609.56 L212.3 609.62 L212.6 609.67 L212.9 609.72 L213.2 609.77 L213.5 609.81 L213.8 609.85 L214.1 609.89 L214.4 609.93 L214.7 609.96 L215 609.99 L215.3 610.02 L215.6 610.05 L215.9 610.07 L216.2 610.09 L216.5 610.1 L216.8 610.12 L217.1 610.13 L217.4 610.14 L217.7 610.15 L218 610.16 L218.3 610.17 L218.6 610.17 L218.9 610.18 L219.2 610.18 L219.5 610.19 L219.8 610.19 L220.1 610.19 L220.4 610.19 L220.7 610.19 L221 610.2 L221.3 610.2 L221.6 610.2 L221.9 610.2 L222.2 610.2 L222.5 610.2 L222.8 610.2 L223.1 610.2 L223.4 610.2 L223.7 610.2 L224 610.2 L224.3 610.2 L224.5 610.2 Z" fill="#eebcc6" stroke="#c0405e" stroke-width="0.6" stroke-linejoin="round"/>
<rect x="187.5" y="573.5" width="38" height="37" fill="none" stroke="#0a0a0a" stroke-width="0.9"/>
<line x1="202" y1="597.5" x2="225.5" y2="597.5" stroke="#333" stroke-width="0.55"/>
<line x1="202" y1="596.6" x2="202" y2="598.4" stroke="#555" stroke-width="0.5"/>
<text x="214.2" y="587.25" font-size="4.9" text-anchor="middle" class="k">15.3</text>
<line x1="185.9" y1="610.3" x2="187.5" y2="610.3" stroke="#161314" stroke-width="0.5"/>
<text x="184.7" y="612.02" font-size="4.8" text-anchor="end" class="k">0</text>
<line x1="185.9" y1="599.3" x2="187.5" y2="599.3" stroke="#161314" stroke-width="0.5"/>
<text x="184.7" y="601.02" font-size="4.8" text-anchor="end" class="k">100</text>
<line x1="185.9" y1="588.3" x2="187.5" y2="588.3" stroke="#161314" stroke-width="0.5"/>
<text x="184.7" y="590.02" font-size="4.8" text-anchor="end" class="k">200</text>
<line x1="185.9" y1="577.3" x2="187.5" y2="577.3" stroke="#161314" stroke-width="0.5"/>
<text x="184.7" y="579.02" font-size="4.8" text-anchor="end" class="k">300</text>
<text x="191.9" y="618.16" font-size="5.2" text-anchor="middle" textLength="6.5" lengthAdjust="spacingAndGlyphs" class="k">-10<tspan font-size="3.4" dy="-1.7">3</tspan></text>
<text x="196.8" y="618.16" font-size="5.2" text-anchor="middle" textLength="2.4" lengthAdjust="spacingAndGlyphs" class="k">0</text>
<text x="204.3" y="618.16" font-size="5.2" text-anchor="middle" textLength="6.1" lengthAdjust="spacingAndGlyphs" class="k">10<tspan font-size="3.4" dy="-1.7">3</tspan></text>
<text x="213.9" y="618.16" font-size="5.2" text-anchor="middle" textLength="6.1" lengthAdjust="spacingAndGlyphs" class="k">10<tspan font-size="3.4" dy="-1.7">4</tspan></text>
<text x="221.8" y="618.16" font-size="5.2" text-anchor="middle" textLength="6.1" lengthAdjust="spacingAndGlyphs" class="k">10<tspan font-size="3.4" dy="-1.7">5</tspan></text>
<line x1="190.7" y1="610.5" x2="190.7" y2="612.1" stroke="#161314" stroke-width="0.45"/>
<line x1="195.9" y1="610.5" x2="195.9" y2="612.1" stroke="#161314" stroke-width="0.45"/>
<line x1="201.1" y1="610.5" x2="201.1" y2="612.1" stroke="#161314" stroke-width="0.45"/>
<line x1="210.7" y1="610.5" x2="210.7" y2="612.1" stroke="#161314" stroke-width="0.45"/>
<line x1="220.1" y1="610.5" x2="220.1" y2="612.1" stroke="#161314" stroke-width="0.45"/>
<line x1="192.1" y1="610.5" x2="192.1" y2="611.4" stroke="#161314" stroke-width="0.3"/>
<line x1="193.1" y1="610.5" x2="193.1" y2="611.4" stroke="#161314" stroke-width="0.3"/>
<line x1="193.8" y1="610.5" x2="193.8" y2="611.4" stroke="#161314" stroke-width="0.3"/>
<line x1="194.5" y1="610.5" x2="194.5" y2="611.4" stroke="#161314" stroke-width="0.3"/>
<line x1="197.3" y1="610.5" x2="197.3" y2="611.4" stroke="#161314" stroke-width="0.3"/>
<line x1="198.1" y1="610.5" x2="198.1" y2="611.4" stroke="#161314" stroke-width="0.3"/>
<line x1="198.9" y1="610.5" x2="198.9" y2="611.4" stroke="#161314" stroke-width="0.3"/>
<line x1="199.7" y1="610.5" x2="199.7" y2="611.4" stroke="#161314" stroke-width="0.3"/>
<line x1="204" y1="610.5" x2="204" y2="611.4" stroke="#161314" stroke-width="0.3"/>
<line x1="205.7" y1="610.5" x2="205.7" y2="611.4" stroke="#161314" stroke-width="0.3"/>
<line x1="206.9" y1="610.5" x2="206.9" y2="611.4" stroke="#161314" stroke-width="0.3"/>
<line x1="207.8" y1="610.5" x2="207.8" y2="611.4" stroke="#161314" stroke-width="0.3"/>
<line x1="208.6" y1="610.5" x2="208.6" y2="611.4" stroke="#161314" stroke-width="0.3"/>
<line x1="209.2" y1="610.5" x2="209.2" y2="611.4" stroke="#161314" stroke-width="0.3"/>
<line x1="209.8" y1="610.5" x2="209.8" y2="611.4" stroke="#161314" stroke-width="0.3"/>
<line x1="213.6" y1="610.5" x2="213.6" y2="611.4" stroke="#161314" stroke-width="0.3"/>
<line x1="215.3" y1="610.5" x2="215.3" y2="611.4" stroke="#161314" stroke-width="0.3"/>
<line x1="216.5" y1="610.5" x2="216.5" y2="611.4" stroke="#161314" stroke-width="0.3"/>
<line x1="217.4" y1="610.5" x2="217.4" y2="611.4" stroke="#161314" stroke-width="0.3"/>
<line x1="218.2" y1="610.5" x2="218.2" y2="611.4" stroke="#161314" stroke-width="0.3"/>
<line x1="218.8" y1="610.5" x2="218.8" y2="611.4" stroke="#161314" stroke-width="0.3"/>
<line x1="219.4" y1="610.5" x2="219.4" y2="611.4" stroke="#161314" stroke-width="0.3"/>
<line x1="222.9" y1="610.5" x2="222.9" y2="611.4" stroke="#161314" stroke-width="0.3"/>
<line x1="224.1" y1="610.5" x2="224.1" y2="611.4" stroke="#161314" stroke-width="0.3"/>
<rect x="194.8" y="610.3" width="1.6" height="1.1" fill="#111"/>
<path d="M27.5 663.2 L27.5 663.2 L27.8 663.2 L28.1 663.2 L28.4 663.2 L28.7 663.2 L29 663.2 L29.3 663.2 L29.6 663.2 L29.9 663.2 L30.2 663.19 L30.5 663.07 L30.8 662.27 L31.1 658.85 L31.4 650.04 L31.7 637.49 L32 630.74 L32.3 631.75 L32.6 635.52 L32.9 640.92 L33.2 646.68 L33.5 651.76 L33.8 655.45 L34.1 657.81 L34.4 659.21 L34.7 660.03 L35 660.57 L35.3 660.98 L35.6 661.33 L35.9 661.65 L36.2 661.94 L36.5 662.2 L36.8 662.42 L37.1 662.61 L37.4 662.76 L37.7 662.88 L38 662.97 L38.3 663.04 L38.6 663.09 L38.9 663.13 L39.2 663.15 L39.5 663.17 L39.8 663.18 L40.1 663.19 L40.4 663.19 L40.7 663.2 L41 663.2 L41.3 663.2 L41.6 663.2 L41.9 663.2 L42.2 663.19 L42.5 663.19 L42.8 663.18 L43.1 663.17 L43.4 663.16 L43.7 663.14 L44 663.11 L44.3 663.07 L44.6 663.02 L44.9 662.95 L45.2 662.87 L45.5 662.78 L45.8 662.68 L46.1 662.57 L46.4 662.46 L46.7 662.35 L47 662.26 L47.3 662.18 L47.6 662.13 L47.9 662.1 L48.2 662.11 L48.5 662.15 L48.8 662.23 L49.1 662.33 L49.4 662.45 L49.7 662.57 L50 662.7 L50.3 662.81 L50.6 662.91 L50.9 662.99 L51.2 663.05 L51.5 663.1 L51.8 663.13 L52.1 663.16 L52.4 663.17 L52.7 663.19 L53 663.19 L53.3 663.2 L53.6 663.2 L53.9 663.2 L54.2 663.2 L54.5 663.2 L54.8 663.2 L55.1 663.2 L55.4 663.2 L55.7 663.2 L56 663.2 L56.3 663.2 L56.6 663.2 L56.9 663.2 L57.2 663.2 L57.5 663.2 L57.8 663.2 L58.1 663.2 L58.4 663.2 L58.7 663.2 L59 663.2 L59.3 663.2 L59.5 663.2 Z" fill="#eebcc6" stroke="#c0405e" stroke-width="0.6" stroke-linejoin="round"/>
<rect x="22.5" y="626.5" width="38" height="37" fill="none" stroke="#0a0a0a" stroke-width="0.9"/>
<line x1="37" y1="649.5" x2="60.5" y2="649.5" stroke="#333" stroke-width="0.55"/>
<line x1="37" y1="648.6" x2="37" y2="650.4" stroke="#555" stroke-width="0.5"/>
<text x="48" y="640.25" font-size="4.9" text-anchor="middle" class="k">7.61</text>
<line x1="20.9" y1="662.9" x2="22.5" y2="662.9" stroke="#161314" stroke-width="0.5"/>
<text x="19.7" y="664.62" font-size="4.8" text-anchor="end" class="k">0</text>
<line x1="20.9" y1="654.45" x2="22.5" y2="654.45" stroke="#161314" stroke-width="0.5"/>
<text x="19.7" y="656.17" font-size="4.8" text-anchor="end" class="k">100</text>
<line x1="20.9" y1="646" x2="22.5" y2="646" stroke="#161314" stroke-width="0.5"/>
<text x="19.7" y="647.72" font-size="4.8" text-anchor="end" class="k">200</text>
<line x1="20.9" y1="637.55" x2="22.5" y2="637.55" stroke="#161314" stroke-width="0.5"/>
<text x="19.7" y="639.27" font-size="4.8" text-anchor="end" class="k">300</text>
<line x1="20.9" y1="629.1" x2="22.5" y2="629.1" stroke="#161314" stroke-width="0.5"/>
<text x="19.7" y="630.82" font-size="4.8" text-anchor="end" class="k">400</text>
<text x="26.9" y="671.16" font-size="5.2" text-anchor="middle" textLength="6.5" lengthAdjust="spacingAndGlyphs" class="k">-10<tspan font-size="3.4" dy="-1.7">3</tspan></text>
<text x="31.8" y="671.16" font-size="5.2" text-anchor="middle" textLength="2.4" lengthAdjust="spacingAndGlyphs" class="k">0</text>
<text x="39.3" y="671.16" font-size="5.2" text-anchor="middle" textLength="6.1" lengthAdjust="spacingAndGlyphs" class="k">10<tspan font-size="3.4" dy="-1.7">3</tspan></text>
<text x="48.9" y="671.16" font-size="5.2" text-anchor="middle" textLength="6.1" lengthAdjust="spacingAndGlyphs" class="k">10<tspan font-size="3.4" dy="-1.7">4</tspan></text>
<text x="56.8" y="671.16" font-size="5.2" text-anchor="middle" textLength="6.1" lengthAdjust="spacingAndGlyphs" class="k">10<tspan font-size="3.4" dy="-1.7">5</tspan></text>
<line x1="25.7" y1="663.5" x2="25.7" y2="665.1" stroke="#161314" stroke-width="0.45"/>
<line x1="30.9" y1="663.5" x2="30.9" y2="665.1" stroke="#161314" stroke-width="0.45"/>
<line x1="36.1" y1="663.5" x2="36.1" y2="665.1" stroke="#161314" stroke-width="0.45"/>
<line x1="45.7" y1="663.5" x2="45.7" y2="665.1" stroke="#161314" stroke-width="0.45"/>
<line x1="55.1" y1="663.5" x2="55.1" y2="665.1" stroke="#161314" stroke-width="0.45"/>
<line x1="27.1" y1="663.5" x2="27.1" y2="664.4" stroke="#161314" stroke-width="0.3"/>
<line x1="28.1" y1="663.5" x2="28.1" y2="664.4" stroke="#161314" stroke-width="0.3"/>
<line x1="28.8" y1="663.5" x2="28.8" y2="664.4" stroke="#161314" stroke-width="0.3"/>
<line x1="29.5" y1="663.5" x2="29.5" y2="664.4" stroke="#161314" stroke-width="0.3"/>
<line x1="32.3" y1="663.5" x2="32.3" y2="664.4" stroke="#161314" stroke-width="0.3"/>
<line x1="33.1" y1="663.5" x2="33.1" y2="664.4" stroke="#161314" stroke-width="0.3"/>
<line x1="33.9" y1="663.5" x2="33.9" y2="664.4" stroke="#161314" stroke-width="0.3"/>
<line x1="34.7" y1="663.5" x2="34.7" y2="664.4" stroke="#161314" stroke-width="0.3"/>
<line x1="39" y1="663.5" x2="39" y2="664.4" stroke="#161314" stroke-width="0.3"/>
<line x1="40.7" y1="663.5" x2="40.7" y2="664.4" stroke="#161314" stroke-width="0.3"/>
<line x1="41.9" y1="663.5" x2="41.9" y2="664.4" stroke="#161314" stroke-width="0.3"/>
<line x1="42.8" y1="663.5" x2="42.8" y2="664.4" stroke="#161314" stroke-width="0.3"/>
<line x1="43.6" y1="663.5" x2="43.6" y2="664.4" stroke="#161314" stroke-width="0.3"/>
<line x1="44.2" y1="663.5" x2="44.2" y2="664.4" stroke="#161314" stroke-width="0.3"/>
<line x1="44.8" y1="663.5" x2="44.8" y2="664.4" stroke="#161314" stroke-width="0.3"/>
<line x1="48.6" y1="663.5" x2="48.6" y2="664.4" stroke="#161314" stroke-width="0.3"/>
<line x1="50.3" y1="663.5" x2="50.3" y2="664.4" stroke="#161314" stroke-width="0.3"/>
<line x1="51.5" y1="663.5" x2="51.5" y2="664.4" stroke="#161314" stroke-width="0.3"/>
<line x1="52.4" y1="663.5" x2="52.4" y2="664.4" stroke="#161314" stroke-width="0.3"/>
<line x1="53.2" y1="663.5" x2="53.2" y2="664.4" stroke="#161314" stroke-width="0.3"/>
<line x1="53.8" y1="663.5" x2="53.8" y2="664.4" stroke="#161314" stroke-width="0.3"/>
<line x1="54.4" y1="663.5" x2="54.4" y2="664.4" stroke="#161314" stroke-width="0.3"/>
<line x1="57.9" y1="663.5" x2="57.9" y2="664.4" stroke="#161314" stroke-width="0.3"/>
<line x1="59.1" y1="663.5" x2="59.1" y2="664.4" stroke="#161314" stroke-width="0.3"/>
<rect x="29.8" y="663.3" width="1.6" height="1.1" fill="#111"/>
<path d="M82.5 663.2 L82.5 663.2 L82.8 663.2 L83.1 663.2 L83.4 663.2 L83.7 663.2 L84 663.2 L84.3 663.2 L84.6 663.2 L84.9 663.2 L85.2 663.19 L85.5 663.18 L85.8 663.15 L86.1 663.08 L86.4 662.92 L86.7 662.56 L87 661.84 L87.3 660.51 L87.6 658.31 L87.9 655 L88.2 650.58 L88.5 645.35 L88.8 640.02 L89.1 635.53 L89.4 632.76 L89.7 631.92 L90 632.03 L90.3 632.97 L90.6 634.6 L90.9 636.78 L91.2 639.33 L91.5 642.05 L91.8 644.71 L92.1 647.11 L92.4 649.17 L92.7 650.89 L93 652.28 L93.3 653.39 L93.6 654.28 L93.9 654.97 L94.2 655.53 L94.5 655.98 L94.8 656.34 L95.1 656.64 L95.4 656.87 L95.7 657.06 L96 657.19 L96.3 657.29 L96.6 657.34 L96.9 657.36 L97.2 657.35 L97.5 657.31 L97.8 657.25 L98.1 657.17 L98.4 657.08 L98.7 656.97 L99 656.86 L99.3 656.75 L99.6 656.63 L99.9 656.51 L100.2 656.4 L100.5 656.29 L100.8 656.19 L101.1 656.1 L101.4 656.03 L101.7 655.97 L102 655.93 L102.3 655.91 L102.6 655.91 L102.9 655.94 L103.2 656.02 L103.5 656.21 L103.8 656.52 L104.1 656.92 L104.4 657.41 L104.7 657.95 L105 658.52 L105.3 659.11 L105.6 659.69 L105.9 660.25 L106.2 660.76 L106.5 661.22 L106.8 661.62 L107.1 661.96 L107.4 662.25 L107.7 662.48 L108 662.67 L108.3 662.81 L108.6 662.93 L108.9 663.01 L109.2 663.07 L109.5 663.11 L109.8 663.14 L110.1 663.16 L110.4 663.18 L110.7 663.18 L111 663.19 L111.3 663.19 L111.6 663.2 L111.9 663.2 L112.2 663.2 L112.5 663.2 L112.8 663.2 L113.1 663.2 L113.4 663.2 L113.7 663.2 L114 663.2 L114.3 663.2 L114.5 663.2 Z" fill="#eebcc6" stroke="#c0405e" stroke-width="0.6" stroke-linejoin="round"/>
<rect x="77.5" y="626.5" width="38" height="37" fill="none" stroke="#0a0a0a" stroke-width="0.9"/>
<line x1="92" y1="649.5" x2="115.5" y2="649.5" stroke="#333" stroke-width="0.55"/>
<line x1="92" y1="648.6" x2="92" y2="650.4" stroke="#555" stroke-width="0.5"/>
<text x="103.7" y="640.25" font-size="4.9" text-anchor="middle" class="k">42.7</text>
<line x1="75.9" y1="662.9" x2="77.5" y2="662.9" stroke="#161314" stroke-width="0.5"/>
<text x="74.7" y="664.62" font-size="4.8" text-anchor="end" class="k">0</text>
<line x1="75.9" y1="653" x2="77.5" y2="653" stroke="#161314" stroke-width="0.5"/>
<text x="74.7" y="654.72" font-size="4.8" text-anchor="end" class="k">50</text>
<line x1="75.9" y1="643.1" x2="77.5" y2="643.1" stroke="#161314" stroke-width="0.5"/>
<text x="74.7" y="644.82" font-size="4.8" text-anchor="end" class="k">100</text>
<line x1="75.9" y1="633.2" x2="77.5" y2="633.2" stroke="#161314" stroke-width="0.5"/>
<text x="74.7" y="634.92" font-size="4.8" text-anchor="end" class="k">150</text>
<text x="81.9" y="671.16" font-size="5.2" text-anchor="middle" textLength="6.5" lengthAdjust="spacingAndGlyphs" class="k">-10<tspan font-size="3.4" dy="-1.7">3</tspan></text>
<text x="86.8" y="671.16" font-size="5.2" text-anchor="middle" textLength="2.4" lengthAdjust="spacingAndGlyphs" class="k">0</text>
<text x="94.3" y="671.16" font-size="5.2" text-anchor="middle" textLength="6.1" lengthAdjust="spacingAndGlyphs" class="k">10<tspan font-size="3.4" dy="-1.7">3</tspan></text>
<text x="103.9" y="671.16" font-size="5.2" text-anchor="middle" textLength="6.1" lengthAdjust="spacingAndGlyphs" class="k">10<tspan font-size="3.4" dy="-1.7">4</tspan></text>
<text x="111.8" y="671.16" font-size="5.2" text-anchor="middle" textLength="6.1" lengthAdjust="spacingAndGlyphs" class="k">10<tspan font-size="3.4" dy="-1.7">5</tspan></text>
<line x1="80.7" y1="663.5" x2="80.7" y2="665.1" stroke="#161314" stroke-width="0.45"/>
<line x1="85.9" y1="663.5" x2="85.9" y2="665.1" stroke="#161314" stroke-width="0.45"/>
<line x1="91.1" y1="663.5" x2="91.1" y2="665.1" stroke="#161314" stroke-width="0.45"/>
<line x1="100.7" y1="663.5" x2="100.7" y2="665.1" stroke="#161314" stroke-width="0.45"/>
<line x1="110.1" y1="663.5" x2="110.1" y2="665.1" stroke="#161314" stroke-width="0.45"/>
<line x1="82.1" y1="663.5" x2="82.1" y2="664.4" stroke="#161314" stroke-width="0.3"/>
<line x1="83.1" y1="663.5" x2="83.1" y2="664.4" stroke="#161314" stroke-width="0.3"/>
<line x1="83.8" y1="663.5" x2="83.8" y2="664.4" stroke="#161314" stroke-width="0.3"/>
<line x1="84.5" y1="663.5" x2="84.5" y2="664.4" stroke="#161314" stroke-width="0.3"/>
<line x1="87.3" y1="663.5" x2="87.3" y2="664.4" stroke="#161314" stroke-width="0.3"/>
<line x1="88.1" y1="663.5" x2="88.1" y2="664.4" stroke="#161314" stroke-width="0.3"/>
<line x1="88.9" y1="663.5" x2="88.9" y2="664.4" stroke="#161314" stroke-width="0.3"/>
<line x1="89.7" y1="663.5" x2="89.7" y2="664.4" stroke="#161314" stroke-width="0.3"/>
<line x1="94" y1="663.5" x2="94" y2="664.4" stroke="#161314" stroke-width="0.3"/>
<line x1="95.7" y1="663.5" x2="95.7" y2="664.4" stroke="#161314" stroke-width="0.3"/>
<line x1="96.9" y1="663.5" x2="96.9" y2="664.4" stroke="#161314" stroke-width="0.3"/>
<line x1="97.8" y1="663.5" x2="97.8" y2="664.4" stroke="#161314" stroke-width="0.3"/>
<line x1="98.6" y1="663.5" x2="98.6" y2="664.4" stroke="#161314" stroke-width="0.3"/>
<line x1="99.2" y1="663.5" x2="99.2" y2="664.4" stroke="#161314" stroke-width="0.3"/>
<line x1="99.8" y1="663.5" x2="99.8" y2="664.4" stroke="#161314" stroke-width="0.3"/>
<line x1="103.6" y1="663.5" x2="103.6" y2="664.4" stroke="#161314" stroke-width="0.3"/>
<line x1="105.3" y1="663.5" x2="105.3" y2="664.4" stroke="#161314" stroke-width="0.3"/>
<line x1="106.5" y1="663.5" x2="106.5" y2="664.4" stroke="#161314" stroke-width="0.3"/>
<line x1="107.4" y1="663.5" x2="107.4" y2="664.4" stroke="#161314" stroke-width="0.3"/>
<line x1="108.2" y1="663.5" x2="108.2" y2="664.4" stroke="#161314" stroke-width="0.3"/>
<line x1="108.8" y1="663.5" x2="108.8" y2="664.4" stroke="#161314" stroke-width="0.3"/>
<line x1="109.4" y1="663.5" x2="109.4" y2="664.4" stroke="#161314" stroke-width="0.3"/>
<line x1="112.9" y1="663.5" x2="112.9" y2="664.4" stroke="#161314" stroke-width="0.3"/>
<line x1="114.1" y1="663.5" x2="114.1" y2="664.4" stroke="#161314" stroke-width="0.3"/>
<rect x="84.8" y="663.3" width="1.6" height="1.1" fill="#111"/>
<path d="M137.5 663.2 L137.5 663.2 L137.8 663.2 L138.1 663.2 L138.4 663.2 L138.7 663.2 L139 663.2 L139.3 663.2 L139.6 663.2 L139.9 663.19 L140.2 663.14 L140.5 662.74 L140.8 660.69 L141.1 654.4 L141.4 643.3 L141.7 634.15 L142 633.55 L142.3 636.22 L142.6 640.79 L142.9 646.07 L143.2 651.06 L143.5 654.9 L143.8 657.45 L144.1 659 L144.4 659.92 L144.7 660.5 L145 660.92 L145.3 661.27 L145.6 661.59 L145.9 661.89 L146.2 662.15 L146.5 662.37 L146.8 662.57 L147.1 662.73 L147.4 662.85 L147.7 662.95 L148 663.03 L148.3 663.08 L148.6 663.12 L148.9 663.15 L149.2 663.17 L149.5 663.18 L149.8 663.19 L150.1 663.19 L150.4 663.2 L150.7 663.2 L151 663.2 L151.3 663.2 L151.6 663.2 L151.9 663.2 L152.2 663.2 L152.5 663.2 L152.8 663.2 L153.1 663.2 L153.4 663.2 L153.7 663.19 L154 663.19 L154.3 663.18 L154.6 663.16 L154.9 663.14 L155.2 663.12 L155.5 663.08 L155.8 663.03 L156.1 662.97 L156.4 662.9 L156.7 662.83 L157 662.75 L157.3 662.67 L157.6 662.6 L157.9 662.55 L158.2 662.51 L158.5 662.5 L158.8 662.51 L159.1 662.55 L159.4 662.6 L159.7 662.67 L160 662.75 L160.3 662.83 L160.6 662.9 L160.9 662.97 L161.2 663.03 L161.5 663.08 L161.8 663.12 L162.1 663.14 L162.4 663.16 L162.7 663.18 L163 663.19 L163.3 663.19 L163.6 663.2 L163.9 663.2 L164.2 663.2 L164.5 663.2 L164.8 663.2 L165.1 663.2 L165.4 663.2 L165.7 663.2 L166 663.2 L166.3 663.2 L166.6 663.2 L166.9 663.2 L167.2 663.2 L167.5 663.2 L167.8 663.2 L168.1 663.2 L168.4 663.2 L168.7 663.2 L169 663.2 L169.3 663.2 L169.5 663.2 Z" fill="#eebcc6" stroke="#c0405e" stroke-width="0.6" stroke-linejoin="round"/>
<rect x="132.5" y="626.5" width="38" height="37" fill="none" stroke="#0a0a0a" stroke-width="0.9"/>
<line x1="147" y1="649.5" x2="170.5" y2="649.5" stroke="#333" stroke-width="0.55"/>
<line x1="147" y1="648.6" x2="147" y2="650.4" stroke="#555" stroke-width="0.5"/>
<text x="158" y="640.25" font-size="4.9" text-anchor="middle" class="k">7.05</text>
<line x1="130.9" y1="662.9" x2="132.5" y2="662.9" stroke="#161314" stroke-width="0.5"/>
<text x="129.7" y="664.62" font-size="4.8" text-anchor="end" class="k">0</text>
<line x1="130.9" y1="655.2" x2="132.5" y2="655.2" stroke="#161314" stroke-width="0.5"/>
<text x="129.7" y="656.92" font-size="4.8" text-anchor="end" class="k">100</text>
<line x1="130.9" y1="647.5" x2="132.5" y2="647.5" stroke="#161314" stroke-width="0.5"/>
<text x="129.7" y="649.22" font-size="4.8" text-anchor="end" class="k">200</text>
<line x1="130.9" y1="639.8" x2="132.5" y2="639.8" stroke="#161314" stroke-width="0.5"/>
<text x="129.7" y="641.52" font-size="4.8" text-anchor="end" class="k">300</text>
<line x1="130.9" y1="632.1" x2="132.5" y2="632.1" stroke="#161314" stroke-width="0.5"/>
<text x="129.7" y="633.82" font-size="4.8" text-anchor="end" class="k">400</text>
<text x="136.9" y="671.16" font-size="5.2" text-anchor="middle" textLength="6.5" lengthAdjust="spacingAndGlyphs" class="k">-10<tspan font-size="3.4" dy="-1.7">3</tspan></text>
<text x="141.8" y="671.16" font-size="5.2" text-anchor="middle" textLength="2.4" lengthAdjust="spacingAndGlyphs" class="k">0</text>
<text x="149.3" y="671.16" font-size="5.2" text-anchor="middle" textLength="6.1" lengthAdjust="spacingAndGlyphs" class="k">10<tspan font-size="3.4" dy="-1.7">3</tspan></text>
<text x="158.9" y="671.16" font-size="5.2" text-anchor="middle" textLength="6.1" lengthAdjust="spacingAndGlyphs" class="k">10<tspan font-size="3.4" dy="-1.7">4</tspan></text>
<text x="166.8" y="671.16" font-size="5.2" text-anchor="middle" textLength="6.1" lengthAdjust="spacingAndGlyphs" class="k">10<tspan font-size="3.4" dy="-1.7">5</tspan></text>
<line x1="135.7" y1="663.5" x2="135.7" y2="665.1" stroke="#161314" stroke-width="0.45"/>
<line x1="140.9" y1="663.5" x2="140.9" y2="665.1" stroke="#161314" stroke-width="0.45"/>
<line x1="146.1" y1="663.5" x2="146.1" y2="665.1" stroke="#161314" stroke-width="0.45"/>
<line x1="155.7" y1="663.5" x2="155.7" y2="665.1" stroke="#161314" stroke-width="0.45"/>
<line x1="165.1" y1="663.5" x2="165.1" y2="665.1" stroke="#161314" stroke-width="0.45"/>
<line x1="137.1" y1="663.5" x2="137.1" y2="664.4" stroke="#161314" stroke-width="0.3"/>
<line x1="138.1" y1="663.5" x2="138.1" y2="664.4" stroke="#161314" stroke-width="0.3"/>
<line x1="138.8" y1="663.5" x2="138.8" y2="664.4" stroke="#161314" stroke-width="0.3"/>
<line x1="139.5" y1="663.5" x2="139.5" y2="664.4" stroke="#161314" stroke-width="0.3"/>
<line x1="142.3" y1="663.5" x2="142.3" y2="664.4" stroke="#161314" stroke-width="0.3"/>
<line x1="143.1" y1="663.5" x2="143.1" y2="664.4" stroke="#161314" stroke-width="0.3"/>
<line x1="143.9" y1="663.5" x2="143.9" y2="664.4" stroke="#161314" stroke-width="0.3"/>
<line x1="144.7" y1="663.5" x2="144.7" y2="664.4" stroke="#161314" stroke-width="0.3"/>
<line x1="149" y1="663.5" x2="149" y2="664.4" stroke="#161314" stroke-width="0.3"/>
<line x1="150.7" y1="663.5" x2="150.7" y2="664.4" stroke="#161314" stroke-width="0.3"/>
<line x1="151.9" y1="663.5" x2="151.9" y2="664.4" stroke="#161314" stroke-width="0.3"/>
<line x1="152.8" y1="663.5" x2="152.8" y2="664.4" stroke="#161314" stroke-width="0.3"/>
<line x1="153.6" y1="663.5" x2="153.6" y2="664.4" stroke="#161314" stroke-width="0.3"/>
<line x1="154.2" y1="663.5" x2="154.2" y2="664.4" stroke="#161314" stroke-width="0.3"/>
<line x1="154.8" y1="663.5" x2="154.8" y2="664.4" stroke="#161314" stroke-width="0.3"/>
<line x1="158.6" y1="663.5" x2="158.6" y2="664.4" stroke="#161314" stroke-width="0.3"/>
<line x1="160.3" y1="663.5" x2="160.3" y2="664.4" stroke="#161314" stroke-width="0.3"/>
<line x1="161.5" y1="663.5" x2="161.5" y2="664.4" stroke="#161314" stroke-width="0.3"/>
<line x1="162.4" y1="663.5" x2="162.4" y2="664.4" stroke="#161314" stroke-width="0.3"/>
<line x1="163.2" y1="663.5" x2="163.2" y2="664.4" stroke="#161314" stroke-width="0.3"/>
<line x1="163.8" y1="663.5" x2="163.8" y2="664.4" stroke="#161314" stroke-width="0.3"/>
<line x1="164.4" y1="663.5" x2="164.4" y2="664.4" stroke="#161314" stroke-width="0.3"/>
<line x1="167.9" y1="663.5" x2="167.9" y2="664.4" stroke="#161314" stroke-width="0.3"/>
<line x1="169.1" y1="663.5" x2="169.1" y2="664.4" stroke="#161314" stroke-width="0.3"/>
<rect x="139.8" y="663.3" width="1.6" height="1.1" fill="#111"/>
<path d="M192.5 663.2 L192.5 663.2 L192.8 663.2 L193.1 663.2 L193.4 663.2 L193.7 663.2 L194 663.2 L194.3 663.19 L194.6 663.18 L194.9 663.16 L195.2 663.12 L195.5 662.99 L195.8 662.66 L196.1 661.78 L196.4 659.74 L196.7 655.74 L197 649.43 L197.3 641.63 L197.6 634.67 L197.9 631.3 L198.2 631.19 L198.5 632.68 L198.8 635.45 L199.1 639.02 L199.4 642.9 L199.7 646.64 L200 649.81 L200.3 652.32 L200.6 654.22 L200.9 655.64 L201.2 656.73 L201.5 657.59 L201.8 658.32 L202.1 658.97 L202.4 659.56 L202.7 660.11 L203 660.61 L203.3 661.06 L203.6 661.45 L203.9 661.8 L204.2 662.09 L204.5 662.34 L204.8 662.53 L205.1 662.69 L205.4 662.81 L205.7 662.9 L206 662.96 L206.3 663 L206.6 663.02 L206.9 663.02 L207.2 663 L207.5 662.96 L207.8 662.91 L208.1 662.84 L208.4 662.75 L208.7 662.65 L209 662.53 L209.3 662.38 L209.6 662.22 L209.9 662.05 L210.2 661.86 L210.5 661.66 L210.8 661.45 L211.1 661.24 L211.4 661.03 L211.7 660.84 L212 660.66 L212.3 660.5 L212.6 660.37 L212.9 660.28 L213.2 660.22 L213.5 660.2 L213.8 660.23 L214.1 660.31 L214.4 660.44 L214.7 660.61 L215 660.82 L215.3 661.05 L215.6 661.3 L215.9 661.55 L216.2 661.79 L216.5 662.02 L216.8 662.23 L217.1 662.41 L217.4 662.58 L217.7 662.72 L218 662.83 L218.3 662.92 L218.6 663 L218.9 663.05 L219.2 663.1 L219.5 663.13 L219.8 663.15 L220.1 663.17 L220.4 663.18 L220.7 663.19 L221 663.19 L221.3 663.19 L221.6 663.2 L221.9 663.2 L222.2 663.2 L222.5 663.2 L222.8 663.2 L223.1 663.2 L223.4 663.2 L223.7 663.2 L224 663.2 L224.3 663.2 L224.5 663.2 Z" fill="#eebcc6" stroke="#c0405e" stroke-width="0.6" stroke-linejoin="round"/>
<rect x="187.5" y="626.5" width="38" height="37" fill="none" stroke="#0a0a0a" stroke-width="0.9"/>
<line x1="202" y1="649.5" x2="225.5" y2="649.5" stroke="#333" stroke-width="0.55"/>
<line x1="202" y1="648.6" x2="202" y2="650.4" stroke="#555" stroke-width="0.5"/>
<text x="214.2" y="640.25" font-size="4.9" text-anchor="middle" class="k">20.7</text>
<line x1="185.9" y1="662.9" x2="187.5" y2="662.9" stroke="#161314" stroke-width="0.5"/>
<text x="184.7" y="664.62" font-size="4.8" text-anchor="end" class="k">0</text>
<line x1="185.9" y1="652.4" x2="187.5" y2="652.4" stroke="#161314" stroke-width="0.5"/>
<text x="184.7" y="654.12" font-size="4.8" text-anchor="end" class="k">100</text>
<line x1="185.9" y1="641.9" x2="187.5" y2="641.9" stroke="#161314" stroke-width="0.5"/>
<text x="184.7" y="643.62" font-size="4.8" text-anchor="end" class="k">200</text>
<line x1="185.9" y1="631.4" x2="187.5" y2="631.4" stroke="#161314" stroke-width="0.5"/>
<text x="184.7" y="633.12" font-size="4.8" text-anchor="end" class="k">300</text>
<text x="191.9" y="671.16" font-size="5.2" text-anchor="middle" textLength="6.5" lengthAdjust="spacingAndGlyphs" class="k">-10<tspan font-size="3.4" dy="-1.7">3</tspan></text>
<text x="196.8" y="671.16" font-size="5.2" text-anchor="middle" textLength="2.4" lengthAdjust="spacingAndGlyphs" class="k">0</text>
<text x="204.3" y="671.16" font-size="5.2" text-anchor="middle" textLength="6.1" lengthAdjust="spacingAndGlyphs" class="k">10<tspan font-size="3.4" dy="-1.7">3</tspan></text>
<text x="213.9" y="671.16" font-size="5.2" text-anchor="middle" textLength="6.1" lengthAdjust="spacingAndGlyphs" class="k">10<tspan font-size="3.4" dy="-1.7">4</tspan></text>
<text x="221.8" y="671.16" font-size="5.2" text-anchor="middle" textLength="6.1" lengthAdjust="spacingAndGlyphs" class="k">10<tspan font-size="3.4" dy="-1.7">5</tspan></text>
<line x1="190.7" y1="663.5" x2="190.7" y2="665.1" stroke="#161314" stroke-width="0.45"/>
<line x1="195.9" y1="663.5" x2="195.9" y2="665.1" stroke="#161314" stroke-width="0.45"/>
<line x1="201.1" y1="663.5" x2="201.1" y2="665.1" stroke="#161314" stroke-width="0.45"/>
<line x1="210.7" y1="663.5" x2="210.7" y2="665.1" stroke="#161314" stroke-width="0.45"/>
<line x1="220.1" y1="663.5" x2="220.1" y2="665.1" stroke="#161314" stroke-width="0.45"/>
<line x1="192.1" y1="663.5" x2="192.1" y2="664.4" stroke="#161314" stroke-width="0.3"/>
<line x1="193.1" y1="663.5" x2="193.1" y2="664.4" stroke="#161314" stroke-width="0.3"/>
<line x1="193.8" y1="663.5" x2="193.8" y2="664.4" stroke="#161314" stroke-width="0.3"/>
<line x1="194.5" y1="663.5" x2="194.5" y2="664.4" stroke="#161314" stroke-width="0.3"/>
<line x1="197.3" y1="663.5" x2="197.3" y2="664.4" stroke="#161314" stroke-width="0.3"/>
<line x1="198.1" y1="663.5" x2="198.1" y2="664.4" stroke="#161314" stroke-width="0.3"/>
<line x1="198.9" y1="663.5" x2="198.9" y2="664.4" stroke="#161314" stroke-width="0.3"/>
<line x1="199.7" y1="663.5" x2="199.7" y2="664.4" stroke="#161314" stroke-width="0.3"/>
<line x1="204" y1="663.5" x2="204" y2="664.4" stroke="#161314" stroke-width="0.3"/>
<line x1="205.7" y1="663.5" x2="205.7" y2="664.4" stroke="#161314" stroke-width="0.3"/>
<line x1="206.9" y1="663.5" x2="206.9" y2="664.4" stroke="#161314" stroke-width="0.3"/>
<line x1="207.8" y1="663.5" x2="207.8" y2="664.4" stroke="#161314" stroke-width="0.3"/>
<line x1="208.6" y1="663.5" x2="208.6" y2="664.4" stroke="#161314" stroke-width="0.3"/>
<line x1="209.2" y1="663.5" x2="209.2" y2="664.4" stroke="#161314" stroke-width="0.3"/>
<line x1="209.8" y1="663.5" x2="209.8" y2="664.4" stroke="#161314" stroke-width="0.3"/>
<line x1="213.6" y1="663.5" x2="213.6" y2="664.4" stroke="#161314" stroke-width="0.3"/>
<line x1="215.3" y1="663.5" x2="215.3" y2="664.4" stroke="#161314" stroke-width="0.3"/>
<line x1="216.5" y1="663.5" x2="216.5" y2="664.4" stroke="#161314" stroke-width="0.3"/>
<line x1="217.4" y1="663.5" x2="217.4" y2="664.4" stroke="#161314" stroke-width="0.3"/>
<line x1="218.2" y1="663.5" x2="218.2" y2="664.4" stroke="#161314" stroke-width="0.3"/>
<line x1="218.8" y1="663.5" x2="218.8" y2="664.4" stroke="#161314" stroke-width="0.3"/>
<line x1="219.4" y1="663.5" x2="219.4" y2="664.4" stroke="#161314" stroke-width="0.3"/>
<line x1="222.9" y1="663.5" x2="222.9" y2="664.4" stroke="#161314" stroke-width="0.3"/>
<line x1="224.1" y1="663.5" x2="224.1" y2="664.4" stroke="#161314" stroke-width="0.3"/>
<rect x="194.8" y="663.3" width="1.6" height="1.1" fill="#111"/>
<text x="27" y="680.46" font-size="8" textLength="24.5" lengthAdjust="spacingAndGlyphs" class="k">Annexin V</text>
<line x1="53.8" y1="677.5" x2="215" y2="677.5" stroke="#2a2a2a" stroke-width="1"/>
<path d="M214 675.3 L219.4 677.5 L214 679.7Z" fill="#161314"/>
<rect x="0.5" y="0.5" width="519" height="687" fill="none" stroke="#000" stroke-width="1"/>
</svg></body></html>
